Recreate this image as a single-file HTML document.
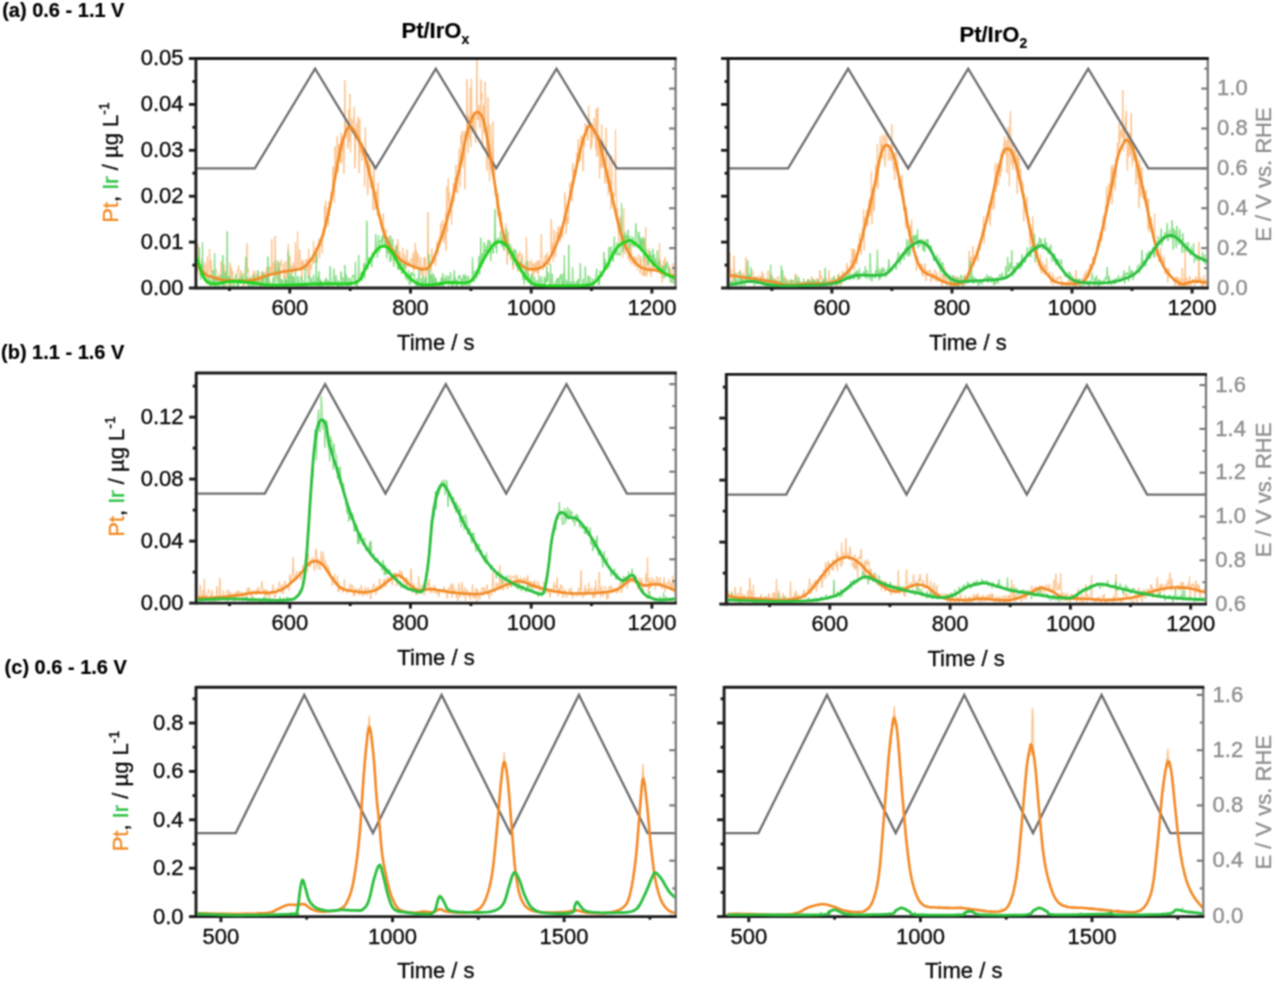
<!DOCTYPE html><html><head><meta charset="utf-8"><style>html,body{margin:0;padding:0;background:#fff;width:1280px;height:986px;overflow:hidden}svg{display:block}</style></head><body><svg width="1280" height="986" viewBox="0 0 1280 986" font-family='"Liberation Sans", sans-serif'>
<defs><filter id="soft" x="0" y="0" width="1" height="1" color-interpolation-filters="sRGB"><feConvolveMatrix order="3" kernelMatrix="1 2 1 2 4 2 1 2 1" divisor="16" edgeMode="duplicate" preserveAlpha="true"/></filter></defs>
<g filter="url(#soft)">
<rect width="1280" height="986" fill="#fff"/>
<clipPath id="clipLa"><rect x="197.1" y="59.7" width="477.50000000000006" height="227.3"/></clipPath>
<clipPath id="clipbLa"><rect x="197.1" y="59.7" width="477.50000000000006" height="230.0"/></clipPath>
<g clip-path="url(#clipLa)">
<path d="M196.4,260.7 L197.0,272.9 L197.5,267.8 L198.1,243.7 L198.6,268.9 L199.2,267.0 L199.7,275.2 L200.3,271.2 L200.8,273.7 L201.4,270.3 L201.9,259.4 L202.5,274.3 L203.0,263.6 L203.6,268.6 L204.1,273.5 L204.7,268.4 L205.2,262.6 L205.8,266.2 L206.3,284.3 L206.9,276.3 L207.4,256.3 L208.0,273.8 L208.5,271.7 L209.1,270.5 L209.6,249.0 L210.2,270.0 L210.7,278.1 L211.3,260.0 L211.8,271.2 L212.4,285.0 L212.9,280.7 L213.5,282.4 L214.0,282.8 L214.6,278.2 L215.1,282.7 L215.7,282.6 L216.2,269.1 L216.8,273.6 L217.3,281.6 L217.9,276.7 L218.4,282.0 L219.0,274.3 L219.5,279.5 L220.1,274.9 L220.6,273.2 L221.2,261.4 L221.7,268.2 L222.3,282.8 L222.8,276.8 L223.4,275.0 L223.9,272.3 L224.5,264.6 L225.0,283.1 L225.6,271.5 L226.1,286.3 L226.7,277.8 L227.2,274.8 L227.8,282.0 L228.3,276.3 L228.9,286.1 L229.4,282.8 L230.0,262.7 L230.5,273.4 L231.1,276.2 L231.6,267.0 L232.2,282.3 L232.7,271.2 L233.3,286.5 L233.8,282.4 L234.4,286.2 L234.9,281.9 L235.5,282.8 L236.0,279.4 L236.6,280.2 L237.1,273.6 L237.7,269.4 L238.2,270.0 L238.8,265.5 L239.3,281.9 L239.9,279.6 L240.4,276.3 L241.0,270.5 L241.5,280.5 L242.1,281.7 L242.6,279.7 L243.2,286.3 L243.7,281.2 L244.3,285.9 L244.8,272.9 L245.4,282.9 L245.9,283.6 L246.5,284.4 L247.0,243.5 L247.6,272.5 L248.1,268.5 L248.7,275.8 L249.2,277.3 L249.8,282.2 L250.3,277.8 L250.9,282.0 L251.4,286.0 L252.0,276.3 L252.5,274.0 L253.1,286.5 L253.6,270.6 L254.2,273.2 L254.7,272.8 L255.3,271.7 L255.8,283.7 L256.4,285.8 L256.9,274.0 L257.5,274.1 L258.0,283.4 L258.6,273.0 L259.1,286.2 L259.7,284.8 L260.2,276.2 L260.8,286.5 L261.3,272.2 L261.9,278.1 L262.4,270.8 L263.0,284.1 L263.5,280.1 L264.1,280.2 L264.6,275.2 L265.2,271.6 L265.7,276.5 L266.3,272.1 L266.8,267.3 L267.4,269.1 L267.9,273.7 L268.5,285.8 L269.0,285.0 L269.6,267.0 L270.1,266.4 L270.7,269.8 L271.2,275.2 L271.8,239.3 L272.3,272.3 L272.9,274.7 L273.4,262.5 L274.0,274.1 L274.5,276.4 L275.1,235.9 L275.6,262.3 L276.2,265.2 L276.7,277.0 L277.3,281.0 L277.8,260.4 L278.4,276.5 L278.9,268.3 L279.5,271.0 L280.0,279.0 L280.6,272.3 L281.1,259.7 L281.7,265.7 L282.2,264.5 L282.8,264.0 L283.3,270.9 L283.9,277.1 L284.4,266.4 L285.0,261.6 L285.5,274.7 L286.1,282.0 L286.6,279.7 L287.2,261.5 L287.7,263.1 L288.3,244.4 L288.8,262.2 L289.4,274.7 L289.9,255.6 L290.5,272.2 L291.0,266.0 L291.6,279.6 L292.1,265.6 L292.7,273.4 L293.2,263.2 L293.8,262.7 L294.3,271.0 L294.9,264.1 L295.4,242.4 L296.0,270.5 L296.5,271.5 L297.1,263.1 L297.6,231.6 L298.2,267.4 L298.7,264.6 L299.3,260.0 L299.8,249.7 L300.4,270.7 L300.9,263.7 L301.5,261.7 L302.0,279.4 L302.6,259.8 L303.1,260.5 L303.7,269.9 L304.2,266.1 L304.8,263.9 L305.3,263.7 L305.9,259.3 L306.4,270.4 L307.0,263.4 L307.5,258.9 L308.1,277.5 L308.6,248.8 L309.2,260.4 L309.7,274.4 L310.3,263.9 L310.8,264.4 L311.4,269.4 L311.9,264.2 L312.5,259.0 L313.0,264.1 L313.6,240.8 L314.1,262.9 L314.7,257.8 L315.2,262.9 L315.8,247.4 L316.3,252.3 L316.9,260.3 L317.4,262.8 L318.0,244.4 L318.5,243.7 L319.1,239.0 L319.6,258.2 L320.2,237.7 L320.7,240.8 L321.3,245.7 L321.8,243.4 L322.4,253.5 L322.9,230.0 L323.5,227.3 L324.0,236.5 L324.6,205.4 L325.1,229.2 L325.7,200.6 L326.2,227.0 L326.8,217.2 L327.3,217.7 L327.9,207.8 L328.4,225.5 L329.0,201.9 L329.5,215.7 L330.1,200.8 L330.6,200.0 L331.2,192.0 L331.7,198.4 L332.3,197.6 L332.8,167.1 L333.4,166.3 L333.9,187.6 L334.5,202.8 L335.0,146.5 L335.6,179.9 L336.1,173.6 L336.7,160.9 L337.2,136.4 L337.8,146.7 L338.3,172.8 L338.9,144.7 L339.4,157.8 L340.0,143.4 L340.5,163.3 L341.1,132.8 L341.6,162.8 L342.2,143.4 L342.7,150.0 L343.3,138.9 L343.8,173.9 L344.4,148.2 L344.9,80.2 L345.5,138.3 L346.0,135.9 L346.6,123.9 L347.1,131.5 L347.7,148.7 L348.2,146.3 L348.8,108.9 L349.3,141.9 L349.9,94.1 L350.4,152.6 L351.0,133.0 L351.5,117.9 L352.1,125.6 L352.6,133.0 L353.2,120.3 L353.7,123.1 L354.3,106.8 L354.8,168.3 L355.4,154.9 L355.9,136.4 L356.5,123.0 L357.0,133.3 L357.6,124.1 L358.1,116.6 L358.7,151.1 L359.2,173.1 L359.8,119.0 L360.3,146.3 L360.9,152.6 L361.4,150.6 L362.0,160.7 L362.5,142.8 L363.1,153.2 L363.6,153.2 L364.2,153.3 L364.7,186.7 L365.3,127.1 L365.8,154.0 L366.4,165.2 L366.9,161.2 L367.5,195.4 L368.0,192.6 L368.6,154.3 L369.1,172.3 L369.7,170.2 L370.2,164.3 L370.8,188.5 L371.3,177.9 L371.9,182.6 L372.4,180.1 L373.0,210.1 L373.5,161.5 L374.1,172.1 L374.6,188.4 L375.2,209.6 L375.7,191.2 L376.3,190.6 L376.8,197.9 L377.4,215.8 L377.9,182.7 L378.5,210.3 L379.0,217.6 L379.6,214.9 L380.1,213.9 L380.7,219.0 L381.2,227.1 L381.8,225.1 L382.3,230.1 L382.9,216.5 L383.4,213.4 L384.0,238.9 L384.5,227.6 L385.1,238.2 L385.6,232.3 L386.2,229.8 L386.7,248.3 L387.3,252.4 L387.8,247.3 L388.4,249.0 L388.9,236.4 L389.5,249.6 L390.0,235.9 L390.6,236.4 L391.1,246.8 L391.7,244.4 L392.2,251.0 L392.8,255.4 L393.3,248.7 L393.9,255.5 L394.4,248.9 L395.0,259.8 L395.5,245.2 L396.1,251.6 L396.6,248.2 L397.2,262.3 L397.7,239.1 L398.3,246.3 L398.8,269.9 L399.4,255.9 L399.9,251.6 L400.5,269.8 L401.0,268.0 L401.6,258.4 L402.1,259.4 L402.7,247.6 L403.2,266.8 L403.8,271.5 L404.3,253.9 L404.9,255.5 L405.4,263.6 L406.0,269.5 L406.5,264.6 L407.1,249.5 L407.6,265.7 L408.2,265.9 L408.7,261.6 L409.3,263.8 L409.8,266.2 L410.4,262.9 L410.9,258.0 L411.5,258.5 L412.0,260.4 L412.6,268.6 L413.1,252.4 L413.7,271.4 L414.2,268.1 L414.8,253.4 L415.3,242.7 L415.9,267.4 L416.4,250.4 L417.0,268.8 L417.5,256.3 L418.1,253.6 L418.6,260.1 L419.2,269.4 L419.7,270.6 L420.3,264.1 L420.8,257.0 L421.4,275.1 L421.9,266.0 L422.5,273.3 L423.0,276.9 L423.6,268.8 L424.1,257.3 L424.7,267.6 L425.2,257.5 L425.8,279.2 L426.3,268.6 L426.9,271.4 L427.4,263.7 L428.0,212.4 L428.5,271.4 L429.1,274.9 L429.6,260.7 L430.2,263.3 L430.7,266.0 L431.3,273.1 L431.8,248.3 L432.4,262.7 L432.9,260.8 L433.5,263.7 L434.0,258.4 L434.6,255.3 L435.1,259.5 L435.7,265.9 L436.2,253.5 L436.8,243.4 L437.3,241.2 L437.9,254.3 L438.4,245.5 L439.0,241.0 L439.5,236.4 L440.1,244.8 L440.6,223.4 L441.2,240.6 L441.7,241.0 L442.3,219.7 L442.8,221.2 L443.4,224.6 L443.9,242.9 L444.5,229.5 L445.0,237.9 L445.6,212.8 L446.1,250.9 L446.7,186.4 L447.2,232.3 L447.8,222.6 L448.3,177.9 L448.9,201.2 L449.4,191.5 L450.0,211.2 L450.5,213.1 L451.1,209.6 L451.6,224.5 L452.2,196.0 L452.7,205.6 L453.3,183.3 L453.8,202.2 L454.4,197.0 L454.9,176.9 L455.5,191.4 L456.0,164.7 L456.6,193.1 L457.1,186.3 L457.7,193.3 L458.2,178.8 L458.8,157.6 L459.3,148.3 L459.9,148.5 L460.4,186.6 L461.0,135.2 L461.5,144.3 L462.1,131.6 L462.6,168.1 L463.2,145.0 L463.7,160.8 L464.3,130.9 L464.8,189.4 L465.4,138.1 L465.9,131.7 L466.5,134.6 L467.0,79.3 L467.6,112.2 L468.1,152.7 L468.7,115.4 L469.2,138.9 L469.8,116.8 L470.3,87.7 L470.9,147.2 L471.4,78.9 L472.0,123.8 L472.5,113.3 L473.1,132.9 L473.6,112.9 L474.2,111.4 L474.7,129.6 L475.3,138.5 L475.8,142.9 L476.4,104.3 L476.9,58.8 L477.5,119.3 L478.0,120.2 L478.6,116.7 L479.1,105.3 L479.7,127.3 L480.2,128.4 L480.8,79.6 L481.3,99.3 L481.9,92.9 L482.4,148.6 L483.0,107.2 L483.5,105.1 L484.1,132.9 L484.6,123.0 L485.2,81.8 L485.7,121.0 L486.3,137.6 L486.8,170.7 L487.4,156.4 L487.9,97.1 L488.5,127.3 L489.0,164.8 L489.6,181.6 L490.1,124.4 L490.7,137.2 L491.2,169.1 L491.8,161.1 L492.3,174.7 L492.9,121.5 L493.4,153.5 L494.0,178.4 L494.5,168.3 L495.1,194.9 L495.6,189.1 L496.2,186.9 L496.7,207.8 L497.3,209.2 L497.8,215.6 L498.4,193.8 L498.9,215.9 L499.5,218.8 L500.0,219.4 L500.6,225.1 L501.1,212.0 L501.7,227.0 L502.2,221.8 L502.8,241.2 L503.3,230.0 L503.9,251.1 L504.4,250.1 L505.0,240.8 L505.5,223.0 L506.1,232.7 L506.6,251.7 L507.2,264.9 L507.7,253.2 L508.3,231.8 L508.8,244.6 L509.4,246.8 L509.9,249.7 L510.5,250.4 L511.0,260.1 L511.6,245.8 L512.1,254.1 L512.7,264.7 L513.2,269.9 L513.8,249.4 L514.3,260.9 L514.9,250.8 L515.4,265.9 L516.0,263.0 L516.5,259.0 L517.1,253.7 L517.6,271.6 L518.2,265.9 L518.7,253.9 L519.3,256.1 L519.8,251.3 L520.4,270.6 L520.9,261.6 L521.5,260.4 L522.0,253.8 L522.6,260.7 L523.1,261.7 L523.7,268.1 L524.2,266.3 L524.8,276.3 L525.3,263.3 L525.9,267.1 L526.4,236.9 L527.0,255.9 L527.5,276.0 L528.1,276.3 L528.6,275.6 L529.2,260.8 L529.7,269.3 L530.3,268.3 L530.8,268.7 L531.4,259.6 L531.9,267.2 L532.5,275.4 L533.0,263.6 L533.6,276.4 L534.1,262.8 L534.7,270.6 L535.2,264.6 L535.8,273.0 L536.3,261.8 L536.9,270.3 L537.4,273.1 L538.0,260.3 L538.5,276.8 L539.1,260.8 L539.6,268.0 L540.2,269.4 L540.7,258.1 L541.3,234.0 L541.8,253.0 L542.4,258.6 L542.9,270.2 L543.5,261.9 L544.0,263.4 L544.6,267.2 L545.1,255.1 L545.7,267.1 L546.2,257.1 L546.8,254.2 L547.3,252.0 L547.9,265.5 L548.4,261.1 L549.0,265.1 L549.5,258.2 L550.1,258.0 L550.6,260.2 L551.2,219.0 L551.7,252.0 L552.3,253.6 L552.8,243.5 L553.4,262.1 L553.9,229.7 L554.5,233.3 L555.0,255.4 L555.6,257.3 L556.1,240.7 L556.7,232.4 L557.2,238.0 L557.8,227.3 L558.3,238.9 L558.9,237.1 L559.4,225.9 L560.0,227.4 L560.5,241.8 L561.1,231.1 L561.6,237.7 L562.2,229.5 L562.7,236.9 L563.3,224.8 L563.8,216.8 L564.4,210.2 L564.9,192.4 L565.5,199.5 L566.0,233.7 L566.6,217.5 L567.1,224.0 L567.7,216.7 L568.2,223.4 L568.8,209.3 L569.3,200.3 L569.9,183.3 L570.4,188.2 L571.0,184.1 L571.5,181.4 L572.1,201.5 L572.6,166.2 L573.2,163.1 L573.7,177.7 L574.3,174.5 L574.8,169.5 L575.4,176.2 L575.9,173.8 L576.5,158.6 L577.0,152.7 L577.6,165.8 L578.1,139.0 L578.7,146.0 L579.2,154.6 L579.8,153.6 L580.3,161.5 L580.9,137.1 L581.4,135.0 L582.0,151.1 L582.5,153.9 L583.1,171.1 L583.6,139.2 L584.2,135.6 L584.7,146.5 L585.3,123.2 L585.8,135.8 L586.4,136.1 L586.9,124.8 L587.5,140.5 L588.0,140.0 L588.6,105.7 L589.1,123.1 L589.7,119.4 L590.2,120.8 L590.8,149.6 L591.3,123.3 L591.8,146.9 L592.4,130.8 L592.9,124.1 L593.5,137.8 L594.0,118.0 L594.6,120.5 L595.1,120.6 L595.7,149.5 L596.2,108.8 L596.8,156.9 L597.3,119.8 L597.9,107.1 L598.4,155.8 L599.0,134.9 L599.5,178.7 L600.1,150.1 L600.6,154.5 L601.2,168.4 L601.7,124.5 L602.3,166.4 L602.8,140.1 L603.4,142.9 L603.9,169.0 L604.5,169.6 L605.0,183.8 L605.6,165.9 L606.1,127.9 L606.7,165.0 L607.2,182.7 L607.8,169.6 L608.3,195.5 L608.9,185.0 L609.4,156.1 L610.0,191.9 L610.5,180.2 L611.1,209.0 L611.6,155.8 L612.2,203.4 L612.7,193.0 L613.3,205.3 L613.8,193.2 L614.4,196.1 L614.9,195.9 L615.5,129.5 L616.0,190.0 L616.6,197.8 L617.1,216.6 L617.7,208.4 L618.2,232.2 L618.8,243.5 L619.3,217.1 L619.9,228.4 L620.4,231.6 L621.0,217.7 L621.5,223.2 L622.1,239.9 L622.6,257.4 L623.2,218.8 L623.7,208.4 L624.3,248.3 L624.8,248.0 L625.4,254.7 L625.9,235.3 L626.5,243.7 L627.0,246.5 L627.6,235.8 L628.1,259.1 L628.7,254.3 L629.2,248.9 L629.8,262.1 L630.3,258.6 L630.9,243.2 L631.4,253.2 L632.0,264.7 L632.5,260.6 L633.1,259.1 L633.6,263.0 L634.2,256.6 L634.7,266.9 L635.3,260.6 L635.8,256.9 L636.4,260.8 L636.9,259.9 L637.5,270.4 L638.0,258.0 L638.6,254.5 L639.1,258.4 L639.7,259.4 L640.2,273.6 L640.8,256.5 L641.3,260.0 L641.9,266.2 L642.4,275.8 L643.0,274.7 L643.5,275.2 L644.1,255.2 L644.6,276.2 L645.2,275.2 L645.7,227.2 L646.3,276.8 L646.8,275.2 L647.4,274.4 L647.9,267.2 L648.5,255.0 L649.0,248.3 L649.6,272.2 L650.1,271.9 L650.7,268.4 L651.2,276.8 L651.8,264.4 L652.3,262.0 L652.9,267.3 L653.4,264.8 L654.0,271.1 L654.5,261.7 L655.1,259.9 L655.6,259.9 L656.2,264.1 L656.7,268.1 L657.3,262.2 L657.8,261.8 L658.4,270.1 L658.9,270.4 L659.5,243.0 L660.0,263.2 L660.6,260.0 L661.1,275.2 L661.7,264.7 L662.2,282.6 L662.8,265.2 L663.3,265.7 L663.9,260.0 L664.4,271.9 L665.0,257.3 L665.5,267.1 L666.1,268.4 L666.6,266.1 L667.2,265.1 L667.7,264.2 L668.3,271.3 L668.8,268.9 L669.4,265.4 L669.9,278.1 L670.5,268.5 L671.0,274.9 L671.6,282.8 L672.1,274.9 L672.7,270.8 L673.2,263.3 L673.8,266.7 L674.3,278.2 L674.9,282.3" fill="none" stroke="#fcbf86" stroke-width="1.0" stroke-linejoin="round"/>
<path d="M196.4,256.6 L197.0,262.4 L197.5,263.6 L198.1,260.5 L198.6,262.5 L199.2,247.5 L199.7,262.8 L200.3,270.8 L200.8,279.5 L201.4,264.2 L201.9,272.4 L202.5,242.0 L203.0,275.4 L203.6,272.5 L204.1,273.0 L204.7,277.4 L205.2,271.6 L205.8,274.9 L206.3,273.8 L206.9,278.2 L207.4,281.4 L208.0,283.4 L208.5,284.0 L209.1,274.8 L209.6,279.0 L210.2,286.4 L210.7,279.8 L211.3,286.0 L211.8,282.5 L212.4,282.8 L212.9,270.1 L213.5,284.2 L214.0,286.4 L214.6,253.3 L215.1,279.5 L215.7,286.2 L216.2,280.6 L216.8,276.4 L217.3,282.0 L217.9,286.4 L218.4,286.4 L219.0,286.4 L219.5,276.7 L220.1,282.7 L220.6,280.3 L221.2,274.7 L221.7,280.2 L222.3,286.4 L222.8,255.1 L223.4,277.1 L223.9,286.5 L224.5,286.3 L225.0,272.7 L225.6,281.2 L226.1,281.5 L226.7,277.0 L227.2,231.4 L227.8,277.1 L228.3,278.9 L228.9,276.7 L229.4,286.4 L230.0,276.0 L230.5,279.6 L231.1,286.4 L231.6,279.6 L232.2,282.9 L232.7,281.4 L233.3,280.5 L233.8,286.3 L234.4,279.6 L234.9,277.8 L235.5,277.7 L236.0,274.1 L236.6,280.9 L237.1,286.4 L237.7,283.3 L238.2,286.3 L238.8,278.1 L239.3,284.2 L239.9,282.0 L240.4,278.1 L241.0,283.9 L241.5,276.1 L242.1,280.8 L242.6,273.5 L243.2,284.1 L243.7,279.6 L244.3,279.1 L244.8,274.5 L245.4,266.2 L245.9,256.8 L246.5,281.9 L247.0,277.0 L247.6,277.1 L248.1,286.3 L248.7,279.7 L249.2,286.3 L249.8,279.6 L250.3,277.2 L250.9,286.2 L251.4,286.4 L252.0,282.3 L252.5,280.8 L253.1,286.3 L253.6,276.1 L254.2,274.8 L254.7,285.9 L255.3,279.2 L255.8,285.1 L256.4,284.9 L256.9,286.4 L257.5,279.0 L258.0,270.2 L258.6,277.8 L259.1,280.9 L259.7,286.2 L260.2,285.8 L260.8,286.5 L261.3,286.1 L261.9,275.0 L262.4,281.4 L263.0,272.2 L263.5,283.8 L264.1,286.3 L264.6,285.8 L265.2,276.4 L265.7,277.4 L266.3,283.7 L266.8,275.2 L267.4,286.0 L267.9,256.5 L268.5,278.8 L269.0,284.6 L269.6,284.2 L270.1,281.8 L270.7,284.8 L271.2,286.4 L271.8,284.3 L272.3,286.4 L272.9,279.6 L273.4,277.0 L274.0,284.5 L274.5,271.5 L275.1,271.5 L275.6,259.8 L276.2,286.2 L276.7,286.5 L277.3,286.5 L277.8,285.7 L278.4,280.6 L278.9,262.3 L279.5,286.4 L280.0,280.8 L280.6,278.7 L281.1,284.1 L281.7,281.1 L282.2,279.0 L282.8,286.2 L283.3,286.5 L283.9,286.1 L284.4,277.1 L285.0,286.1 L285.5,280.0 L286.1,286.2 L286.6,279.7 L287.2,281.1 L287.7,286.3 L288.3,250.6 L288.8,286.1 L289.4,275.7 L289.9,285.5 L290.5,274.0 L291.0,273.7 L291.6,285.0 L292.1,286.3 L292.7,276.0 L293.2,285.3 L293.8,277.0 L294.3,284.0 L294.9,285.7 L295.4,267.9 L296.0,283.5 L296.5,286.4 L297.1,283.4 L297.6,275.8 L298.2,279.6 L298.7,284.5 L299.3,286.4 L299.8,281.7 L300.4,276.7 L300.9,276.5 L301.5,277.2 L302.0,286.4 L302.6,279.8 L303.1,285.8 L303.7,283.3 L304.2,286.3 L304.8,284.2 L305.3,268.3 L305.9,286.4 L306.4,282.7 L307.0,282.2 L307.5,286.0 L308.1,286.2 L308.6,276.2 L309.2,278.1 L309.7,274.9 L310.3,283.9 L310.8,280.8 L311.4,277.8 L311.9,286.5 L312.5,282.4 L313.0,281.9 L313.6,274.7 L314.1,282.9 L314.7,280.8 L315.2,286.3 L315.8,284.8 L316.3,254.2 L316.9,285.1 L317.4,286.0 L318.0,277.1 L318.5,286.3 L319.1,271.4 L319.6,286.2 L320.2,279.2 L320.7,286.5 L321.3,286.4 L321.8,280.9 L322.4,281.1 L322.9,286.3 L323.5,286.1 L324.0,286.2 L324.6,280.6 L325.1,279.7 L325.7,282.2 L326.2,277.7 L326.8,286.5 L327.3,285.7 L327.9,280.4 L328.4,284.3 L329.0,286.3 L329.5,285.0 L330.1,266.2 L330.6,274.6 L331.2,284.3 L331.7,286.4 L332.3,285.0 L332.8,280.9 L333.4,277.9 L333.9,268.7 L334.5,286.1 L335.0,281.7 L335.6,283.3 L336.1,275.4 L336.7,282.1 L337.2,286.2 L337.8,286.4 L338.3,280.4 L338.9,286.5 L339.4,286.0 L340.0,280.5 L340.5,279.7 L341.1,271.5 L341.6,276.3 L342.2,286.5 L342.7,277.3 L343.3,283.8 L343.8,284.2 L344.4,285.0 L344.9,265.1 L345.5,286.0 L346.0,274.1 L346.6,275.8 L347.1,283.2 L347.7,286.4 L348.2,277.6 L348.8,286.1 L349.3,286.1 L349.9,285.5 L350.4,277.9 L351.0,285.5 L351.5,280.9 L352.1,281.6 L352.6,274.9 L353.2,276.8 L353.7,275.2 L354.3,277.8 L354.8,284.2 L355.4,261.8 L355.9,286.1 L356.5,283.3 L357.0,286.4 L357.6,286.1 L358.1,276.0 L358.7,255.1 L359.2,282.0 L359.8,277.3 L360.3,278.3 L360.9,274.0 L361.4,271.7 L362.0,280.6 L362.5,271.5 L363.1,276.6 L363.6,263.6 L364.2,263.1 L364.7,278.6 L365.3,268.0 L365.8,262.2 L366.4,256.1 L366.9,220.8 L367.5,269.0 L368.0,269.2 L368.6,257.3 L369.1,258.8 L369.7,260.4 L370.2,262.0 L370.8,259.9 L371.3,264.9 L371.9,267.1 L372.4,252.4 L373.0,253.6 L373.5,254.7 L374.1,257.4 L374.6,249.6 L375.2,252.4 L375.7,234.2 L376.3,247.7 L376.8,250.0 L377.4,257.7 L377.9,247.6 L378.5,235.0 L379.0,251.4 L379.6,252.6 L380.1,240.4 L380.7,242.9 L381.2,241.6 L381.8,236.7 L382.3,245.6 L382.9,234.7 L383.4,237.3 L384.0,238.5 L384.5,244.8 L385.1,246.1 L385.6,236.7 L386.2,246.9 L386.7,258.5 L387.3,236.9 L387.8,244.0 L388.4,254.0 L388.9,239.8 L389.5,249.3 L390.0,262.2 L390.6,235.6 L391.1,254.3 L391.7,260.3 L392.2,243.1 L392.8,239.0 L393.3,256.2 L393.9,266.6 L394.4,256.1 L395.0,249.9 L395.5,256.1 L396.1,255.3 L396.6,245.0 L397.2,263.5 L397.7,269.4 L398.3,267.8 L398.8,266.4 L399.4,269.8 L399.9,268.0 L400.5,261.6 L401.0,260.9 L401.6,274.1 L402.1,270.2 L402.7,272.1 L403.2,263.8 L403.8,270.5 L404.3,263.7 L404.9,264.8 L405.4,278.5 L406.0,275.9 L406.5,272.5 L407.1,280.5 L407.6,278.1 L408.2,271.3 L408.7,270.4 L409.3,284.9 L409.8,274.6 L410.4,273.7 L410.9,283.7 L411.5,272.2 L412.0,273.3 L412.6,272.5 L413.1,275.8 L413.7,276.1 L414.2,273.5 L414.8,283.1 L415.3,284.7 L415.9,286.3 L416.4,285.8 L417.0,278.3 L417.5,286.2 L418.1,286.1 L418.6,280.4 L419.2,267.1 L419.7,280.7 L420.3,285.9 L420.8,286.1 L421.4,278.1 L421.9,286.4 L422.5,286.3 L423.0,275.8 L423.6,279.2 L424.1,286.3 L424.7,280.5 L425.2,278.3 L425.8,283.4 L426.3,276.8 L426.9,286.4 L427.4,285.1 L428.0,286.4 L428.5,286.3 L429.1,254.1 L429.6,285.9 L430.2,279.3 L430.7,274.9 L431.3,285.9 L431.8,273.8 L432.4,286.2 L432.9,278.4 L433.5,273.3 L434.0,286.4 L434.6,276.5 L435.1,282.8 L435.7,284.1 L436.2,278.2 L436.8,286.3 L437.3,284.2 L437.9,286.2 L438.4,284.5 L439.0,286.2 L439.5,281.6 L440.1,285.7 L440.6,286.0 L441.2,277.6 L441.7,285.0 L442.3,286.4 L442.8,273.3 L443.4,286.3 L443.9,277.9 L444.5,282.9 L445.0,281.2 L445.6,282.7 L446.1,275.2 L446.7,282.9 L447.2,283.7 L447.8,280.3 L448.3,276.2 L448.9,283.4 L449.4,285.7 L450.0,275.9 L450.5,272.0 L451.1,277.8 L451.6,285.5 L452.2,283.9 L452.7,286.4 L453.3,286.3 L453.8,277.1 L454.4,270.2 L454.9,283.9 L455.5,277.6 L456.0,286.3 L456.6,279.9 L457.1,286.0 L457.7,286.3 L458.2,279.4 L458.8,275.6 L459.3,278.2 L459.9,275.3 L460.4,280.0 L461.0,278.9 L461.5,286.4 L462.1,278.8 L462.6,286.4 L463.2,274.4 L463.7,279.2 L464.3,276.4 L464.8,285.9 L465.4,274.2 L465.9,277.4 L466.5,284.4 L467.0,286.1 L467.6,276.2 L468.1,276.0 L468.7,276.4 L469.2,286.5 L469.8,286.1 L470.3,282.8 L470.9,278.8 L471.4,281.4 L472.0,279.5 L472.5,257.0 L473.1,273.9 L473.6,270.8 L474.2,282.3 L474.7,278.6 L475.3,276.3 L475.8,270.9 L476.4,278.8 L476.9,278.1 L477.5,273.5 L478.0,274.8 L478.6,262.6 L479.1,255.9 L479.7,274.4 L480.2,264.8 L480.8,237.7 L481.3,267.6 L481.9,266.0 L482.4,253.6 L483.0,264.0 L483.5,256.5 L484.1,242.3 L484.6,256.9 L485.2,250.1 L485.7,251.8 L486.3,245.3 L486.8,253.8 L487.4,254.0 L487.9,239.8 L488.5,240.5 L489.0,246.7 L489.6,251.6 L490.1,240.3 L490.7,261.2 L491.2,248.5 L491.8,245.6 L492.3,243.6 L492.9,253.1 L493.4,253.4 L494.0,241.4 L494.5,243.3 L495.1,209.2 L495.6,248.1 L496.2,240.1 L496.7,253.4 L497.3,238.9 L497.8,237.6 L498.4,238.1 L498.9,241.9 L499.5,243.5 L500.0,243.4 L500.6,231.3 L501.1,237.9 L501.7,246.8 L502.2,239.4 L502.8,246.2 L503.3,240.1 L503.9,249.5 L504.4,242.7 L505.0,239.7 L505.5,234.5 L506.1,245.4 L506.6,228.3 L507.2,239.4 L507.7,244.9 L508.3,254.7 L508.8,243.8 L509.4,245.9 L509.9,243.8 L510.5,257.9 L511.0,251.1 L511.6,251.3 L512.1,253.1 L512.7,265.4 L513.2,257.3 L513.8,248.9 L514.3,260.6 L514.9,249.8 L515.4,252.0 L516.0,250.4 L516.5,264.9 L517.1,268.1 L517.6,268.6 L518.2,264.8 L518.7,265.9 L519.3,271.1 L519.8,261.8 L520.4,266.6 L520.9,272.6 L521.5,260.0 L522.0,269.3 L522.6,277.6 L523.1,279.7 L523.7,273.7 L524.2,284.4 L524.8,277.6 L525.3,270.8 L525.9,280.2 L526.4,266.8 L527.0,260.8 L527.5,278.3 L528.1,282.6 L528.6,273.7 L529.2,280.5 L529.7,280.9 L530.3,277.5 L530.8,285.7 L531.4,273.9 L531.9,282.5 L532.5,275.6 L533.0,280.9 L533.6,285.9 L534.1,286.4 L534.7,276.9 L535.2,286.3 L535.8,282.8 L536.3,281.1 L536.9,280.0 L537.4,283.8 L538.0,286.5 L538.5,286.4 L539.1,276.2 L539.6,280.0 L540.2,285.3 L540.7,285.7 L541.3,277.8 L541.8,276.4 L542.4,286.0 L542.9,286.4 L543.5,286.3 L544.0,283.0 L544.6,276.7 L545.1,286.2 L545.7,278.6 L546.2,282.5 L546.8,266.8 L547.3,281.6 L547.9,277.8 L548.4,272.6 L549.0,281.3 L549.5,284.4 L550.1,286.5 L550.6,264.4 L551.2,286.3 L551.7,286.3 L552.3,273.9 L552.8,281.4 L553.4,283.8 L553.9,283.2 L554.5,286.3 L555.0,286.5 L555.6,285.5 L556.1,280.6 L556.7,286.4 L557.2,277.9 L557.8,281.4 L558.3,278.5 L558.9,286.5 L559.4,286.5 L560.0,275.7 L560.5,279.1 L561.1,274.1 L561.6,286.0 L562.2,286.3 L562.7,280.6 L563.3,273.3 L563.8,286.4 L564.4,255.3 L564.9,280.1 L565.5,286.2 L566.0,283.0 L566.6,279.7 L567.1,283.7 L567.7,282.1 L568.2,286.3 L568.8,244.9 L569.3,286.5 L569.9,284.4 L570.4,282.8 L571.0,281.9 L571.5,286.4 L572.1,286.3 L572.6,267.0 L573.2,285.8 L573.7,286.3 L574.3,281.8 L574.8,283.0 L575.4,286.5 L575.9,286.3 L576.5,280.9 L577.0,285.1 L577.6,284.8 L578.1,279.0 L578.7,286.4 L579.2,281.5 L579.8,279.1 L580.3,263.2 L580.9,280.9 L581.4,286.5 L582.0,286.2 L582.5,286.4 L583.1,278.7 L583.6,281.4 L584.2,286.2 L584.7,286.4 L585.3,266.5 L585.8,279.5 L586.4,286.3 L586.9,286.1 L587.5,286.3 L588.0,275.5 L588.6,278.0 L589.1,285.8 L589.7,284.9 L590.2,276.6 L590.8,282.1 L591.3,282.5 L591.8,285.7 L592.4,284.3 L592.9,278.4 L593.5,286.3 L594.0,284.7 L594.6,283.0 L595.1,283.1 L595.7,274.6 L596.2,273.3 L596.8,268.4 L597.3,278.3 L597.9,275.7 L598.4,285.1 L599.0,279.8 L599.5,284.8 L600.1,270.5 L600.6,276.2 L601.2,274.9 L601.7,274.9 L602.3,276.9 L602.8,272.7 L603.4,272.0 L603.9,252.2 L604.5,267.8 L605.0,258.9 L605.6,264.3 L606.1,266.2 L606.7,267.2 L607.2,266.9 L607.8,269.3 L608.3,263.5 L608.9,246.9 L609.4,266.9 L610.0,259.2 L610.5,257.5 L611.1,246.7 L611.6,252.9 L612.2,259.7 L612.7,251.3 L613.3,262.0 L613.8,246.1 L614.4,236.7 L614.9,251.5 L615.5,250.1 L616.0,255.3 L616.6,253.7 L617.1,242.6 L617.7,247.3 L618.2,255.4 L618.8,254.2 L619.3,253.2 L619.9,255.5 L620.4,252.8 L621.0,242.8 L621.5,202.9 L622.1,242.0 L622.6,236.7 L623.2,252.6 L623.7,235.4 L624.3,239.8 L624.8,231.8 L625.4,241.7 L625.9,242.0 L626.5,234.6 L627.0,235.7 L627.6,241.3 L628.1,229.7 L628.7,243.1 L629.2,249.3 L629.8,246.3 L630.3,235.8 L630.9,238.7 L631.4,244.1 L632.0,245.4 L632.5,245.7 L633.1,236.6 L633.6,245.4 L634.2,247.4 L634.7,244.6 L635.3,245.6 L635.8,223.4 L636.4,232.2 L636.9,231.8 L637.5,248.3 L638.0,239.5 L638.6,238.4 L639.1,231.8 L639.7,249.1 L640.2,237.4 L640.8,251.3 L641.3,238.9 L641.9,248.7 L642.4,245.2 L643.0,236.8 L643.5,261.5 L644.1,238.6 L644.6,246.4 L645.2,250.1 L645.7,247.8 L646.3,251.4 L646.8,250.7 L647.4,261.4 L647.9,265.3 L648.5,255.5 L649.0,258.8 L649.6,254.3 L650.1,251.1 L650.7,257.8 L651.2,254.9 L651.8,262.7 L652.3,265.3 L652.9,248.6 L653.4,264.6 L654.0,254.4 L654.5,266.3 L655.1,265.3 L655.6,258.7 L656.2,262.3 L656.7,267.2 L657.3,250.4 L657.8,259.0 L658.4,259.2 L658.9,272.7 L659.5,261.6 L660.0,265.6 L660.6,271.5 L661.1,273.3 L661.7,271.7 L662.2,267.8 L662.8,273.6 L663.3,266.2 L663.9,278.2 L664.4,269.9 L665.0,264.5 L665.5,277.4 L666.1,269.2 L666.6,265.9 L667.2,261.3 L667.7,266.8 L668.3,268.2 L668.8,277.1 L669.4,269.2 L669.9,280.1 L670.5,282.4 L671.0,282.0 L671.6,279.6 L672.1,274.6 L672.7,274.7 L673.2,283.5 L673.8,279.8 L674.3,273.7 L674.9,276.4" fill="none" stroke="#7ad97a" stroke-width="1.0" stroke-linejoin="round"/>
<polyline points="195.9,168.4 254.8,168.4 315.1,68.7 375.5,168.4 435.8,68.7 496.2,168.4 556.5,68.7 616.9,168.4 675.6,168.4" fill="none" stroke="#6e6e6e" stroke-width="2.3" stroke-linejoin="miter"/>
</g>
<line x1="675.6" y1="58.5" x2="675.6" y2="288.0" stroke="#7c7c7c" stroke-width="2.3"/>
<line x1="669.1" y1="288.0" x2="675.6" y2="288.0" stroke="#7c7c7c" stroke-width="2.2"/>
<line x1="669.1" y1="248.1" x2="675.6" y2="248.1" stroke="#7c7c7c" stroke-width="2.2"/>
<line x1="669.1" y1="208.2" x2="675.6" y2="208.2" stroke="#7c7c7c" stroke-width="2.2"/>
<line x1="669.1" y1="168.4" x2="675.6" y2="168.4" stroke="#7c7c7c" stroke-width="2.2"/>
<line x1="669.1" y1="128.5" x2="675.6" y2="128.5" stroke="#7c7c7c" stroke-width="2.2"/>
<line x1="669.1" y1="88.6" x2="675.6" y2="88.6" stroke="#7c7c7c" stroke-width="2.2"/>
<line x1="672.1" y1="268.1" x2="675.6" y2="268.1" stroke="#7c7c7c" stroke-width="2.2"/>
<line x1="672.1" y1="228.2" x2="675.6" y2="228.2" stroke="#7c7c7c" stroke-width="2.2"/>
<line x1="672.1" y1="188.3" x2="675.6" y2="188.3" stroke="#7c7c7c" stroke-width="2.2"/>
<line x1="672.1" y1="148.4" x2="675.6" y2="148.4" stroke="#7c7c7c" stroke-width="2.2"/>
<line x1="672.1" y1="108.5" x2="675.6" y2="108.5" stroke="#7c7c7c" stroke-width="2.2"/>
<line x1="672.1" y1="68.7" x2="675.6" y2="68.7" stroke="#7c7c7c" stroke-width="2.2"/>
<line x1="195.9" y1="57.25" x2="195.9" y2="289.25" stroke="#1c1c1c" stroke-width="2.9"/>
<line x1="188.9" y1="288.0" x2="195.9" y2="288.0" stroke="#1c1c1c" stroke-width="2.9"/>
<line x1="188.9" y1="242.1" x2="195.9" y2="242.1" stroke="#1c1c1c" stroke-width="2.9"/>
<line x1="188.9" y1="196.2" x2="195.9" y2="196.2" stroke="#1c1c1c" stroke-width="2.9"/>
<line x1="188.9" y1="150.3" x2="195.9" y2="150.3" stroke="#1c1c1c" stroke-width="2.9"/>
<line x1="188.9" y1="104.4" x2="195.9" y2="104.4" stroke="#1c1c1c" stroke-width="2.9"/>
<line x1="188.9" y1="58.5" x2="195.9" y2="58.5" stroke="#1c1c1c" stroke-width="2.9"/>
<line x1="192.4" y1="265.1" x2="195.9" y2="265.1" stroke="#1c1c1c" stroke-width="2.9"/>
<line x1="192.4" y1="219.2" x2="195.9" y2="219.2" stroke="#1c1c1c" stroke-width="2.9"/>
<line x1="192.4" y1="173.2" x2="195.9" y2="173.2" stroke="#1c1c1c" stroke-width="2.9"/>
<line x1="192.4" y1="127.3" x2="195.9" y2="127.3" stroke="#1c1c1c" stroke-width="2.9"/>
<line x1="192.4" y1="81.5" x2="195.9" y2="81.5" stroke="#1c1c1c" stroke-width="2.9"/>
<line x1="195.9" y1="58.5" x2="676.6" y2="58.5" stroke="#1c1c1c" stroke-width="2.9"/>
<line x1="195.9" y1="288.0" x2="676.6" y2="288.0" stroke="#1c1c1c" stroke-width="2.9"/>
<line x1="289.8" y1="288.0" x2="289.8" y2="293.5" stroke="#1c1c1c" stroke-width="2.9"/>
<line x1="410.5" y1="288.0" x2="410.5" y2="293.5" stroke="#1c1c1c" stroke-width="2.9"/>
<line x1="531.2" y1="288.0" x2="531.2" y2="293.5" stroke="#1c1c1c" stroke-width="2.9"/>
<line x1="651.9" y1="288.0" x2="651.9" y2="293.5" stroke="#1c1c1c" stroke-width="2.9"/>
<line x1="229.5" y1="288.0" x2="229.5" y2="291.0" stroke="#1c1c1c" stroke-width="2.9"/>
<line x1="350.2" y1="288.0" x2="350.2" y2="291.0" stroke="#1c1c1c" stroke-width="2.9"/>
<line x1="470.9" y1="288.0" x2="470.9" y2="291.0" stroke="#1c1c1c" stroke-width="2.9"/>
<line x1="591.5" y1="288.0" x2="591.5" y2="291.0" stroke="#1c1c1c" stroke-width="2.9"/>
<text x="289.8" y="315.3" font-size="22" text-anchor="middle" fill="#0a0a0a" stroke="#0a0a0a" stroke-width="0.35" font-weight="normal" >600</text>
<text x="410.5" y="315.3" font-size="22" text-anchor="middle" fill="#0a0a0a" stroke="#0a0a0a" stroke-width="0.35" font-weight="normal" >800</text>
<text x="531.2" y="315.3" font-size="22" text-anchor="middle" fill="#0a0a0a" stroke="#0a0a0a" stroke-width="0.35" font-weight="normal" >1000</text>
<text x="651.9" y="315.3" font-size="22" text-anchor="middle" fill="#0a0a0a" stroke="#0a0a0a" stroke-width="0.35" font-weight="normal" >1200</text>
<text x="435.8" y="349.6" font-size="22" text-anchor="middle" fill="#0a0a0a" stroke="#0a0a0a" stroke-width="0.35" font-weight="normal" >Time / s</text>
<text x="183.5" y="294.9" font-size="22" text-anchor="end" fill="#0a0a0a" stroke="#0a0a0a" stroke-width="0.35" font-weight="normal" >0.00</text>
<text x="183.5" y="249.0" font-size="22" text-anchor="end" fill="#0a0a0a" stroke="#0a0a0a" stroke-width="0.35" font-weight="normal" >0.01</text>
<text x="183.5" y="203.1" font-size="22" text-anchor="end" fill="#0a0a0a" stroke="#0a0a0a" stroke-width="0.35" font-weight="normal" >0.02</text>
<text x="183.5" y="157.2" font-size="22" text-anchor="end" fill="#0a0a0a" stroke="#0a0a0a" stroke-width="0.35" font-weight="normal" >0.03</text>
<text x="183.5" y="111.3" font-size="22" text-anchor="end" fill="#0a0a0a" stroke="#0a0a0a" stroke-width="0.35" font-weight="normal" >0.04</text>
<text x="183.5" y="65.4" font-size="22" text-anchor="end" fill="#0a0a0a" stroke="#0a0a0a" stroke-width="0.35" font-weight="normal" >0.05</text>
<g clip-path="url(#clipbLa)">
<path d="M197.3,266.0 L198.1,266.9 L199.2,268.2 L200.6,269.8 L202.0,271.4 L203.5,272.8 L205.0,274.0 L206.4,274.9 L207.9,275.6 L209.4,276.2 L210.9,276.7 L212.6,277.2 L214.3,277.7 L216.0,278.2 L217.7,278.7 L219.5,279.2 L221.4,279.6 L223.7,279.9 L226.5,280.2 L229.9,280.4 L234.0,280.6 L238.4,280.7 L242.9,280.7 L247.1,280.5 L250.9,280.2 L254.2,279.7 L257.2,278.9 L260.0,278.0 L262.7,277.0 L265.3,276.1 L267.9,275.3 L270.5,274.6 L273.1,273.9 L275.7,273.3 L278.1,272.7 L280.4,272.2 L282.5,271.7 L284.4,271.4 L286.0,271.2 L287.5,271.0 L289.0,270.9 L290.5,270.7 L292.2,270.4 L294.1,270.0 L296.2,269.7 L298.3,269.3 L300.4,268.7 L302.5,267.9 L304.4,266.8 L306.2,265.3 L307.9,263.6 L309.5,261.7 L311.0,259.5 L312.6,257.2 L314.1,254.6 L315.6,251.9 L317.1,249.0 L318.6,245.9 L320.0,242.6 L321.4,239.0 L322.7,235.1 L324.0,230.9 L325.3,226.3 L326.5,221.4 L327.7,216.4 L328.9,211.2 L330.0,205.9 L331.1,200.4 L332.1,194.7 L333.1,188.9 L334.1,183.0 L335.1,177.3 L336.1,171.8 L337.1,166.5 L338.1,161.2 L339.0,156.1 L340.0,151.2 L341.0,146.6 L342.1,142.6 L343.2,138.9 L344.4,135.3 L345.6,132.2 L346.8,129.6 L348.1,127.7 L349.4,126.8 L350.8,127.0 L352.2,128.2 L353.7,130.1 L355.2,132.5 L356.6,135.2 L358.0,137.8 L359.3,140.4 L360.5,143.3 L361.7,146.4 L362.9,149.7 L364.1,153.3 L365.3,157.2 L366.5,161.5 L367.8,166.3 L369.0,171.4 L370.3,176.6 L371.5,181.7 L372.6,186.5 L373.7,191.2 L374.7,195.8 L375.7,200.3 L376.7,204.8 L377.7,209.1 L378.7,213.2 L379.7,217.2 L380.7,221.1 L381.6,224.9 L382.6,228.5 L383.6,231.9 L384.7,235.1 L385.8,238.0 L386.9,240.6 L388.1,243.1 L389.3,245.4 L390.6,247.6 L392.0,249.7 L393.5,251.8 L395.0,253.8 L396.6,255.7 L398.3,257.5 L400.0,259.2 L401.8,260.7 L403.7,262.0 L405.8,263.2 L407.9,264.3 L410.0,265.2 L412.1,266.1 L414.0,266.8 L415.8,267.5 L417.5,268.1 L419.2,268.7 L420.7,269.1 L422.3,269.3 L423.7,269.2 L425.0,269.0 L426.3,268.7 L427.4,268.3 L428.6,267.5 L429.7,266.2 L431.0,264.3 L432.4,261.7 L433.8,258.6 L435.2,255.0 L436.7,251.0 L438.2,246.8 L439.7,242.4 L441.3,237.8 L442.9,232.9 L444.5,227.8 L446.2,222.4 L447.9,216.7 L449.5,210.8 L451.2,204.4 L452.8,197.5 L454.5,190.3 L456.1,183.0 L457.7,176.0 L459.2,169.4 L460.6,163.1 L461.9,156.9 L463.1,150.9 L464.2,145.2 L465.4,140.0 L466.5,135.3 L467.6,131.2 L468.6,127.6 L469.7,124.4 L470.6,121.6 L471.6,119.2 L472.6,117.1 L473.6,115.4 L474.5,114.0 L475.4,113.0 L476.4,112.3 L477.3,112.1 L478.2,112.2 L479.1,112.7 L480.0,113.5 L480.9,114.6 L481.9,116.2 L482.7,118.2 L483.6,120.7 L484.4,123.8 L485.2,127.5 L486.0,131.6 L486.8,136.0 L487.6,140.6 L488.4,145.1 L489.2,149.7 L490.0,154.4 L490.8,159.2 L491.7,164.2 L492.5,169.2 L493.3,174.3 L494.1,179.5 L494.9,184.8 L495.8,190.3 L496.6,195.6 L497.4,200.9 L498.2,205.9 L499.0,210.7 L499.7,215.5 L500.4,220.1 L501.2,224.5 L502.1,228.7 L503.0,232.7 L504.0,236.5 L505.2,240.0 L506.3,243.4 L507.6,246.5 L508.9,249.5 L510.3,252.2 L511.8,254.7 L513.4,257.0 L515.1,259.2 L516.7,261.1 L518.4,262.8 L520.1,264.3 L521.7,265.6 L523.2,266.7 L524.8,267.7 L526.4,268.4 L528.0,268.9 L529.8,269.2 L531.7,269.3 L533.8,269.3 L535.9,269.1 L538.0,268.6 L540.1,267.9 L542.0,266.8 L543.8,265.5 L545.4,263.9 L547.0,262.1 L548.6,259.9 L550.1,257.4 L551.7,254.6 L553.3,251.4 L555.0,247.9 L556.6,244.1 L558.2,239.9 L559.9,235.3 L561.5,230.3 L563.1,224.7 L564.7,218.6 L566.4,212.0 L568.0,205.2 L569.6,198.2 L571.2,191.3 L572.9,184.0 L574.6,176.1 L576.3,168.1 L577.9,160.4 L579.5,153.4 L580.9,147.5 L582.2,142.8 L583.3,138.9 L584.3,135.8 L585.3,133.2 L586.2,131.0 L587.0,129.2 L587.7,127.7 L588.3,126.7 L588.8,126.2 L589.3,126.0 L589.9,126.2 L590.7,126.8 L591.7,127.6 L592.9,128.8 L594.1,130.3 L595.4,132.3 L596.7,134.8 L598.0,137.8 L599.2,141.6 L600.4,146.1 L601.6,151.1 L602.9,156.4 L604.1,161.8 L605.3,167.0 L606.5,172.1 L607.7,177.4 L608.9,182.6 L610.2,188.0 L611.4,193.3 L612.6,198.6 L613.8,204.0 L615.0,209.6 L616.2,215.2 L617.5,220.6 L618.7,225.7 L619.9,230.3 L621.1,234.3 L622.2,237.9 L623.4,241.1 L624.6,244.0 L625.8,246.9 L627.2,249.7 L628.7,252.5 L630.3,255.3 L631.9,257.9 L633.6,260.3 L635.3,262.5 L636.9,264.3 L638.5,265.7 L640.1,266.8 L641.7,267.6 L643.4,268.2 L645.0,268.7 L646.6,269.2 L648.2,269.6 L649.9,269.8 L651.5,269.9 L653.1,270.0 L654.8,270.1 L656.4,270.4 L658.0,270.9 L659.7,271.5 L661.3,272.2 L663.0,272.9 L664.6,273.5 L666.1,274.1 L667.7,274.6 L669.3,275.1 L670.9,275.5 L672.3,275.9 L673.5,276.3 L674.4,276.5" fill="none" stroke="#f28a26" stroke-width="2.6" stroke-linejoin="round" stroke-linecap="round"/>
<path d="M197.3,259.5 L198.1,261.8 L199.1,265.1 L200.3,268.9 L201.7,272.9 L203.2,276.4 L204.6,279.0 L206.0,280.7 L207.4,282.0 L208.8,282.8 L210.4,283.3 L212.2,283.6 L214.3,283.8 L216.7,283.8 L219.4,283.4 L222.2,282.8 L225.2,282.2 L228.3,281.7 L231.4,281.4 L234.5,281.4 L237.8,281.5 L241.2,281.7 L244.5,282.0 L247.8,282.3 L250.9,282.6 L253.8,283.0 L256.7,283.4 L259.4,283.9 L262.1,284.3 L265.0,284.7 L267.9,285.0 L270.8,285.2 L273.6,285.2 L276.4,285.2 L279.5,285.2 L283.1,285.1 L287.4,285.0 L292.6,284.9 L298.5,284.7 L304.9,284.5 L311.5,284.2 L317.9,284.0 L323.9,283.8 L329.7,283.7 L335.6,283.9 L341.4,284.0 L346.8,283.9 L351.6,283.5 L355.5,282.6 L358.4,281.1 L360.4,279.2 L361.8,276.9 L362.8,274.4 L363.9,271.8 L365.3,269.2 L366.9,266.4 L368.6,263.4 L370.2,260.2 L371.9,257.2 L373.5,254.4 L375.0,252.2 L376.5,250.4 L377.9,248.9 L379.3,247.7 L380.7,246.8 L382.1,246.3 L383.5,246.1 L384.9,246.3 L386.3,246.8 L387.7,247.7 L389.1,248.9 L390.5,250.4 L392.0,252.2 L393.5,254.5 L395.1,257.2 L396.7,260.3 L398.3,263.5 L400.0,266.5 L401.8,269.2 L403.7,271.6 L405.7,273.9 L407.8,276.1 L409.9,278.1 L411.9,279.9 L414.0,281.4 L415.9,282.6 L417.6,283.5 L419.3,284.1 L421.2,284.6 L423.4,284.8 L426.1,285.0 L429.4,284.9 L433.3,284.6 L437.5,284.0 L441.8,283.4 L445.8,282.9 L449.5,282.6 L452.8,282.5 L456.0,282.6 L459.0,282.8 L461.8,282.9 L464.3,282.9 L466.5,282.6 L468.2,282.2 L469.6,281.8 L470.6,281.3 L471.5,280.5 L472.6,279.3 L473.8,277.7 L475.3,275.4 L476.9,272.5 L478.6,269.2 L480.2,265.8 L481.9,262.5 L483.6,259.5 L485.3,256.7 L486.9,253.9 L488.6,251.2 L490.2,248.8 L491.8,246.6 L493.3,244.9 L494.7,243.6 L495.9,242.8 L497.1,242.2 L498.3,241.9 L499.4,241.9 L500.6,242.0 L501.8,242.3 L502.9,242.7 L504.1,243.4 L505.3,244.4 L506.5,245.6 L507.9,247.3 L509.4,249.5 L511.0,252.2 L512.6,255.2 L514.3,258.4 L515.9,261.5 L517.6,264.3 L519.2,267.0 L520.9,269.7 L522.5,272.3 L524.1,274.8 L525.8,277.1 L527.4,279.0 L528.8,280.6 L530.0,281.8 L531.2,282.9 L532.6,283.7 L534.5,284.4 L537.1,285.0 L540.6,285.5 L544.9,285.7 L549.6,285.8 L554.5,285.8 L559.4,285.8 L563.9,285.8 L568.3,285.8 L572.7,285.8 L577.1,285.8 L581.3,285.7 L585.0,285.5 L588.2,285.0 L590.7,284.4 L592.5,283.7 L594.0,282.9 L595.3,281.8 L596.5,280.6 L598.0,279.0 L599.6,277.1 L601.2,274.8 L602.9,272.3 L604.5,269.7 L606.1,267.0 L607.7,264.3 L609.3,261.5 L610.9,258.4 L612.5,255.3 L614.2,252.2 L615.8,249.5 L617.4,247.3 L619.1,245.6 L620.8,244.2 L622.6,243.2 L624.3,242.4 L625.9,241.7 L627.2,241.2 L628.2,240.7 L629.0,240.4 L629.6,240.3 L630.2,240.3 L631.0,240.6 L632.0,241.2 L633.3,242.1 L634.8,243.2 L636.4,244.5 L638.2,246.1 L640.0,247.8 L641.8,249.7 L643.7,251.8 L645.7,254.3 L647.7,256.9 L649.8,259.6 L651.9,262.1 L653.9,264.3 L656.0,266.3 L658.1,268.2 L660.2,269.9 L662.3,271.5 L664.3,272.9 L666.1,274.1 L667.8,275.1 L669.5,275.9 L671.0,276.5 L672.4,277.0 L673.5,277.4 L674.4,277.7" fill="none" stroke="#1ed21e" stroke-width="2.8" stroke-linejoin="round" stroke-linecap="round"/>
</g>
<clipPath id="clipRa"><rect x="729.3000000000001" y="59.7" width="477.49999999999994" height="227.3"/></clipPath>
<clipPath id="clipbRa"><rect x="729.3000000000001" y="59.7" width="477.49999999999994" height="230.0"/></clipPath>
<g clip-path="url(#clipRa)">
<path d="M728.6,278.2 L729.2,276.0 L729.8,252.5 L730.4,277.7 L731.0,269.0 L731.6,270.7 L732.2,280.2 L732.8,277.0 L733.4,281.8 L734.0,255.9 L734.6,273.5 L735.2,279.4 L735.8,277.3 L736.4,273.2 L737.0,276.2 L737.6,272.9 L738.2,272.4 L738.8,273.4 L739.4,272.4 L740.0,271.3 L740.6,269.9 L741.2,280.9 L741.8,275.8 L742.4,276.0 L743.0,272.8 L743.6,276.9 L744.2,279.5 L744.8,275.8 L745.4,270.0 L746.0,257.4 L746.6,274.3 L747.2,268.1 L747.8,280.8 L748.4,276.4 L749.0,280.4 L749.6,281.5 L750.2,280.9 L750.8,279.9 L751.4,279.0 L752.0,276.9 L752.6,270.4 L753.2,274.9 L753.8,275.6 L754.4,277.8 L755.0,276.3 L755.6,279.4 L756.2,278.1 L756.8,277.0 L757.4,278.8 L758.0,278.3 L758.6,275.0 L759.2,279.4 L759.8,281.6 L760.4,281.2 L761.0,276.0 L761.6,277.4 L762.2,271.3 L762.8,278.1 L763.4,273.9 L764.0,285.8 L764.6,277.8 L765.2,280.4 L765.8,285.3 L766.4,283.0 L767.0,283.0 L767.6,276.1 L768.2,270.3 L768.8,275.8 L769.4,275.9 L770.0,284.3 L770.6,282.0 L771.2,273.3 L771.8,286.3 L772.4,280.1 L773.0,285.3 L773.6,282.2 L774.2,279.3 L774.8,278.2 L775.4,285.2 L776.0,280.4 L776.6,286.2 L777.2,277.0 L777.8,277.3 L778.4,276.2 L779.0,286.0 L779.6,281.2 L780.2,286.4 L780.8,281.2 L781.4,285.9 L782.0,286.4 L782.6,283.5 L783.2,278.0 L783.8,286.2 L784.4,275.6 L785.0,281.3 L785.6,286.5 L786.2,282.6 L786.8,286.1 L787.4,279.1 L788.0,283.1 L788.6,283.5 L789.2,283.5 L789.8,279.5 L790.4,286.4 L791.0,281.2 L791.6,286.4 L792.2,286.2 L792.8,285.7 L793.4,280.1 L794.0,284.1 L794.6,286.4 L795.2,274.4 L795.8,286.2 L796.4,274.3 L797.0,277.9 L797.6,286.5 L798.2,281.6 L798.8,286.5 L799.4,285.3 L800.0,282.9 L800.6,281.0 L801.2,283.8 L801.8,286.2 L802.4,284.0 L803.0,285.3 L803.6,279.4 L804.2,286.5 L804.8,283.9 L805.4,282.4 L806.0,282.1 L806.6,286.4 L807.2,280.9 L807.8,286.5 L808.4,279.0 L809.0,285.3 L809.6,279.6 L810.2,282.4 L810.8,286.3 L811.4,276.6 L812.0,285.8 L812.6,277.6 L813.2,283.5 L813.8,286.0 L814.4,281.7 L815.0,283.6 L815.6,285.4 L816.2,286.3 L816.8,278.4 L817.4,283.1 L818.0,278.9 L818.6,284.1 L819.2,280.2 L819.8,270.0 L820.4,274.0 L821.0,279.9 L821.6,276.2 L822.2,280.0 L822.8,283.7 L823.4,283.1 L824.0,278.3 L824.6,281.2 L825.2,279.5 L825.8,286.3 L826.4,278.8 L827.0,286.5 L827.6,285.4 L828.2,280.1 L828.8,270.1 L829.4,279.7 L830.0,286.4 L830.6,278.5 L831.2,282.6 L831.8,283.4 L832.4,282.6 L833.0,278.4 L833.6,283.6 L834.2,275.6 L834.8,285.5 L835.4,283.9 L836.0,286.1 L836.6,283.8 L837.2,282.2 L837.8,275.2 L838.4,279.2 L839.0,273.3 L839.6,280.1 L840.2,286.5 L840.8,278.0 L841.4,281.0 L842.0,284.1 L842.6,270.7 L843.2,278.2 L843.8,276.1 L844.4,275.0 L845.0,272.2 L845.6,275.3 L846.2,276.8 L846.8,263.0 L847.4,266.0 L848.0,274.4 L848.6,271.6 L849.2,267.3 L849.8,266.8 L850.4,274.2 L851.0,260.2 L851.6,267.7 L852.2,248.6 L852.8,267.0 L853.4,249.7 L854.0,270.3 L854.6,248.7 L855.2,261.2 L855.8,257.6 L856.4,252.8 L857.0,264.2 L857.6,251.2 L858.2,244.3 L858.8,249.5 L859.4,233.6 L860.0,243.1 L860.6,244.7 L861.2,254.9 L861.8,236.3 L862.4,228.3 L863.0,237.8 L863.6,209.3 L864.2,250.4 L864.8,216.7 L865.4,225.4 L866.0,225.1 L866.6,209.3 L867.2,217.6 L867.8,226.0 L868.4,213.2 L869.0,200.2 L869.6,217.0 L870.2,197.0 L870.8,213.9 L871.4,171.7 L872.0,224.2 L872.6,187.9 L873.2,192.5 L873.8,208.4 L874.4,211.4 L875.0,185.5 L875.6,164.4 L876.2,186.1 L876.8,173.9 L877.4,144.1 L878.0,189.1 L878.6,161.8 L879.2,163.0 L879.8,161.2 L880.4,136.3 L881.0,147.6 L881.6,144.0 L882.2,158.6 L882.8,134.4 L883.4,138.6 L884.0,137.3 L884.6,160.6 L885.2,166.8 L885.8,129.8 L886.4,130.1 L887.0,142.9 L887.6,144.7 L888.2,160.4 L888.8,160.3 L889.4,147.9 L890.0,155.1 L890.6,158.0 L891.2,160.7 L891.8,124.5 L892.4,154.6 L893.0,165.6 L893.6,170.2 L894.2,161.6 L894.8,180.1 L895.4,153.1 L896.0,152.4 L896.6,154.7 L897.2,159.2 L897.8,164.1 L898.4,175.0 L899.0,188.4 L899.6,178.5 L900.2,179.8 L900.8,183.5 L901.4,186.7 L902.0,174.9 L902.6,196.3 L903.2,187.7 L903.8,210.7 L904.4,196.7 L905.0,212.9 L905.6,228.7 L906.2,207.0 L906.8,210.0 L907.4,222.6 L908.0,225.5 L908.6,224.4 L909.2,235.3 L909.8,238.1 L910.4,225.6 L911.0,234.5 L911.6,219.4 L912.2,244.7 L912.8,243.0 L913.4,252.5 L914.0,250.1 L914.6,255.5 L915.2,251.0 L915.8,256.9 L916.4,270.8 L917.0,265.9 L917.6,256.3 L918.2,263.0 L918.8,264.3 L919.4,264.2 L920.0,270.5 L920.6,265.9 L921.2,263.6 L921.8,274.2 L922.4,264.6 L923.0,276.5 L923.6,273.8 L924.2,271.0 L924.8,263.5 L925.4,267.9 L926.0,281.0 L926.6,273.5 L927.2,270.3 L927.8,272.5 L928.4,271.1 L929.0,270.9 L929.6,272.2 L930.2,269.9 L930.8,282.2 L931.4,276.0 L932.0,273.3 L932.6,276.0 L933.2,279.8 L933.8,274.0 L934.4,271.6 L935.0,269.7 L935.6,281.4 L936.2,280.8 L936.8,272.8 L937.4,273.3 L938.0,281.9 L938.6,278.7 L939.2,277.6 L939.8,279.6 L940.4,273.6 L941.0,281.5 L941.6,283.2 L942.2,285.9 L942.8,273.9 L943.4,278.5 L944.0,280.3 L944.6,267.1 L945.2,281.0 L945.8,274.3 L946.4,286.2 L947.0,285.5 L947.6,279.7 L948.2,278.3 L948.8,278.0 L949.4,281.7 L950.0,286.4 L950.6,286.0 L951.2,280.3 L951.8,280.4 L952.4,282.9 L953.0,286.5 L953.6,278.5 L954.2,286.3 L954.8,275.8 L955.4,280.3 L956.0,279.9 L956.6,283.5 L957.2,276.4 L957.8,286.2 L958.4,286.2 L959.0,286.2 L959.6,277.5 L960.2,284.9 L960.8,284.6 L961.4,278.7 L962.0,284.2 L962.6,282.3 L963.2,286.5 L963.8,278.0 L964.4,274.1 L965.0,278.6 L965.6,278.1 L966.2,285.1 L966.8,278.4 L967.4,282.3 L968.0,278.1 L968.6,274.5 L969.2,250.9 L969.8,275.4 L970.4,272.0 L971.0,256.8 L971.6,269.9 L972.2,265.5 L972.8,246.0 L973.4,257.4 L974.0,265.3 L974.6,261.6 L975.2,260.0 L975.8,256.3 L976.4,256.0 L977.0,255.3 L977.6,261.3 L978.2,260.9 L978.8,244.6 L979.4,249.0 L980.0,250.4 L980.6,246.1 L981.2,241.3 L981.8,239.0 L982.4,229.6 L983.0,232.5 L983.6,216.1 L984.2,243.7 L984.8,229.0 L985.4,223.6 L986.0,222.9 L986.6,217.1 L987.2,220.8 L987.8,215.5 L988.4,213.6 L989.0,203.7 L989.6,220.1 L990.2,225.7 L990.8,211.4 L991.4,197.9 L992.0,199.4 L992.6,209.5 L993.2,200.3 L993.8,191.8 L994.4,208.6 L995.0,166.5 L995.6,162.9 L996.2,192.0 L996.8,181.0 L997.4,163.6 L998.0,185.9 L998.6,181.5 L999.2,178.7 L999.8,165.2 L1000.4,176.8 L1001.0,153.4 L1001.6,171.8 L1002.2,149.3 L1002.8,150.6 L1003.4,147.2 L1004.0,141.8 L1004.6,136.5 L1005.2,153.9 L1005.8,140.4 L1006.4,151.1 L1007.0,173.2 L1007.6,133.0 L1008.2,126.9 L1008.8,137.7 L1009.4,186.3 L1010.0,119.1 L1010.6,111.1 L1011.2,159.9 L1011.8,164.7 L1012.4,142.2 L1013.0,169.5 L1013.6,148.9 L1014.2,162.5 L1014.8,151.5 L1015.4,150.3 L1016.0,170.9 L1016.6,155.9 L1017.2,193.8 L1017.8,152.9 L1018.4,171.0 L1019.0,158.2 L1019.6,178.8 L1020.2,171.8 L1020.8,169.1 L1021.4,189.3 L1022.0,182.0 L1022.6,181.3 L1023.2,183.8 L1023.8,221.4 L1024.4,193.0 L1025.0,199.3 L1025.6,211.5 L1026.2,210.1 L1026.8,197.0 L1027.4,210.8 L1028.0,220.2 L1028.6,217.1 L1029.2,227.1 L1029.8,244.7 L1030.4,235.3 L1031.0,228.6 L1031.6,234.2 L1032.2,248.4 L1032.8,216.3 L1033.4,237.1 L1034.0,241.5 L1034.6,248.4 L1035.2,253.6 L1035.8,257.0 L1036.4,256.0 L1037.0,253.8 L1037.6,249.0 L1038.2,266.0 L1038.8,263.2 L1039.4,260.1 L1040.0,269.9 L1040.6,254.6 L1041.2,273.6 L1041.8,266.4 L1042.4,262.2 L1043.0,264.4 L1043.6,271.0 L1044.2,274.4 L1044.8,264.9 L1045.4,269.4 L1046.0,273.8 L1046.6,258.1 L1047.2,274.8 L1047.8,277.0 L1048.4,277.6 L1049.0,274.4 L1049.6,271.2 L1050.2,276.2 L1050.8,283.3 L1051.4,278.8 L1052.0,281.9 L1052.6,272.5 L1053.2,285.1 L1053.8,276.4 L1054.4,279.7 L1055.0,279.6 L1055.6,280.7 L1056.2,282.7 L1056.8,277.4 L1057.4,279.9 L1058.0,279.9 L1058.6,276.3 L1059.2,277.7 L1059.8,278.5 L1060.4,276.5 L1061.0,276.3 L1061.6,286.4 L1062.2,286.3 L1062.8,281.5 L1063.4,284.3 L1064.0,284.3 L1064.6,283.1 L1065.2,283.6 L1065.8,286.2 L1066.4,286.2 L1067.0,284.7 L1067.6,282.1 L1068.2,284.2 L1068.8,278.0 L1069.4,286.2 L1070.0,282.7 L1070.6,277.8 L1071.2,282.3 L1071.8,278.6 L1072.4,282.2 L1073.0,276.7 L1073.6,286.3 L1074.2,279.3 L1074.8,283.8 L1075.4,284.6 L1076.0,270.0 L1076.6,286.4 L1077.2,278.5 L1077.8,282.0 L1078.4,283.0 L1079.0,284.1 L1079.6,282.2 L1080.2,286.4 L1080.8,286.2 L1081.4,285.9 L1082.0,286.5 L1082.6,283.0 L1083.2,278.3 L1083.8,275.8 L1084.4,273.8 L1085.0,278.5 L1085.6,271.1 L1086.2,273.5 L1086.8,275.4 L1087.4,276.5 L1088.0,268.9 L1088.6,269.9 L1089.2,277.4 L1089.8,263.7 L1090.4,264.4 L1091.0,270.5 L1091.6,266.9 L1092.2,267.5 L1092.8,256.9 L1093.4,259.7 L1094.0,260.7 L1094.6,264.6 L1095.2,259.4 L1095.8,252.4 L1096.4,253.3 L1097.0,246.4 L1097.6,243.1 L1098.2,240.0 L1098.8,246.1 L1099.4,241.9 L1100.0,232.7 L1100.6,234.2 L1101.2,237.7 L1101.8,241.1 L1102.4,233.1 L1103.0,216.5 L1103.6,217.6 L1104.2,214.7 L1104.8,231.3 L1105.4,205.6 L1106.0,209.9 L1106.6,186.1 L1107.2,206.6 L1107.8,193.8 L1108.4,192.9 L1109.0,183.3 L1109.6,188.1 L1110.2,188.9 L1110.8,177.0 L1111.4,166.5 L1112.0,204.2 L1112.6,164.4 L1113.2,186.9 L1113.8,173.2 L1114.4,171.7 L1115.0,190.6 L1115.6,158.6 L1116.2,177.5 L1116.8,166.0 L1117.4,142.8 L1118.0,156.9 L1118.6,155.0 L1119.2,123.4 L1119.8,144.2 L1120.4,135.8 L1121.0,130.1 L1121.6,129.1 L1122.2,137.7 L1122.8,90.0 L1123.4,151.4 L1124.0,124.4 L1124.6,140.1 L1125.2,129.4 L1125.8,115.4 L1126.4,110.5 L1127.0,159.8 L1127.6,171.1 L1128.2,131.5 L1128.8,156.8 L1129.4,149.0 L1130.0,133.0 L1130.6,154.4 L1131.2,113.0 L1131.8,158.3 L1132.4,166.5 L1133.0,149.5 L1133.6,159.6 L1134.2,143.4 L1134.8,162.0 L1135.4,152.0 L1136.0,184.5 L1136.6,154.7 L1137.2,164.6 L1137.8,179.0 L1138.4,173.6 L1139.0,208.3 L1139.6,160.1 L1140.2,178.2 L1140.8,196.8 L1141.4,167.8 L1142.0,167.1 L1142.6,186.3 L1143.2,199.1 L1143.8,186.5 L1144.4,197.8 L1145.0,191.4 L1145.6,205.5 L1146.2,190.4 L1146.8,210.7 L1147.4,199.0 L1148.0,229.2 L1148.6,198.3 L1149.2,232.2 L1149.8,219.6 L1150.4,222.7 L1151.0,217.3 L1151.6,222.2 L1152.2,231.4 L1152.8,237.7 L1153.4,235.7 L1154.0,231.0 L1154.6,213.6 L1155.2,247.7 L1155.8,251.4 L1156.4,256.8 L1157.0,246.6 L1157.6,249.2 L1158.2,252.2 L1158.8,261.5 L1159.4,258.3 L1160.0,261.3 L1160.6,247.0 L1161.2,261.4 L1161.8,256.2 L1162.4,262.9 L1163.0,259.6 L1163.6,267.9 L1164.2,256.5 L1164.8,273.5 L1165.4,271.4 L1166.0,271.8 L1166.6,274.9 L1167.2,268.8 L1167.8,282.5 L1168.4,268.2 L1169.0,268.6 L1169.6,274.0 L1170.2,277.3 L1170.8,276.0 L1171.4,275.8 L1172.0,276.8 L1172.6,278.0 L1173.2,277.7 L1173.8,281.5 L1174.4,280.1 L1175.0,286.5 L1175.6,277.3 L1176.2,280.1 L1176.8,276.3 L1177.4,278.8 L1178.0,286.1 L1178.6,277.4 L1179.2,283.0 L1179.8,286.4 L1180.4,278.6 L1181.0,286.1 L1181.6,286.3 L1182.2,268.2 L1182.8,279.7 L1183.4,286.3 L1184.0,279.0 L1184.6,286.2 L1185.2,249.4 L1185.8,286.4 L1186.4,278.7 L1187.0,277.8 L1187.6,285.9 L1188.2,286.2 L1188.8,286.5 L1189.4,276.8 L1190.0,276.1 L1190.6,285.8 L1191.2,283.4 L1191.8,283.0 L1192.4,281.1 L1193.0,279.5 L1193.6,278.9 L1194.2,285.6 L1194.8,285.9 L1195.4,279.2 L1196.0,276.4 L1196.6,283.5 L1197.2,278.9 L1197.8,278.6 L1198.4,282.2 L1199.0,242.0 L1199.6,281.3 L1200.2,279.9 L1200.8,277.6 L1201.4,286.3 L1202.0,279.0 L1202.6,286.2 L1203.2,286.5 L1203.8,275.4 L1204.4,284.2 L1205.0,282.2 L1205.6,279.2 L1206.2,285.5 L1206.8,284.5" fill="none" stroke="#fcbf86" stroke-width="1.0" stroke-linejoin="round"/>
<path d="M728.6,283.1 L729.2,286.4 L729.8,286.4 L730.4,284.2 L731.0,280.9 L731.6,286.1 L732.2,280.8 L732.8,283.9 L733.4,284.7 L734.0,284.5 L734.6,280.2 L735.2,272.8 L735.8,286.3 L736.4,282.6 L737.0,279.7 L737.6,278.3 L738.2,286.4 L738.8,284.7 L739.4,277.1 L740.0,271.5 L740.6,286.4 L741.2,278.9 L741.8,278.7 L742.4,285.9 L743.0,278.5 L743.6,281.7 L744.2,284.2 L744.8,286.0 L745.4,280.5 L746.0,274.9 L746.6,282.8 L747.2,278.8 L747.8,260.5 L748.4,280.8 L749.0,274.5 L749.6,277.6 L750.2,282.4 L750.8,267.3 L751.4,280.0 L752.0,281.1 L752.6,281.9 L753.2,279.9 L753.8,281.3 L754.4,286.3 L755.0,277.5 L755.6,283.6 L756.2,277.5 L756.8,284.1 L757.4,281.9 L758.0,284.2 L758.6,281.3 L759.2,283.3 L759.8,283.0 L760.4,281.1 L761.0,277.4 L761.6,285.0 L762.2,283.4 L762.8,281.9 L763.4,282.7 L764.0,280.5 L764.6,279.8 L765.2,285.8 L765.8,283.7 L766.4,286.4 L767.0,286.4 L767.6,277.9 L768.2,283.0 L768.8,284.6 L769.4,286.4 L770.0,286.4 L770.6,264.4 L771.2,286.5 L771.8,285.3 L772.4,276.2 L773.0,279.5 L773.6,282.1 L774.2,286.2 L774.8,281.6 L775.4,279.6 L776.0,282.6 L776.6,280.6 L777.2,284.8 L777.8,281.8 L778.4,281.5 L779.0,286.3 L779.6,286.2 L780.2,286.3 L780.8,280.7 L781.4,265.6 L782.0,286.2 L782.6,270.2 L783.2,286.4 L783.8,286.4 L784.4,283.4 L785.0,286.2 L785.6,277.9 L786.2,282.1 L786.8,281.2 L787.4,286.3 L788.0,281.9 L788.6,286.2 L789.2,286.4 L789.8,286.4 L790.4,284.2 L791.0,279.8 L791.6,283.0 L792.2,279.8 L792.8,285.9 L793.4,286.4 L794.0,286.3 L794.6,282.8 L795.2,281.8 L795.8,276.0 L796.4,284.6 L797.0,284.4 L797.6,281.8 L798.2,286.1 L798.8,277.0 L799.4,283.3 L800.0,285.8 L800.6,284.9 L801.2,282.4 L801.8,286.2 L802.4,286.4 L803.0,286.4 L803.6,278.6 L804.2,286.4 L804.8,282.2 L805.4,285.7 L806.0,286.4 L806.6,281.3 L807.2,286.4 L807.8,279.4 L808.4,286.3 L809.0,280.9 L809.6,286.1 L810.2,285.2 L810.8,281.1 L811.4,282.6 L812.0,286.4 L812.6,280.6 L813.2,284.9 L813.8,279.3 L814.4,285.8 L815.0,280.2 L815.6,284.2 L816.2,286.0 L816.8,285.0 L817.4,281.2 L818.0,279.2 L818.6,283.3 L819.2,281.1 L819.8,286.3 L820.4,286.3 L821.0,286.2 L821.6,286.4 L822.2,281.1 L822.8,283.4 L823.4,279.9 L824.0,282.8 L824.6,286.2 L825.2,267.8 L825.8,282.4 L826.4,285.0 L827.0,284.9 L827.6,284.2 L828.2,281.5 L828.8,280.9 L829.4,282.0 L830.0,282.3 L830.6,283.8 L831.2,284.7 L831.8,286.2 L832.4,278.2 L833.0,278.4 L833.6,278.5 L834.2,276.7 L834.8,278.4 L835.4,284.2 L836.0,283.3 L836.6,280.7 L837.2,286.3 L837.8,279.2 L838.4,275.3 L839.0,283.5 L839.6,283.2 L840.2,284.4 L840.8,279.4 L841.4,277.9 L842.0,280.9 L842.6,278.8 L843.2,277.2 L843.8,276.0 L844.4,274.8 L845.0,281.5 L845.6,278.4 L846.2,275.2 L846.8,277.1 L847.4,271.7 L848.0,273.7 L848.6,272.9 L849.2,279.7 L849.8,274.5 L850.4,280.0 L851.0,276.0 L851.6,274.3 L852.2,279.1 L852.8,277.7 L853.4,273.4 L854.0,279.6 L854.6,273.9 L855.2,271.7 L855.8,277.3 L856.4,274.1 L857.0,270.3 L857.6,279.6 L858.2,272.5 L858.8,279.9 L859.4,268.3 L860.0,278.7 L860.6,275.2 L861.2,276.2 L861.8,276.2 L862.4,274.4 L863.0,272.9 L863.6,271.6 L864.2,276.9 L864.8,273.2 L865.4,266.3 L866.0,278.7 L866.6,278.8 L867.2,270.2 L867.8,275.8 L868.4,273.9 L869.0,275.0 L869.6,280.1 L870.2,253.3 L870.8,269.7 L871.4,279.4 L872.0,281.4 L872.6,274.0 L873.2,273.8 L873.8,274.4 L874.4,277.8 L875.0,278.5 L875.6,270.2 L876.2,276.0 L876.8,270.3 L877.4,249.7 L878.0,273.8 L878.6,268.6 L879.2,280.3 L879.8,271.8 L880.4,278.6 L881.0,268.7 L881.6,274.6 L882.2,276.5 L882.8,267.1 L883.4,270.1 L884.0,271.7 L884.6,269.3 L885.2,274.6 L885.8,277.5 L886.4,272.3 L887.0,275.2 L887.6,268.3 L888.2,271.9 L888.8,259.1 L889.4,267.4 L890.0,270.0 L890.6,267.9 L891.2,267.6 L891.8,266.5 L892.4,270.4 L893.0,265.7 L893.6,264.5 L894.2,265.2 L894.8,264.4 L895.4,265.0 L896.0,269.6 L896.6,267.9 L897.2,258.2 L897.8,256.4 L898.4,251.9 L899.0,257.9 L899.6,258.6 L900.2,264.5 L900.8,254.3 L901.4,255.4 L902.0,260.1 L902.6,252.6 L903.2,254.8 L903.8,252.5 L904.4,259.9 L905.0,249.3 L905.6,247.7 L906.2,254.9 L906.8,239.4 L907.4,250.3 L908.0,256.5 L908.6,249.0 L909.2,239.5 L909.8,255.9 L910.4,253.2 L911.0,243.7 L911.6,240.4 L912.2,241.9 L912.8,239.9 L913.4,234.8 L914.0,250.4 L914.6,236.1 L915.2,240.2 L915.8,234.4 L916.4,238.2 L917.0,244.1 L917.6,229.2 L918.2,248.2 L918.8,239.9 L919.4,242.1 L920.0,245.5 L920.6,243.8 L921.2,238.8 L921.8,241.2 L922.4,245.9 L923.0,250.7 L923.6,239.2 L924.2,244.7 L924.8,252.1 L925.4,241.8 L926.0,240.3 L926.6,239.3 L927.2,244.2 L927.8,239.0 L928.4,243.8 L929.0,246.4 L929.6,245.3 L930.2,249.5 L930.8,245.5 L931.4,246.8 L932.0,250.7 L932.6,251.1 L933.2,257.4 L933.8,261.0 L934.4,257.3 L935.0,260.2 L935.6,256.8 L936.2,259.0 L936.8,261.3 L937.4,254.6 L938.0,263.1 L938.6,263.0 L939.2,268.3 L939.8,258.2 L940.4,272.5 L941.0,263.3 L941.6,263.1 L942.2,272.5 L942.8,262.2 L943.4,273.9 L944.0,276.4 L944.6,270.9 L945.2,275.3 L945.8,276.2 L946.4,274.5 L947.0,272.7 L947.6,278.4 L948.2,275.2 L948.8,278.0 L949.4,280.5 L950.0,274.7 L950.6,279.4 L951.2,285.8 L951.8,279.1 L952.4,278.2 L953.0,274.9 L953.6,280.3 L954.2,284.1 L954.8,282.1 L955.4,282.9 L956.0,277.6 L956.6,286.2 L957.2,285.6 L957.8,277.2 L958.4,285.7 L959.0,279.8 L959.6,282.6 L960.2,279.7 L960.8,274.8 L961.4,275.6 L962.0,277.6 L962.6,286.5 L963.2,285.9 L963.8,286.0 L964.4,276.4 L965.0,277.4 L965.6,282.6 L966.2,282.5 L966.8,276.6 L967.4,282.4 L968.0,276.3 L968.6,283.2 L969.2,275.6 L969.8,260.9 L970.4,280.9 L971.0,281.7 L971.6,267.2 L972.2,280.4 L972.8,283.5 L973.4,276.5 L974.0,276.3 L974.6,283.3 L975.2,280.6 L975.8,278.2 L976.4,279.9 L977.0,282.5 L977.6,280.7 L978.2,285.8 L978.8,284.1 L979.4,282.5 L980.0,284.4 L980.6,283.1 L981.2,279.4 L981.8,282.5 L982.4,284.3 L983.0,279.3 L983.6,280.8 L984.2,278.6 L984.8,277.3 L985.4,278.7 L986.0,277.9 L986.6,275.3 L987.2,274.5 L987.8,282.8 L988.4,277.1 L989.0,278.9 L989.6,276.1 L990.2,277.8 L990.8,276.0 L991.4,282.7 L992.0,281.5 L992.6,277.2 L993.2,278.3 L993.8,285.3 L994.4,282.0 L995.0,281.3 L995.6,284.4 L996.2,277.5 L996.8,281.2 L997.4,280.6 L998.0,283.7 L998.6,278.3 L999.2,275.1 L999.8,274.0 L1000.4,275.2 L1001.0,279.4 L1001.6,278.6 L1002.2,272.7 L1002.8,278.9 L1003.4,277.2 L1004.0,277.2 L1004.6,278.3 L1005.2,275.3 L1005.8,266.4 L1006.4,278.8 L1007.0,273.4 L1007.6,257.0 L1008.2,268.2 L1008.8,271.6 L1009.4,271.4 L1010.0,262.8 L1010.6,268.6 L1011.2,267.7 L1011.8,250.4 L1012.4,275.7 L1013.0,276.5 L1013.6,266.9 L1014.2,267.7 L1014.8,266.0 L1015.4,273.2 L1016.0,266.7 L1016.6,265.2 L1017.2,262.5 L1017.8,266.7 L1018.4,266.8 L1019.0,262.5 L1019.6,269.5 L1020.2,265.2 L1020.8,260.4 L1021.4,267.7 L1022.0,254.3 L1022.6,265.4 L1023.2,260.5 L1023.8,258.3 L1024.4,262.1 L1025.0,260.3 L1025.6,262.9 L1026.2,254.2 L1026.8,252.1 L1027.4,247.1 L1028.0,251.5 L1028.6,253.3 L1029.2,257.1 L1029.8,255.2 L1030.4,246.7 L1031.0,257.0 L1031.6,249.7 L1032.2,245.9 L1032.8,251.2 L1033.4,251.5 L1034.0,243.9 L1034.6,233.7 L1035.2,262.6 L1035.8,248.5 L1036.4,244.0 L1037.0,250.3 L1037.6,244.9 L1038.2,242.6 L1038.8,245.9 L1039.4,237.1 L1040.0,243.3 L1040.6,242.4 L1041.2,238.8 L1041.8,247.8 L1042.4,249.0 L1043.0,247.3 L1043.6,249.4 L1044.2,245.2 L1044.8,238.0 L1045.4,245.3 L1046.0,250.6 L1046.6,242.5 L1047.2,249.6 L1047.8,251.8 L1048.4,254.3 L1049.0,247.0 L1049.6,250.0 L1050.2,250.8 L1050.8,244.7 L1051.4,255.1 L1052.0,261.6 L1052.6,260.8 L1053.2,259.1 L1053.8,253.0 L1054.4,261.8 L1055.0,254.7 L1055.6,265.0 L1056.2,264.6 L1056.8,264.7 L1057.4,260.9 L1058.0,258.9 L1058.6,261.1 L1059.2,263.7 L1059.8,264.6 L1060.4,263.9 L1061.0,259.4 L1061.6,263.9 L1062.2,265.5 L1062.8,269.9 L1063.4,269.9 L1064.0,271.8 L1064.6,276.3 L1065.2,276.6 L1065.8,275.5 L1066.4,275.2 L1067.0,277.6 L1067.6,275.1 L1068.2,273.2 L1068.8,271.8 L1069.4,271.4 L1070.0,275.7 L1070.6,273.2 L1071.2,277.6 L1071.8,275.8 L1072.4,278.8 L1073.0,281.1 L1073.6,280.8 L1074.2,280.1 L1074.8,284.8 L1075.4,286.1 L1076.0,284.6 L1076.6,279.2 L1077.2,284.7 L1077.8,279.9 L1078.4,282.1 L1079.0,278.5 L1079.6,280.2 L1080.2,286.3 L1080.8,279.2 L1081.4,278.8 L1082.0,279.2 L1082.6,280.1 L1083.2,283.5 L1083.8,285.8 L1084.4,280.1 L1085.0,283.0 L1085.6,282.0 L1086.2,284.8 L1086.8,283.8 L1087.4,284.5 L1088.0,280.6 L1088.6,286.5 L1089.2,286.4 L1089.8,284.6 L1090.4,282.7 L1091.0,279.5 L1091.6,280.0 L1092.2,272.8 L1092.8,279.2 L1093.4,278.9 L1094.0,279.8 L1094.6,286.2 L1095.2,277.5 L1095.8,282.2 L1096.4,275.0 L1097.0,278.2 L1097.6,286.5 L1098.2,281.4 L1098.8,279.3 L1099.4,286.5 L1100.0,279.8 L1100.6,282.3 L1101.2,281.1 L1101.8,282.3 L1102.4,285.0 L1103.0,280.4 L1103.6,280.1 L1104.2,282.9 L1104.8,280.9 L1105.4,276.9 L1106.0,279.6 L1106.6,277.7 L1107.2,267.0 L1107.8,278.6 L1108.4,284.9 L1109.0,275.8 L1109.6,280.7 L1110.2,279.9 L1110.8,283.1 L1111.4,285.2 L1112.0,284.6 L1112.6,279.8 L1113.2,280.4 L1113.8,280.9 L1114.4,284.2 L1115.0,278.6 L1115.6,283.7 L1116.2,282.4 L1116.8,278.3 L1117.4,278.4 L1118.0,277.9 L1118.6,275.1 L1119.2,280.9 L1119.8,280.8 L1120.4,281.7 L1121.0,278.9 L1121.6,276.6 L1122.2,276.2 L1122.8,275.6 L1123.4,278.0 L1124.0,270.6 L1124.6,284.1 L1125.2,279.5 L1125.8,273.6 L1126.4,275.0 L1127.0,272.4 L1127.6,274.5 L1128.2,273.2 L1128.8,281.7 L1129.4,265.9 L1130.0,271.5 L1130.6,277.6 L1131.2,270.9 L1131.8,277.0 L1132.4,270.3 L1133.0,280.2 L1133.6,275.3 L1134.2,276.6 L1134.8,274.4 L1135.4,271.1 L1136.0,271.5 L1136.6,271.8 L1137.2,266.4 L1137.8,266.6 L1138.4,264.6 L1139.0,267.0 L1139.6,273.3 L1140.2,265.8 L1140.8,262.9 L1141.4,263.7 L1142.0,250.2 L1142.6,264.5 L1143.2,264.5 L1143.8,260.7 L1144.4,260.5 L1145.0,260.7 L1145.6,267.0 L1146.2,257.9 L1146.8,252.9 L1147.4,254.9 L1148.0,255.6 L1148.6,252.1 L1149.2,250.7 L1149.8,256.2 L1150.4,259.1 L1151.0,254.5 L1151.6,251.8 L1152.2,252.1 L1152.8,247.0 L1153.4,253.1 L1154.0,257.7 L1154.6,254.9 L1155.2,243.2 L1155.8,240.8 L1156.4,243.7 L1157.0,248.5 L1157.6,252.4 L1158.2,236.1 L1158.8,239.7 L1159.4,244.9 L1160.0,242.5 L1160.6,240.9 L1161.2,228.6 L1161.8,245.7 L1162.4,237.8 L1163.0,241.9 L1163.6,235.9 L1164.2,239.6 L1164.8,232.1 L1165.4,237.2 L1166.0,238.6 L1166.6,234.5 L1167.2,223.3 L1167.8,241.2 L1168.4,239.9 L1169.0,237.4 L1169.6,229.3 L1170.2,235.2 L1170.8,238.2 L1171.4,237.9 L1172.0,220.4 L1172.6,227.9 L1173.2,249.5 L1173.8,228.4 L1174.4,234.4 L1175.0,230.8 L1175.6,241.5 L1176.2,248.1 L1176.8,225.9 L1177.4,231.7 L1178.0,237.2 L1178.6,244.8 L1179.2,239.6 L1179.8,229.1 L1180.4,239.4 L1181.0,238.9 L1181.6,239.6 L1182.2,252.8 L1182.8,233.2 L1183.4,241.2 L1184.0,242.2 L1184.6,251.7 L1185.2,247.7 L1185.8,242.9 L1186.4,248.2 L1187.0,251.3 L1187.6,246.4 L1188.2,241.8 L1188.8,252.3 L1189.4,251.7 L1190.0,254.1 L1190.6,255.6 L1191.2,246.8 L1191.8,249.6 L1192.4,250.9 L1193.0,253.2 L1193.6,243.3 L1194.2,262.6 L1194.8,260.1 L1195.4,259.6 L1196.0,255.2 L1196.6,257.9 L1197.2,259.7 L1197.8,261.1 L1198.4,255.4 L1199.0,259.0 L1199.6,256.4 L1200.2,258.0 L1200.8,257.7 L1201.4,258.1 L1202.0,258.9 L1202.6,251.9 L1203.2,261.0 L1203.8,262.7 L1204.4,257.6 L1205.0,254.5 L1205.6,264.9 L1206.2,259.1 L1206.8,263.2" fill="none" stroke="#7ad97a" stroke-width="1.0" stroke-linejoin="round"/>
<polyline points="728.1,168.4 788.1,168.4 848.1,68.7 908.1,168.4 968.2,68.7 1028.2,168.4 1088.2,68.7 1148.3,168.4 1207.8,168.4" fill="none" stroke="#6e6e6e" stroke-width="2.3" stroke-linejoin="miter"/>
</g>
<line x1="1207.8" y1="58.5" x2="1207.8" y2="288.0" stroke="#7c7c7c" stroke-width="2.3"/>
<line x1="1201.3" y1="288.0" x2="1207.8" y2="288.0" stroke="#7c7c7c" stroke-width="2.2"/>
<line x1="1201.3" y1="248.1" x2="1207.8" y2="248.1" stroke="#7c7c7c" stroke-width="2.2"/>
<line x1="1201.3" y1="208.2" x2="1207.8" y2="208.2" stroke="#7c7c7c" stroke-width="2.2"/>
<line x1="1201.3" y1="168.4" x2="1207.8" y2="168.4" stroke="#7c7c7c" stroke-width="2.2"/>
<line x1="1201.3" y1="128.5" x2="1207.8" y2="128.5" stroke="#7c7c7c" stroke-width="2.2"/>
<line x1="1201.3" y1="88.6" x2="1207.8" y2="88.6" stroke="#7c7c7c" stroke-width="2.2"/>
<line x1="1204.3" y1="268.1" x2="1207.8" y2="268.1" stroke="#7c7c7c" stroke-width="2.2"/>
<line x1="1204.3" y1="228.2" x2="1207.8" y2="228.2" stroke="#7c7c7c" stroke-width="2.2"/>
<line x1="1204.3" y1="188.3" x2="1207.8" y2="188.3" stroke="#7c7c7c" stroke-width="2.2"/>
<line x1="1204.3" y1="148.4" x2="1207.8" y2="148.4" stroke="#7c7c7c" stroke-width="2.2"/>
<line x1="1204.3" y1="108.5" x2="1207.8" y2="108.5" stroke="#7c7c7c" stroke-width="2.2"/>
<line x1="1204.3" y1="68.7" x2="1207.8" y2="68.7" stroke="#7c7c7c" stroke-width="2.2"/>
<line x1="728.1" y1="57.25" x2="728.1" y2="289.25" stroke="#1c1c1c" stroke-width="2.9"/>
<line x1="721.1" y1="288.0" x2="728.1" y2="288.0" stroke="#1c1c1c" stroke-width="2.9"/>
<line x1="721.1" y1="242.1" x2="728.1" y2="242.1" stroke="#1c1c1c" stroke-width="2.9"/>
<line x1="721.1" y1="196.2" x2="728.1" y2="196.2" stroke="#1c1c1c" stroke-width="2.9"/>
<line x1="721.1" y1="150.3" x2="728.1" y2="150.3" stroke="#1c1c1c" stroke-width="2.9"/>
<line x1="721.1" y1="104.4" x2="728.1" y2="104.4" stroke="#1c1c1c" stroke-width="2.9"/>
<line x1="721.1" y1="58.5" x2="728.1" y2="58.5" stroke="#1c1c1c" stroke-width="2.9"/>
<line x1="724.6" y1="265.1" x2="728.1" y2="265.1" stroke="#1c1c1c" stroke-width="2.9"/>
<line x1="724.6" y1="219.2" x2="728.1" y2="219.2" stroke="#1c1c1c" stroke-width="2.9"/>
<line x1="724.6" y1="173.2" x2="728.1" y2="173.2" stroke="#1c1c1c" stroke-width="2.9"/>
<line x1="724.6" y1="127.3" x2="728.1" y2="127.3" stroke="#1c1c1c" stroke-width="2.9"/>
<line x1="724.6" y1="81.5" x2="728.1" y2="81.5" stroke="#1c1c1c" stroke-width="2.9"/>
<line x1="728.1" y1="58.5" x2="1208.8" y2="58.5" stroke="#1c1c1c" stroke-width="2.9"/>
<line x1="728.1" y1="288.0" x2="1208.8" y2="288.0" stroke="#1c1c1c" stroke-width="2.9"/>
<line x1="831.9" y1="288.0" x2="831.9" y2="293.5" stroke="#1c1c1c" stroke-width="2.9"/>
<line x1="952.0" y1="288.0" x2="952.0" y2="293.5" stroke="#1c1c1c" stroke-width="2.9"/>
<line x1="1072.0" y1="288.0" x2="1072.0" y2="293.5" stroke="#1c1c1c" stroke-width="2.9"/>
<line x1="1192.1" y1="288.0" x2="1192.1" y2="293.5" stroke="#1c1c1c" stroke-width="2.9"/>
<line x1="771.9" y1="288.0" x2="771.9" y2="291.0" stroke="#1c1c1c" stroke-width="2.9"/>
<line x1="891.9" y1="288.0" x2="891.9" y2="291.0" stroke="#1c1c1c" stroke-width="2.9"/>
<line x1="1012.0" y1="288.0" x2="1012.0" y2="291.0" stroke="#1c1c1c" stroke-width="2.9"/>
<line x1="1132.0" y1="288.0" x2="1132.0" y2="291.0" stroke="#1c1c1c" stroke-width="2.9"/>
<text x="831.9" y="315.3" font-size="22" text-anchor="middle" fill="#0a0a0a" stroke="#0a0a0a" stroke-width="0.35" font-weight="normal" >600</text>
<text x="952.0" y="315.3" font-size="22" text-anchor="middle" fill="#0a0a0a" stroke="#0a0a0a" stroke-width="0.35" font-weight="normal" >800</text>
<text x="1072.0" y="315.3" font-size="22" text-anchor="middle" fill="#0a0a0a" stroke="#0a0a0a" stroke-width="0.35" font-weight="normal" >1000</text>
<text x="1192.1" y="315.3" font-size="22" text-anchor="middle" fill="#0a0a0a" stroke="#0a0a0a" stroke-width="0.35" font-weight="normal" >1200</text>
<text x="968.0" y="349.6" font-size="22" text-anchor="middle" fill="#0a0a0a" stroke="#0a0a0a" stroke-width="0.35" font-weight="normal" >Time / s</text>
<text x="1217.1" y="294.6" font-size="22" text-anchor="start" fill="#8e8e8e" stroke="#8e8e8e" stroke-width="0.35" font-weight="normal" >0.0</text>
<text x="1217.1" y="254.7" font-size="22" text-anchor="start" fill="#8e8e8e" stroke="#8e8e8e" stroke-width="0.35" font-weight="normal" >0.2</text>
<text x="1217.1" y="214.8" font-size="22" text-anchor="start" fill="#8e8e8e" stroke="#8e8e8e" stroke-width="0.35" font-weight="normal" >0.4</text>
<text x="1217.1" y="175.0" font-size="22" text-anchor="start" fill="#8e8e8e" stroke="#8e8e8e" stroke-width="0.35" font-weight="normal" >0.6</text>
<text x="1217.1" y="135.1" font-size="22" text-anchor="start" fill="#8e8e8e" stroke="#8e8e8e" stroke-width="0.35" font-weight="normal" >0.8</text>
<text x="1217.1" y="95.2" font-size="22" text-anchor="start" fill="#8e8e8e" stroke="#8e8e8e" stroke-width="0.35" font-weight="normal" >1.0</text>
<g clip-path="url(#clipbRa)">
<path d="M729.3,275.3 L731.1,275.5 L733.4,275.9 L736.3,276.3 L739.5,276.7 L742.8,277.2 L746.3,277.7 L750.0,278.2 L754.2,278.8 L758.5,279.5 L762.8,280.1 L767.0,280.8 L770.7,281.4 L773.9,282.1 L776.8,282.8 L779.5,283.5 L782.1,284.2 L784.8,284.7 L787.7,285.0 L790.7,285.1 L793.8,285.0 L797.0,284.7 L800.3,284.4 L803.6,284.1 L807.2,283.8 L811.1,283.7 L815.4,283.6 L819.8,283.6 L824.1,283.5 L828.1,283.2 L831.5,282.6 L834.3,281.8 L836.6,280.8 L838.5,279.6 L840.3,278.2 L841.9,276.8 L843.7,275.3 L845.5,273.8 L847.2,272.3 L848.9,270.7 L850.5,268.9 L852.0,266.8 L853.5,264.3 L854.9,261.4 L856.1,258.1 L857.3,254.5 L858.5,250.6 L859.6,246.6 L860.8,242.4 L862.0,238.0 L863.2,233.3 L864.4,228.4 L865.7,223.4 L866.9,218.3 L868.1,213.2 L869.3,208.0 L870.6,202.8 L871.8,197.4 L873.1,192.0 L874.3,186.8 L875.4,181.6 L876.5,176.3 L877.5,170.9 L878.5,165.5 L879.5,160.4 L880.4,156.0 L881.4,152.4 L882.4,149.7 L883.3,147.8 L884.2,146.5 L885.2,145.6 L886.1,145.2 L887.0,145.1 L887.9,145.4 L888.8,146.1 L889.7,147.2 L890.6,148.7 L891.5,150.5 L892.4,152.4 L893.2,154.5 L894.0,156.8 L894.8,159.4 L895.6,162.3 L896.4,165.6 L897.3,169.4 L898.2,173.8 L899.2,178.8 L900.3,184.3 L901.3,189.9 L902.4,195.6 L903.4,201.0 L904.4,206.3 L905.4,211.7 L906.3,217.1 L907.3,222.5 L908.3,227.7 L909.4,232.7 L910.5,237.6 L911.7,242.5 L913.0,247.3 L914.2,251.8 L915.5,255.9 L916.7,259.5 L917.9,262.5 L919.0,264.9 L920.2,267.0 L921.4,268.7 L922.6,270.3 L924.0,271.7 L925.5,272.9 L927.0,273.8 L928.6,274.5 L930.3,275.1 L932.0,275.7 L933.8,276.5 L935.7,277.5 L937.7,278.6 L939.8,279.8 L941.9,280.9 L943.9,281.8 L946.0,282.6 L948.1,283.2 L950.2,283.6 L952.4,283.9 L954.5,284.1 L956.4,284.1 L958.1,284.0 L959.6,283.7 L960.9,283.2 L962.0,282.6 L963.1,281.9 L964.1,281.0 L965.0,280.0 L965.8,279.0 L966.5,277.9 L967.1,276.7 L967.7,275.3 L968.4,273.6 L969.3,271.7 L970.3,269.4 L971.5,266.9 L972.8,264.1 L974.1,261.2 L975.3,258.0 L976.6,254.6 L977.8,251.0 L979.0,247.2 L980.2,243.2 L981.5,239.0 L982.7,234.7 L983.9,230.3 L985.1,225.7 L986.3,221.0 L987.5,216.1 L988.8,211.1 L990.0,206.1 L991.2,201.0 L992.4,195.7 L993.7,190.1 L995.0,184.4 L996.2,178.9 L997.4,173.8 L998.5,169.4 L999.5,165.6 L1000.4,162.2 L1001.2,159.2 L1002.0,156.5 L1002.7,154.3 L1003.4,152.4 L1004.1,150.9 L1004.6,149.9 L1005.2,149.3 L1005.8,148.9 L1006.3,148.7 L1007.0,148.7 L1007.7,148.7 L1008.5,148.8 L1009.3,149.1 L1010.1,149.7 L1011.0,150.8 L1011.9,152.4 L1012.8,154.6 L1013.8,157.2 L1014.8,160.2 L1015.8,163.7 L1016.9,167.5 L1018.0,171.8 L1019.1,176.6 L1020.3,182.1 L1021.6,187.9 L1022.8,194.0 L1024.1,200.0 L1025.3,205.9 L1026.5,211.7 L1027.7,217.6 L1028.9,223.6 L1030.2,229.4 L1031.4,234.9 L1032.6,240.0 L1033.8,244.8 L1035.0,249.4 L1036.2,253.7 L1037.5,257.6 L1038.7,261.2 L1039.9,264.3 L1041.1,266.8 L1042.3,268.7 L1043.6,270.3 L1044.8,271.6 L1046.0,272.8 L1047.2,274.1 L1048.4,275.5 L1049.5,276.9 L1050.5,278.2 L1051.7,279.4 L1053.0,280.5 L1054.5,281.4 L1056.2,282.1 L1058.1,282.7 L1060.1,283.1 L1062.3,283.4 L1064.5,283.7 L1066.7,283.8 L1069.1,283.9 L1071.7,283.9 L1074.3,283.9 L1076.9,283.7 L1079.3,283.3 L1081.3,282.6 L1082.9,281.7 L1084.3,280.7 L1085.4,279.5 L1086.4,278.0 L1087.5,276.2 L1088.6,274.1 L1089.8,271.6 L1091.0,268.8 L1092.2,265.6 L1093.5,262.2 L1094.7,258.5 L1095.9,254.6 L1097.1,250.4 L1098.3,245.8 L1099.6,240.9 L1100.8,235.9 L1102.0,230.7 L1103.2,225.4 L1104.4,220.0 L1105.6,214.4 L1106.8,208.7 L1108.1,202.8 L1109.3,197.0 L1110.5,191.3 L1111.7,185.4 L1113.0,179.2 L1114.2,173.0 L1115.5,167.1 L1116.7,161.8 L1117.8,157.2 L1118.9,153.5 L1120.0,150.4 L1121.1,147.9 L1122.1,145.8 L1123.1,144.1 L1123.9,142.6 L1124.6,141.4 L1125.1,140.5 L1125.5,140.0 L1125.9,139.8 L1126.4,139.9 L1127.0,140.2 L1127.8,140.7 L1128.6,141.6 L1129.6,142.6 L1130.6,144.0 L1131.5,145.6 L1132.4,147.5 L1133.2,149.6 L1134.0,151.9 L1134.7,154.5 L1135.5,157.4 L1136.4,160.7 L1137.3,164.5 L1138.4,168.9 L1139.6,173.9 L1140.8,179.3 L1142.1,184.9 L1143.3,190.6 L1144.6,196.2 L1145.8,201.8 L1147.1,207.7 L1148.3,213.6 L1149.5,219.4 L1150.8,225.0 L1152.0,230.3 L1153.2,235.3 L1154.3,240.1 L1155.5,244.7 L1156.6,249.1 L1157.9,253.2 L1159.2,257.0 L1160.6,260.5 L1162.2,263.7 L1163.7,266.6 L1165.4,269.3 L1167.1,271.8 L1168.9,274.1 L1170.8,276.3 L1172.8,278.3 L1174.8,280.2 L1176.9,281.7 L1179.0,283.0 L1181.1,283.8 L1183.1,284.1 L1185.1,283.8 L1187.2,283.1 L1189.2,282.4 L1191.2,281.7 L1193.3,281.4 L1195.5,281.4 L1198.0,281.6 L1200.4,281.8 L1202.7,282.2 L1204.6,282.4 L1206.0,282.6" fill="none" stroke="#f28a26" stroke-width="2.6" stroke-linejoin="round" stroke-linecap="round"/>
<path d="M729.3,285.0 L731.7,284.5 L735.1,283.8 L739.0,283.0 L743.3,282.2 L747.4,281.6 L751.2,281.4 L754.5,281.6 L757.7,282.2 L760.8,282.9 L763.9,283.7 L767.2,284.5 L770.7,285.0 L774.3,285.3 L778.0,285.6 L781.8,285.8 L785.8,285.8 L790.2,285.9 L795.0,285.8 L800.6,285.7 L807.0,285.5 L813.7,285.2 L820.3,284.9 L826.4,284.4 L831.5,283.8 L835.6,283.0 L838.9,281.9 L841.7,280.8 L844.2,279.6 L846.4,278.6 L848.6,277.7 L850.5,277.1 L852.0,276.5 L853.3,276.1 L854.6,275.8 L856.2,275.5 L858.3,275.3 L861.1,275.2 L864.4,275.2 L868.0,275.3 L871.7,275.4 L875.0,275.4 L877.8,275.3 L880.0,275.1 L881.8,275.0 L883.3,274.8 L884.6,274.4 L886.0,273.8 L887.5,272.9 L889.1,271.6 L890.8,269.9 L892.4,268.0 L894.0,266.0 L895.7,263.9 L897.3,261.9 L898.9,259.9 L900.5,257.7 L902.2,255.6 L903.8,253.4 L905.4,251.5 L907.0,249.7 L908.7,248.1 L910.4,246.6 L912.1,245.3 L913.8,244.1 L915.4,243.2 L916.7,242.4 L917.8,241.9 L918.6,241.5 L919.3,241.4 L920.0,241.5 L920.7,241.7 L921.6,242.0 L922.6,242.4 L923.8,242.9 L924.9,243.6 L926.2,244.5 L927.5,245.7 L928.9,247.3 L930.4,249.5 L932.0,252.3 L933.6,255.4 L935.3,258.6 L937.0,261.6 L938.7,264.3 L940.3,266.7 L941.9,269.0 L943.6,271.2 L945.2,273.2 L946.8,274.9 L948.4,276.5 L950.0,277.8 L951.5,278.9 L953.0,279.7 L954.6,280.4 L956.2,281.0 L958.1,281.4 L960.2,281.6 L962.4,281.7 L964.8,281.6 L967.2,281.4 L969.6,281.2 L972.0,281.0 L974.3,280.9 L976.5,280.8 L978.8,280.7 L981.1,280.6 L983.6,280.4 L986.3,280.2 L989.3,280.0 L992.7,279.8 L996.2,279.6 L999.6,279.2 L1002.9,278.6 L1005.8,277.7 L1008.3,276.4 L1010.4,274.8 L1012.4,273.0 L1014.2,271.0 L1016.1,268.9 L1018.0,266.8 L1020.1,264.5 L1022.2,261.9 L1024.3,259.2 L1026.3,256.6 L1028.3,254.2 L1030.2,252.2 L1032.0,250.6 L1033.8,249.3 L1035.6,248.2 L1037.2,247.4 L1038.7,246.7 L1039.9,246.1 L1040.8,245.6 L1041.4,245.3 L1041.8,245.2 L1042.2,245.2 L1042.7,245.5 L1043.5,246.1 L1044.6,247.0 L1046.0,248.1 L1047.4,249.4 L1049.0,251.0 L1050.5,252.7 L1052.1,254.6 L1053.7,256.7 L1055.3,259.2 L1056.9,261.8 L1058.5,264.5 L1060.2,267.0 L1061.8,269.2 L1063.4,271.2 L1064.9,273.1 L1066.5,274.8 L1068.1,276.4 L1069.7,277.8 L1071.5,279.0 L1073.2,280.0 L1074.9,280.8 L1076.7,281.4 L1078.6,281.9 L1080.9,282.3 L1083.7,282.6 L1087.1,282.9 L1091.1,283.0 L1095.4,283.1 L1099.9,283.1 L1104.2,282.9 L1108.1,282.6 L1111.7,282.1 L1115.2,281.5 L1118.6,280.7 L1121.8,279.8 L1124.7,278.8 L1127.5,277.7 L1130.0,276.6 L1132.1,275.4 L1134.1,274.2 L1135.9,272.8 L1137.8,271.2 L1139.7,269.2 L1141.8,266.8 L1143.9,264.0 L1146.0,260.9 L1148.0,257.8 L1150.0,254.9 L1151.9,252.2 L1153.7,249.8 L1155.4,247.5 L1157.1,245.3 L1158.6,243.3 L1160.2,241.5 L1161.6,240.0 L1163.0,238.7 L1164.2,237.7 L1165.4,236.9 L1166.6,236.3 L1167.7,235.9 L1168.9,235.6 L1170.1,235.5 L1171.2,235.5 L1172.4,235.7 L1173.6,236.1 L1174.8,236.7 L1176.2,237.6 L1177.7,238.8 L1179.3,240.3 L1181.0,242.0 L1182.6,243.9 L1184.3,245.7 L1186.0,247.3 L1187.6,248.8 L1189.2,250.4 L1190.8,251.9 L1192.4,253.3 L1194.0,254.6 L1195.7,255.8 L1197.5,256.9 L1199.5,257.9 L1201.5,258.8 L1203.3,259.6 L1204.9,260.2 L1206.0,260.7" fill="none" stroke="#2bbf3f" stroke-width="2.8" stroke-linejoin="round" stroke-linecap="round"/>
</g>
<clipPath id="clipLb"><rect x="197.39999999999998" y="374.2" width="477.4" height="227.90000000000003"/></clipPath>
<clipPath id="clipbLb"><rect x="197.39999999999998" y="374.2" width="477.4" height="230.60000000000002"/></clipPath>
<g clip-path="url(#clipLb)">
<path d="M196.7,596.4 L197.4,599.7 L198.1,599.5 L198.8,596.2 L199.5,596.6 L200.2,585.0 L200.9,595.2 L201.6,599.3 L202.3,601.2 L203.0,589.9 L203.7,595.9 L204.4,578.6 L205.1,599.8 L205.8,594.6 L206.5,596.7 L207.2,593.8 L207.9,593.2 L208.6,589.2 L209.3,592.5 L210.0,594.4 L210.7,599.9 L211.4,597.5 L212.1,590.2 L212.8,593.3 L213.5,600.8 L214.2,600.1 L214.9,596.4 L215.6,599.4 L216.3,595.6 L217.0,586.0 L217.7,596.7 L218.4,598.1 L219.1,601.5 L219.8,577.8 L220.5,593.5 L221.2,600.2 L221.9,596.7 L222.6,598.7 L223.3,590.5 L224.0,595.5 L224.7,598.4 L225.4,601.0 L226.1,599.3 L226.8,592.8 L227.5,589.4 L228.2,591.9 L228.9,597.2 L229.6,591.3 L230.3,597.0 L231.0,596.8 L231.7,592.9 L232.4,594.7 L233.1,599.4 L233.8,601.4 L234.5,596.2 L235.2,592.6 L235.9,600.4 L236.6,591.0 L237.3,595.7 L238.0,590.7 L238.7,595.7 L239.4,591.0 L240.1,593.5 L240.8,597.3 L241.5,592.2 L242.2,592.1 L242.9,598.0 L243.6,593.4 L244.3,595.0 L245.0,594.4 L245.7,592.3 L246.4,599.1 L247.1,588.3 L247.8,588.4 L248.5,593.9 L249.2,587.4 L249.9,591.9 L250.6,596.9 L251.3,590.8 L252.0,598.3 L252.7,596.5 L253.4,590.6 L254.1,593.9 L254.8,592.3 L255.5,591.0 L256.2,594.8 L256.9,589.2 L257.6,592.0 L258.3,586.9 L259.0,593.0 L259.7,591.2 L260.4,590.6 L261.1,586.8 L261.8,581.5 L262.5,586.6 L263.2,592.9 L263.9,589.0 L264.6,589.8 L265.3,597.7 L266.0,589.2 L266.7,593.1 L267.4,595.3 L268.1,590.8 L268.8,596.7 L269.5,598.7 L270.2,595.1 L270.9,594.2 L271.6,590.2 L272.3,592.5 L273.0,584.7 L273.7,588.4 L274.4,598.2 L275.1,597.1 L275.8,594.7 L276.5,592.0 L277.2,588.0 L277.9,591.8 L278.6,588.1 L279.3,581.7 L280.0,587.4 L280.7,587.0 L281.4,593.3 L282.1,584.3 L282.8,590.9 L283.5,594.2 L284.2,586.0 L284.9,580.9 L285.6,585.9 L286.3,585.0 L287.0,587.5 L287.7,585.6 L288.4,586.7 L289.1,590.6 L289.8,574.7 L290.5,582.9 L291.2,579.8 L291.9,578.0 L292.6,570.6 L293.3,556.9 L294.0,581.6 L294.7,580.7 L295.4,576.5 L296.1,574.3 L296.8,571.2 L297.5,579.8 L298.2,576.2 L298.9,575.9 L299.6,571.2 L300.3,573.1 L301.0,579.8 L301.7,573.5 L302.4,570.7 L303.1,565.0 L303.8,568.9 L304.5,570.4 L305.2,560.4 L305.9,566.7 L306.6,566.5 L307.3,572.2 L308.0,553.2 L308.7,556.9 L309.4,564.2 L310.1,567.2 L310.8,561.2 L311.5,560.4 L312.2,557.3 L312.9,558.5 L313.6,560.5 L314.3,571.2 L315.0,562.9 L315.7,550.1 L316.4,548.5 L317.1,568.9 L317.8,558.2 L318.5,563.1 L319.2,562.4 L319.9,570.4 L320.6,560.6 L321.3,551.3 L322.0,564.3 L322.7,560.6 L323.4,552.1 L324.1,565.9 L324.8,564.2 L325.5,560.2 L326.2,569.5 L326.9,570.4 L327.6,564.6 L328.3,573.4 L329.0,567.7 L329.7,572.5 L330.4,572.3 L331.1,577.0 L331.8,579.3 L332.5,585.7 L333.2,577.4 L333.9,578.2 L334.6,573.8 L335.3,584.2 L336.0,584.9 L336.7,585.0 L337.4,575.7 L338.1,591.8 L338.8,582.6 L339.5,591.2 L340.2,587.7 L340.9,586.1 L341.6,589.4 L342.3,590.0 L343.0,592.5 L343.7,590.0 L344.4,579.3 L345.1,590.3 L345.8,588.5 L346.5,589.4 L347.2,593.2 L347.9,589.3 L348.6,591.9 L349.3,585.2 L350.0,586.7 L350.7,583.5 L351.4,591.9 L352.1,588.0 L352.8,585.4 L353.5,596.2 L354.2,590.3 L354.9,595.7 L355.6,587.9 L356.3,589.1 L357.0,591.7 L357.7,590.9 L358.4,594.4 L359.1,588.1 L359.8,595.1 L360.5,593.7 L361.2,585.2 L361.9,587.8 L362.6,596.2 L363.3,590.8 L364.0,594.9 L364.7,590.5 L365.4,586.9 L366.1,593.9 L366.8,596.0 L367.5,589.0 L368.2,587.3 L368.9,588.5 L369.6,594.0 L370.3,596.0 L371.0,599.1 L371.7,589.8 L372.4,587.0 L373.1,588.5 L373.8,583.7 L374.5,587.7 L375.2,588.0 L375.9,594.8 L376.6,585.7 L377.3,591.2 L378.0,590.8 L378.7,589.1 L379.4,578.6 L380.1,580.4 L380.8,588.8 L381.5,589.3 L382.2,588.6 L382.9,584.8 L383.6,580.6 L384.3,578.7 L385.0,587.2 L385.7,580.7 L386.4,585.4 L387.1,577.3 L387.8,581.9 L388.5,577.8 L389.2,580.3 L389.9,580.4 L390.6,576.4 L391.3,577.5 L392.0,584.5 L392.7,585.1 L393.4,573.2 L394.1,576.3 L394.8,576.9 L395.5,572.4 L396.2,578.3 L396.9,586.2 L397.6,577.3 L398.3,575.3 L399.0,573.1 L399.7,570.0 L400.4,577.5 L401.1,579.2 L401.8,571.1 L402.5,575.1 L403.2,577.4 L403.9,584.1 L404.6,585.9 L405.3,587.4 L406.0,587.6 L406.7,577.4 L407.4,579.0 L408.1,580.9 L408.8,583.4 L409.5,582.9 L410.2,583.7 L410.9,568.6 L411.6,577.3 L412.3,593.1 L413.0,589.7 L413.7,583.3 L414.4,590.5 L415.1,589.0 L415.8,590.5 L416.5,593.8 L417.2,595.0 L417.9,589.8 L418.6,575.8 L419.3,587.4 L420.0,591.7 L420.7,589.6 L421.4,584.9 L422.1,593.0 L422.8,589.8 L423.5,589.9 L424.2,595.4 L424.9,592.9 L425.6,585.5 L426.3,586.6 L427.0,588.3 L427.7,583.3 L428.4,585.7 L429.1,578.9 L429.8,590.2 L430.5,593.3 L431.2,587.2 L431.9,591.7 L432.6,593.0 L433.3,591.7 L434.0,585.7 L434.7,585.0 L435.4,593.8 L436.1,590.7 L436.8,590.1 L437.5,594.1 L438.2,591.2 L438.9,596.7 L439.6,590.1 L440.3,590.7 L441.0,590.5 L441.7,590.9 L442.4,593.0 L443.1,592.4 L443.8,586.5 L444.5,591.3 L445.2,591.4 L445.9,588.9 L446.6,592.3 L447.3,598.9 L448.0,591.3 L448.7,587.4 L449.4,589.3 L450.1,589.9 L450.8,584.3 L451.5,589.8 L452.2,597.8 L452.9,583.4 L453.6,592.7 L454.3,592.4 L455.0,590.6 L455.7,588.4 L456.4,597.6 L457.1,594.8 L457.8,600.7 L458.5,588.2 L459.2,583.3 L459.9,597.5 L460.6,595.3 L461.3,593.9 L462.0,582.3 L462.7,594.3 L463.4,596.5 L464.1,590.0 L464.8,587.2 L465.5,600.7 L466.2,594.2 L466.9,589.2 L467.6,594.6 L468.3,591.3 L469.0,596.8 L469.7,592.6 L470.4,599.8 L471.1,592.7 L471.8,593.1 L472.5,584.1 L473.2,598.2 L473.9,594.6 L474.6,598.4 L475.3,593.9 L476.0,588.1 L476.7,601.5 L477.4,589.4 L478.1,592.5 L478.8,595.9 L479.5,599.9 L480.2,597.1 L480.9,590.7 L481.6,588.6 L482.3,587.2 L483.0,595.5 L483.7,593.4 L484.4,587.2 L485.1,593.5 L485.8,589.4 L486.5,588.8 L487.2,584.5 L487.9,595.1 L488.6,590.7 L489.3,599.0 L490.0,590.7 L490.7,589.5 L491.4,595.4 L492.1,592.7 L492.8,571.7 L493.5,585.7 L494.2,588.8 L494.9,592.4 L495.6,588.5 L496.3,582.2 L497.0,586.8 L497.7,584.0 L498.4,584.4 L499.1,586.4 L499.8,565.2 L500.5,589.5 L501.2,582.9 L501.9,579.4 L502.6,583.1 L503.3,590.6 L504.0,581.2 L504.7,578.4 L505.4,582.7 L506.1,585.8 L506.8,582.9 L507.5,589.6 L508.2,587.2 L508.9,586.9 L509.6,585.1 L510.3,574.9 L511.0,587.1 L511.7,581.1 L512.4,578.0 L513.1,576.0 L513.8,577.3 L514.5,575.1 L515.2,583.6 L515.9,586.1 L516.6,574.7 L517.3,576.2 L518.0,583.7 L518.7,578.6 L519.4,579.2 L520.1,578.3 L520.8,576.8 L521.5,583.2 L522.2,583.6 L522.9,582.6 L523.6,580.5 L524.3,577.0 L525.0,582.2 L525.7,582.7 L526.4,578.1 L527.1,581.7 L527.8,575.4 L528.5,583.2 L529.2,587.0 L529.9,581.1 L530.6,581.3 L531.3,587.5 L532.0,581.7 L532.7,587.6 L533.4,582.3 L534.1,587.6 L534.8,580.2 L535.5,588.4 L536.2,588.6 L536.9,586.6 L537.6,580.8 L538.3,586.2 L539.0,590.6 L539.7,584.8 L540.4,590.0 L541.1,586.9 L541.8,590.8 L542.5,589.7 L543.2,592.1 L543.9,581.7 L544.6,586.8 L545.3,582.6 L546.0,593.2 L546.7,591.8 L547.4,591.7 L548.1,592.8 L548.8,587.9 L549.5,595.8 L550.2,597.2 L550.9,590.8 L551.6,588.4 L552.3,589.4 L553.0,592.9 L553.7,584.9 L554.4,582.1 L555.1,589.6 L555.8,586.5 L556.5,588.0 L557.2,577.4 L557.9,596.4 L558.6,588.7 L559.3,588.6 L560.0,593.7 L560.7,584.0 L561.4,587.9 L562.1,586.1 L562.8,597.8 L563.5,592.7 L564.2,591.8 L564.9,588.8 L565.6,597.2 L566.3,597.3 L567.0,596.8 L567.7,592.6 L568.4,594.0 L569.1,588.9 L569.8,591.8 L570.5,595.2 L571.2,587.9 L571.9,591.3 L572.6,598.5 L573.3,594.9 L574.0,595.6 L574.7,593.6 L575.4,593.3 L576.1,592.3 L576.8,596.7 L577.5,593.0 L578.2,590.7 L578.9,587.7 L579.6,596.2 L580.3,589.2 L581.0,570.4 L581.7,591.3 L582.4,596.5 L583.1,597.9 L583.8,595.0 L584.5,591.0 L585.2,585.2 L585.9,595.5 L586.6,591.6 L587.3,589.6 L588.0,593.9 L588.7,582.8 L589.4,592.1 L590.1,589.6 L590.8,590.9 L591.5,587.7 L592.2,591.8 L592.9,598.2 L593.6,595.7 L594.3,587.8 L595.0,597.9 L595.7,580.5 L596.4,594.3 L597.1,590.6 L597.8,589.8 L598.5,592.9 L599.2,571.9 L599.9,585.1 L600.6,598.1 L601.3,586.6 L602.0,591.3 L602.7,594.7 L603.4,596.6 L604.1,588.3 L604.8,586.2 L605.5,588.4 L606.2,588.7 L606.9,599.7 L607.6,593.6 L608.3,598.2 L609.0,586.6 L609.7,588.5 L610.4,590.9 L611.1,585.4 L611.8,586.3 L612.5,592.5 L613.2,590.0 L613.9,588.1 L614.6,588.3 L615.3,590.9 L616.0,590.2 L616.7,593.6 L617.4,590.0 L618.1,586.8 L618.8,592.1 L619.5,585.0 L620.2,582.1 L620.9,584.4 L621.6,593.1 L622.3,589.8 L623.0,581.0 L623.7,587.0 L624.4,582.4 L625.1,576.9 L625.8,580.0 L626.5,579.2 L627.2,588.7 L627.9,582.8 L628.6,577.7 L629.3,579.6 L630.0,583.1 L630.7,578.4 L631.4,581.9 L632.1,580.4 L632.8,582.3 L633.5,576.8 L634.2,582.7 L634.9,576.1 L635.6,579.8 L636.3,575.6 L637.0,582.0 L637.7,589.6 L638.4,585.5 L639.1,578.7 L639.8,577.5 L640.5,584.5 L641.2,583.1 L641.9,578.7 L642.6,589.9 L643.3,584.9 L644.0,584.5 L644.7,583.8 L645.4,581.8 L646.1,573.7 L646.8,582.7 L647.5,557.4 L648.2,593.3 L648.9,577.9 L649.6,588.9 L650.3,580.9 L651.0,587.4 L651.7,581.1 L652.4,577.3 L653.1,585.1 L653.8,583.0 L654.5,579.8 L655.2,589.6 L655.9,586.8 L656.6,576.1 L657.3,579.3 L658.0,584.1 L658.7,582.4 L659.4,577.6 L660.1,577.7 L660.8,586.5 L661.5,582.8 L662.2,589.2 L662.9,585.1 L663.6,582.1 L664.3,577.4 L665.0,591.9 L665.7,586.1 L666.4,582.8 L667.1,582.5 L667.8,584.5 L668.5,582.5 L669.2,579.2 L669.9,586.9 L670.6,583.4 L671.3,582.9 L672.0,590.2 L672.7,575.8 L673.4,590.0 L674.1,592.4 L674.8,580.5" fill="none" stroke="#fcbf86" stroke-width="1.0" stroke-linejoin="round"/>
<path d="M196.7,601.4 L197.4,598.1 L198.1,600.0 L198.8,600.7 L199.5,600.1 L200.2,600.6 L200.9,599.6 L201.6,601.3 L202.3,598.9 L203.0,595.8 L203.7,598.2 L204.4,598.9 L205.1,596.7 L205.8,599.6 L206.5,599.9 L207.2,598.3 L207.9,597.9 L208.6,599.8 L209.3,597.5 L210.0,601.5 L210.7,600.4 L211.4,597.7 L212.1,600.4 L212.8,601.4 L213.5,598.5 L214.2,596.3 L214.9,601.5 L215.6,599.4 L216.3,598.4 L217.0,600.7 L217.7,597.7 L218.4,598.4 L219.1,599.6 L219.8,600.1 L220.5,598.8 L221.2,597.5 L221.9,598.7 L222.6,598.6 L223.3,598.7 L224.0,599.0 L224.7,598.1 L225.4,599.0 L226.1,596.9 L226.8,599.3 L227.5,601.5 L228.2,598.3 L228.9,599.0 L229.6,599.2 L230.3,599.8 L231.0,598.5 L231.7,599.0 L232.4,598.5 L233.1,599.1 L233.8,600.9 L234.5,600.0 L235.2,599.6 L235.9,600.3 L236.6,597.8 L237.3,599.2 L238.0,598.2 L238.7,598.0 L239.4,598.2 L240.1,598.1 L240.8,599.3 L241.5,599.2 L242.2,599.8 L242.9,600.2 L243.6,599.7 L244.3,598.4 L245.0,596.8 L245.7,600.1 L246.4,599.2 L247.1,596.7 L247.8,601.4 L248.5,601.1 L249.2,601.4 L249.9,600.1 L250.6,600.3 L251.3,599.0 L252.0,601.3 L252.7,598.4 L253.4,597.2 L254.1,599.8 L254.8,600.5 L255.5,600.2 L256.2,599.5 L256.9,600.5 L257.6,598.5 L258.3,598.9 L259.0,601.5 L259.7,601.5 L260.4,599.6 L261.1,600.2 L261.8,599.7 L262.5,600.9 L263.2,601.5 L263.9,596.9 L264.6,600.3 L265.3,599.9 L266.0,598.3 L266.7,597.8 L267.4,599.9 L268.1,601.3 L268.8,598.5 L269.5,601.5 L270.2,599.0 L270.9,600.7 L271.6,601.6 L272.3,601.1 L273.0,600.0 L273.7,599.9 L274.4,601.4 L275.1,599.6 L275.8,600.8 L276.5,598.9 L277.2,600.0 L277.9,599.0 L278.6,601.2 L279.3,601.6 L280.0,596.5 L280.7,599.9 L281.4,601.5 L282.1,598.9 L282.8,601.4 L283.5,597.6 L284.2,600.8 L284.9,599.8 L285.6,601.4 L286.3,598.6 L287.0,596.8 L287.7,599.8 L288.4,597.9 L289.1,600.7 L289.8,597.9 L290.5,598.8 L291.2,598.5 L291.9,598.3 L292.6,598.1 L293.3,598.3 L294.0,600.2 L294.7,596.7 L295.4,597.3 L296.1,597.8 L296.8,596.0 L297.5,594.5 L298.2,596.8 L298.9,593.4 L299.6,590.3 L300.3,593.6 L301.0,589.6 L301.7,588.6 L302.4,588.2 L303.1,587.3 L303.8,581.0 L304.5,569.7 L305.2,573.2 L305.9,563.2 L306.6,555.5 L307.3,548.4 L308.0,530.6 L308.7,522.6 L309.4,512.3 L310.1,495.9 L310.8,492.4 L311.5,483.3 L312.2,478.8 L312.9,478.0 L313.6,454.5 L314.3,446.7 L315.0,429.4 L315.7,433.1 L316.4,460.3 L317.1,439.8 L317.8,419.0 L318.5,409.7 L319.2,422.4 L319.9,432.4 L320.6,420.1 L321.3,396.3 L322.0,406.9 L322.7,429.4 L323.4,419.8 L324.1,418.8 L324.8,447.7 L325.5,429.4 L326.2,422.8 L326.9,420.6 L327.6,437.6 L328.3,448.6 L329.0,449.8 L329.7,461.3 L330.4,435.7 L331.1,441.3 L331.8,439.9 L332.5,451.7 L333.2,469.4 L333.9,443.6 L334.6,452.0 L335.3,452.2 L336.0,456.9 L336.7,455.8 L337.4,478.8 L338.1,473.1 L338.8,467.3 L339.5,483.2 L340.2,466.7 L340.9,476.0 L341.6,488.5 L342.3,485.3 L343.0,485.3 L343.7,482.9 L344.4,493.0 L345.1,492.8 L345.8,504.6 L346.5,508.5 L347.2,513.7 L347.9,502.7 L348.6,521.6 L349.3,506.7 L350.0,520.1 L350.7,513.5 L351.4,518.9 L352.1,515.9 L352.8,513.4 L353.5,521.9 L354.2,531.8 L354.9,526.9 L355.6,530.6 L356.3,526.5 L357.0,525.7 L357.7,544.0 L358.4,532.3 L359.1,543.9 L359.8,535.9 L360.5,537.4 L361.2,532.9 L361.9,537.5 L362.6,541.8 L363.3,545.5 L364.0,538.3 L364.7,537.9 L365.4,546.2 L366.1,551.0 L366.8,548.6 L367.5,549.6 L368.2,546.9 L368.9,552.9 L369.6,541.9 L370.3,555.1 L371.0,540.8 L371.7,556.0 L372.4,557.9 L373.1,558.6 L373.8,553.5 L374.5,558.1 L375.2,562.3 L375.9,561.6 L376.6,558.1 L377.3,558.7 L378.0,557.8 L378.7,562.3 L379.4,562.2 L380.1,566.5 L380.8,565.6 L381.5,565.0 L382.2,570.4 L382.9,559.9 L383.6,564.4 L384.3,575.0 L385.0,564.7 L385.7,575.0 L386.4,567.5 L387.1,574.2 L387.8,568.7 L388.5,569.3 L389.2,572.0 L389.9,569.8 L390.6,575.7 L391.3,573.7 L392.0,575.1 L392.7,579.3 L393.4,579.0 L394.1,577.7 L394.8,573.3 L395.5,580.9 L396.2,581.2 L396.9,582.1 L397.6,579.5 L398.3,582.6 L399.0,583.3 L399.7,585.5 L400.4,581.0 L401.1,588.2 L401.8,587.3 L402.5,585.3 L403.2,586.7 L403.9,585.5 L404.6,584.3 L405.3,588.5 L406.0,585.9 L406.7,584.6 L407.4,588.0 L408.1,590.2 L408.8,588.5 L409.5,587.3 L410.2,588.5 L410.9,589.6 L411.6,589.5 L412.3,589.8 L413.0,591.9 L413.7,587.7 L414.4,589.8 L415.1,591.8 L415.8,594.3 L416.5,591.1 L417.2,592.3 L417.9,588.3 L418.6,589.5 L419.3,591.3 L420.0,591.0 L420.7,592.4 L421.4,594.1 L422.1,589.3 L422.8,589.4 L423.5,588.3 L424.2,586.4 L424.9,585.0 L425.6,578.9 L426.3,578.1 L427.0,571.9 L427.7,567.7 L428.4,559.5 L429.1,559.6 L429.8,545.5 L430.5,545.0 L431.2,520.0 L431.9,527.2 L432.6,515.2 L433.3,506.2 L434.0,517.3 L434.7,505.6 L435.4,491.4 L436.1,509.8 L436.8,497.9 L437.5,491.1 L438.2,495.6 L438.9,494.3 L439.6,493.3 L440.3,485.6 L441.0,489.0 L441.7,481.7 L442.4,480.4 L443.1,483.8 L443.8,486.3 L444.5,479.7 L445.2,494.8 L445.9,488.8 L446.6,480.0 L447.3,483.7 L448.0,506.8 L448.7,491.3 L449.4,495.2 L450.1,493.0 L450.8,498.7 L451.5,501.6 L452.2,497.6 L452.9,504.3 L453.6,497.0 L454.3,508.9 L455.0,503.1 L455.7,512.7 L456.4,501.8 L457.1,507.5 L457.8,505.7 L458.5,505.1 L459.2,507.4 L459.9,522.1 L460.6,508.0 L461.3,527.2 L462.0,518.3 L462.7,518.6 L463.4,515.4 L464.1,529.7 L464.8,528.5 L465.5,514.6 L466.2,518.7 L466.9,519.5 L467.6,534.5 L468.3,533.8 L469.0,531.0 L469.7,527.9 L470.4,534.4 L471.1,539.8 L471.8,543.5 L472.5,532.9 L473.2,535.6 L473.9,532.7 L474.6,542.9 L475.3,546.3 L476.0,551.6 L476.7,551.9 L477.4,544.3 L478.1,545.4 L478.8,543.7 L479.5,545.3 L480.2,553.5 L480.9,554.3 L481.6,550.1 L482.3,555.6 L483.0,559.2 L483.7,558.5 L484.4,562.2 L485.1,555.0 L485.8,563.5 L486.5,552.5 L487.2,560.0 L487.9,564.2 L488.6,562.0 L489.3,563.7 L490.0,565.6 L490.7,569.7 L491.4,566.8 L492.1,565.1 L492.8,569.8 L493.5,569.2 L494.2,569.8 L494.9,571.8 L495.6,570.3 L496.3,578.5 L497.0,571.8 L497.7,572.1 L498.4,573.8 L499.1,571.3 L499.8,577.8 L500.5,579.2 L501.2,574.5 L501.9,573.8 L502.6,583.5 L503.3,575.9 L504.0,576.8 L504.7,578.8 L505.4,577.1 L506.1,580.6 L506.8,575.6 L507.5,575.9 L508.2,579.3 L508.9,582.9 L509.6,583.2 L510.3,582.5 L511.0,584.1 L511.7,586.4 L512.4,583.6 L513.1,581.9 L513.8,581.8 L514.5,583.3 L515.2,586.8 L515.9,587.5 L516.6,584.7 L517.3,588.7 L518.0,585.0 L518.7,589.4 L519.4,582.6 L520.1,585.7 L520.8,589.3 L521.5,591.4 L522.2,588.5 L522.9,585.1 L523.6,587.2 L524.3,589.4 L525.0,589.0 L525.7,592.3 L526.4,590.0 L527.1,585.2 L527.8,589.9 L528.5,589.8 L529.2,585.3 L529.9,587.2 L530.6,587.4 L531.3,590.3 L532.0,590.1 L532.7,588.5 L533.4,589.8 L534.1,592.1 L534.8,591.9 L535.5,591.6 L536.2,592.2 L536.9,591.2 L537.6,593.8 L538.3,597.1 L539.0,591.9 L539.7,592.0 L540.4,594.3 L541.1,593.6 L541.8,596.4 L542.5,595.4 L543.2,592.7 L543.9,592.4 L544.6,590.9 L545.3,585.7 L546.0,579.8 L546.7,574.3 L547.4,573.8 L548.1,567.7 L548.8,563.4 L549.5,560.2 L550.2,551.5 L550.9,542.9 L551.6,539.2 L552.3,535.2 L553.0,532.5 L553.7,534.8 L554.4,528.1 L555.1,521.1 L555.8,530.3 L556.5,515.8 L557.2,518.7 L557.9,516.5 L558.6,518.7 L559.3,502.1 L560.0,514.7 L560.7,512.6 L561.4,515.8 L562.1,522.1 L562.8,524.9 L563.5,524.1 L564.2,511.7 L564.9,508.2 L565.6,523.5 L566.3,511.2 L567.0,519.2 L567.7,507.1 L568.4,519.5 L569.1,518.3 L569.8,509.6 L570.5,515.9 L571.2,514.3 L571.9,511.2 L572.6,521.9 L573.3,519.1 L574.0,520.3 L574.7,526.2 L575.4,516.3 L576.1,514.2 L576.8,521.4 L577.5,514.4 L578.2,517.0 L578.9,521.4 L579.6,527.3 L580.3,523.5 L581.0,526.3 L581.7,528.9 L582.4,528.0 L583.1,524.9 L583.8,527.6 L584.5,533.7 L585.2,530.1 L585.9,534.1 L586.6,526.7 L587.3,526.1 L588.0,535.5 L588.7,535.8 L589.4,533.7 L590.1,527.5 L590.8,544.7 L591.5,541.6 L592.2,536.9 L592.9,551.2 L593.6,542.5 L594.3,547.6 L595.0,543.1 L595.7,539.8 L596.4,542.6 L597.1,535.8 L597.8,550.7 L598.5,555.6 L599.2,548.9 L599.9,554.1 L600.6,549.7 L601.3,555.7 L602.0,560.2 L602.7,567.4 L603.4,559.4 L604.1,551.2 L604.8,560.8 L605.5,563.7 L606.2,565.2 L606.9,557.7 L607.6,565.3 L608.3,565.5 L609.0,567.6 L609.7,567.8 L610.4,566.9 L611.1,576.2 L611.8,574.4 L612.5,571.5 L613.2,570.0 L613.9,571.8 L614.6,568.5 L615.3,573.3 L616.0,579.7 L616.7,573.8 L617.4,573.2 L618.1,575.9 L618.8,580.1 L619.5,577.4 L620.2,578.4 L620.9,580.6 L621.6,578.9 L622.3,584.7 L623.0,581.9 L623.7,575.8 L624.4,580.3 L625.1,577.9 L625.8,580.4 L626.5,579.8 L627.2,579.7 L627.9,580.0 L628.6,571.7 L629.3,575.8 L630.0,575.6 L630.7,576.0 L631.4,574.1 L632.1,568.7 L632.8,575.5 L633.5,577.9 L634.2,574.0 L634.9,578.1 L635.6,583.4 L636.3,581.1 L637.0,582.0 L637.7,583.5 L638.4,586.2 L639.1,583.5 L639.8,586.8 L640.5,589.0 L641.2,589.6 L641.9,590.1 L642.6,591.1 L643.3,589.7 L644.0,592.8 L644.7,593.2 L645.4,594.0 L646.1,596.1 L646.8,598.3 L647.5,596.1 L648.2,598.5 L648.9,594.3 L649.6,591.0 L650.3,596.9 L651.0,596.1 L651.7,597.1 L652.4,597.9 L653.1,600.3 L653.8,600.8 L654.5,598.7 L655.2,599.2 L655.9,601.5 L656.6,598.5 L657.3,599.1 L658.0,598.8 L658.7,601.6 L659.4,600.7 L660.1,596.5 L660.8,601.5 L661.5,600.4 L662.2,600.1 L662.9,601.5 L663.6,592.6 L664.3,598.8 L665.0,600.2 L665.7,597.8 L666.4,596.1 L667.1,598.1 L667.8,599.3 L668.5,600.2 L669.2,600.3 L669.9,597.9 L670.6,601.2 L671.3,598.7 L672.0,600.9 L672.7,599.0 L673.4,599.2 L674.1,601.6 L674.8,600.9" fill="none" stroke="#7ad97a" stroke-width="1.0" stroke-linejoin="round"/>
<polyline points="196.2,493.6 264.8,493.6 325.1,384.1 385.5,493.6 445.8,384.1 506.2,493.6 566.5,384.1 626.9,493.6 675.8,493.6" fill="none" stroke="#6e6e6e" stroke-width="2.3" stroke-linejoin="miter"/>
</g>
<line x1="675.8" y1="373.0" x2="675.8" y2="603.1" stroke="#7c7c7c" stroke-width="2.3"/>
<line x1="669.3" y1="603.1" x2="675.8" y2="603.1" stroke="#7c7c7c" stroke-width="2.2"/>
<line x1="669.3" y1="559.3" x2="675.8" y2="559.3" stroke="#7c7c7c" stroke-width="2.2"/>
<line x1="669.3" y1="515.5" x2="675.8" y2="515.5" stroke="#7c7c7c" stroke-width="2.2"/>
<line x1="669.3" y1="471.7" x2="675.8" y2="471.7" stroke="#7c7c7c" stroke-width="2.2"/>
<line x1="669.3" y1="427.9" x2="675.8" y2="427.9" stroke="#7c7c7c" stroke-width="2.2"/>
<line x1="669.3" y1="384.1" x2="675.8" y2="384.1" stroke="#7c7c7c" stroke-width="2.2"/>
<line x1="672.3" y1="581.2" x2="675.8" y2="581.2" stroke="#7c7c7c" stroke-width="2.2"/>
<line x1="672.3" y1="537.4" x2="675.8" y2="537.4" stroke="#7c7c7c" stroke-width="2.2"/>
<line x1="672.3" y1="493.6" x2="675.8" y2="493.6" stroke="#7c7c7c" stroke-width="2.2"/>
<line x1="672.3" y1="449.8" x2="675.8" y2="449.8" stroke="#7c7c7c" stroke-width="2.2"/>
<line x1="672.3" y1="406.0" x2="675.8" y2="406.0" stroke="#7c7c7c" stroke-width="2.2"/>
<line x1="196.2" y1="371.75" x2="196.2" y2="604.35" stroke="#1c1c1c" stroke-width="2.9"/>
<line x1="189.2" y1="603.1" x2="196.2" y2="603.1" stroke="#1c1c1c" stroke-width="2.9"/>
<line x1="189.2" y1="541.1" x2="196.2" y2="541.1" stroke="#1c1c1c" stroke-width="2.9"/>
<line x1="189.2" y1="479.1" x2="196.2" y2="479.1" stroke="#1c1c1c" stroke-width="2.9"/>
<line x1="189.2" y1="417.1" x2="196.2" y2="417.1" stroke="#1c1c1c" stroke-width="2.9"/>
<line x1="192.7" y1="572.1" x2="196.2" y2="572.1" stroke="#1c1c1c" stroke-width="2.9"/>
<line x1="192.7" y1="510.1" x2="196.2" y2="510.1" stroke="#1c1c1c" stroke-width="2.9"/>
<line x1="192.7" y1="448.1" x2="196.2" y2="448.1" stroke="#1c1c1c" stroke-width="2.9"/>
<line x1="192.7" y1="386.1" x2="196.2" y2="386.1" stroke="#1c1c1c" stroke-width="2.9"/>
<line x1="196.2" y1="373.0" x2="676.8" y2="373.0" stroke="#1c1c1c" stroke-width="2.9"/>
<line x1="196.2" y1="603.1" x2="676.8" y2="603.1" stroke="#1c1c1c" stroke-width="2.9"/>
<line x1="289.8" y1="603.1" x2="289.8" y2="608.6" stroke="#1c1c1c" stroke-width="2.9"/>
<line x1="410.5" y1="603.1" x2="410.5" y2="608.6" stroke="#1c1c1c" stroke-width="2.9"/>
<line x1="531.2" y1="603.1" x2="531.2" y2="608.6" stroke="#1c1c1c" stroke-width="2.9"/>
<line x1="651.9" y1="603.1" x2="651.9" y2="608.6" stroke="#1c1c1c" stroke-width="2.9"/>
<line x1="229.5" y1="603.1" x2="229.5" y2="606.1" stroke="#1c1c1c" stroke-width="2.9"/>
<line x1="350.2" y1="603.1" x2="350.2" y2="606.1" stroke="#1c1c1c" stroke-width="2.9"/>
<line x1="470.9" y1="603.1" x2="470.9" y2="606.1" stroke="#1c1c1c" stroke-width="2.9"/>
<line x1="591.5" y1="603.1" x2="591.5" y2="606.1" stroke="#1c1c1c" stroke-width="2.9"/>
<text x="289.8" y="630.4" font-size="22" text-anchor="middle" fill="#0a0a0a" stroke="#0a0a0a" stroke-width="0.35" font-weight="normal" >600</text>
<text x="410.5" y="630.4" font-size="22" text-anchor="middle" fill="#0a0a0a" stroke="#0a0a0a" stroke-width="0.35" font-weight="normal" >800</text>
<text x="531.2" y="630.4" font-size="22" text-anchor="middle" fill="#0a0a0a" stroke="#0a0a0a" stroke-width="0.35" font-weight="normal" >1000</text>
<text x="651.9" y="630.4" font-size="22" text-anchor="middle" fill="#0a0a0a" stroke="#0a0a0a" stroke-width="0.35" font-weight="normal" >1200</text>
<text x="436.0" y="664.7" font-size="22" text-anchor="middle" fill="#0a0a0a" stroke="#0a0a0a" stroke-width="0.35" font-weight="normal" >Time / s</text>
<text x="183.5" y="610.0" font-size="22" text-anchor="end" fill="#0a0a0a" stroke="#0a0a0a" stroke-width="0.35" font-weight="normal" >0.00</text>
<text x="183.5" y="548.0" font-size="22" text-anchor="end" fill="#0a0a0a" stroke="#0a0a0a" stroke-width="0.35" font-weight="normal" >0.04</text>
<text x="183.5" y="486.0" font-size="22" text-anchor="end" fill="#0a0a0a" stroke="#0a0a0a" stroke-width="0.35" font-weight="normal" >0.08</text>
<text x="183.5" y="424.0" font-size="22" text-anchor="end" fill="#0a0a0a" stroke="#0a0a0a" stroke-width="0.35" font-weight="normal" >0.12</text>
<g clip-path="url(#clipbLb)">
<path d="M197.3,597.6 L199.1,597.6 L201.4,597.7 L204.3,597.8 L207.5,597.8 L210.8,597.7 L214.3,597.6 L218.1,597.3 L222.2,597.0 L226.7,596.6 L231.0,596.1 L235.1,595.6 L238.7,595.2 L241.7,594.8 L244.2,594.3 L246.5,593.8 L248.6,593.4 L250.8,593.0 L253.3,592.7 L256.1,592.6 L259.0,592.6 L262.0,592.8 L264.9,592.9 L267.7,592.9 L270.3,592.7 L272.6,592.4 L274.8,591.9 L276.9,591.4 L278.8,590.7 L280.7,590.0 L282.5,589.1 L284.3,588.1 L285.9,587.0 L287.5,585.8 L289.1,584.6 L290.6,583.2 L292.2,581.8 L293.9,580.3 L295.6,578.7 L297.2,577.0 L298.9,575.3 L300.5,573.6 L302.0,572.0 L303.4,570.4 L304.7,568.8 L305.9,567.3 L307.0,565.8 L308.2,564.5 L309.3,563.5 L310.4,562.7 L311.4,562.0 L312.4,561.5 L313.3,561.2 L314.3,561.1 L315.4,561.1 L316.5,561.3 L317.7,561.5 L318.9,562.0 L320.1,562.6 L321.4,563.5 L322.7,564.7 L324.0,566.2 L325.4,568.2 L326.8,570.3 L328.2,572.6 L329.7,574.8 L331.2,576.9 L332.7,578.9 L334.2,580.9 L335.7,582.9 L337.3,584.8 L339.0,586.5 L340.9,587.9 L343.1,589.0 L345.5,589.8 L348.0,590.4 L350.6,590.8 L353.1,591.2 L355.5,591.5 L357.7,591.8 L359.8,592.0 L361.9,592.2 L363.9,592.2 L365.8,592.1 L367.7,592.0 L369.5,591.8 L371.1,591.4 L372.7,591.0 L374.3,590.5 L375.8,589.9 L377.4,589.1 L379.0,588.1 L380.7,586.9 L382.4,585.6 L384.0,584.3 L385.6,583.0 L387.2,581.8 L388.7,580.6 L390.2,579.4 L391.7,578.2 L393.1,577.1 L394.4,576.3 L395.7,575.7 L396.8,575.4 L397.9,575.3 L398.8,575.5 L399.8,575.8 L400.7,576.3 L401.8,576.9 L402.9,577.8 L404.1,578.9 L405.2,580.2 L406.4,581.6 L407.7,583.0 L409.1,584.2 L410.6,585.4 L412.1,586.6 L413.7,587.8 L415.4,588.9 L417.1,589.7 L418.8,590.3 L420.6,590.5 L422.5,590.3 L424.4,590.0 L426.3,589.5 L428.2,589.2 L430.0,589.0 L431.6,589.1 L433.2,589.2 L434.6,589.4 L436.2,589.7 L437.8,590.0 L439.7,590.3 L441.7,590.6 L443.8,591.1 L446.1,591.5 L448.5,591.9 L451.2,592.4 L454.3,592.7 L457.9,593.0 L462.1,593.4 L466.5,593.7 L470.9,594.0 L475.1,594.1 L478.7,594.0 L481.7,593.7 L484.3,593.2 L486.6,592.6 L488.8,591.9 L491.0,591.1 L493.3,590.3 L495.8,589.4 L498.3,588.3 L500.8,587.2 L503.2,586.1 L505.6,585.1 L507.9,584.2 L510.1,583.5 L512.1,582.7 L514.2,582.1 L516.1,581.6 L518.1,581.3 L520.1,581.3 L522.1,581.6 L524.1,582.2 L526.2,582.9 L528.2,583.8 L530.2,584.7 L532.2,585.4 L534.2,586.0 L536.2,586.7 L538.1,587.3 L540.2,587.9 L542.2,588.5 L544.4,589.1 L546.7,589.6 L549.0,590.2 L551.4,590.7 L553.9,591.2 L556.4,591.6 L559.0,592.0 L561.6,592.4 L564.2,592.7 L566.9,593.0 L569.8,593.2 L572.8,593.4 L576.1,593.5 L579.8,593.5 L584.0,593.5 L588.4,593.3 L592.8,593.2 L596.8,593.0 L600.4,592.7 L603.5,592.4 L606.2,592.2 L608.6,591.8 L610.9,591.4 L613.0,590.9 L615.0,590.3 L616.9,589.5 L618.7,588.5 L620.4,587.4 L621.9,586.3 L623.3,585.2 L624.7,584.2 L625.9,583.2 L627.0,582.2 L628.0,581.2 L628.9,580.3 L629.8,579.7 L630.8,579.3 L631.8,579.3 L632.8,579.5 L633.8,580.0 L634.8,580.6 L635.8,581.2 L636.9,581.8 L638.0,582.4 L639.1,583.1 L640.2,583.8 L641.4,584.5 L642.7,585.1 L644.2,585.4 L646.0,585.4 L648.0,585.2 L650.2,584.9 L652.3,584.5 L654.5,584.2 L656.4,584.2 L658.2,584.4 L659.9,584.7 L661.5,585.2 L663.1,585.6 L664.6,586.2 L666.1,586.7 L667.7,587.3 L669.3,588.0 L670.9,588.7 L672.3,589.3 L673.5,589.9 L674.4,590.3" fill="none" stroke="#f28a26" stroke-width="2.6" stroke-linejoin="round" stroke-linecap="round"/>
<path d="M197.3,600.0 L200.4,599.8 L204.6,599.6 L209.6,599.3 L215.1,599.1 L220.9,598.9 L226.5,598.8 L232.3,598.9 L238.6,599.1 L245.1,599.3 L251.5,599.6 L257.5,599.8 L263.0,600.0 L267.9,600.1 L272.6,600.2 L276.9,600.3 L280.8,600.3 L284.3,600.2 L287.4,600.0 L289.9,599.7 L291.9,599.4 L293.4,599.0 L294.7,598.4 L295.9,597.5 L297.1,596.4 L298.4,595.1 L299.5,593.7 L300.5,592.0 L301.5,590.0 L302.4,587.5 L303.2,584.2 L303.9,580.3 L304.6,576.0 L305.1,571.1 L305.7,565.7 L306.2,559.5 L306.8,552.6 L307.4,544.6 L308.0,535.4 L308.7,525.5 L309.3,515.5 L309.9,505.7 L310.5,496.6 L311.1,488.1 L311.7,479.6 L312.3,471.5 L312.9,463.7 L313.5,456.6 L314.1,450.3 L314.7,444.8 L315.3,439.9 L315.9,435.6 L316.5,431.9 L317.1,428.7 L317.8,426.0 L318.5,423.8 L319.2,422.2 L320.0,421.0 L320.7,420.4 L321.5,420.0 L322.2,419.9 L322.9,420.1 L323.6,420.6 L324.4,421.5 L325.1,422.7 L325.7,424.2 L326.3,426.0 L326.8,428.1 L327.1,430.6 L327.5,433.4 L327.8,436.3 L328.3,439.4 L328.9,442.6 L329.7,445.9 L330.8,449.3 L331.9,452.9 L333.0,456.6 L334.2,460.2 L335.3,463.8 L336.4,467.3 L337.4,470.9 L338.5,474.4 L339.6,478.0 L340.6,481.5 L341.7,485.1 L342.8,488.7 L343.8,492.4 L344.9,496.0 L346.0,499.6 L347.0,503.1 L348.1,506.4 L349.2,509.5 L350.2,512.5 L351.3,515.3 L352.4,518.0 L353.4,520.7 L354.5,523.4 L355.6,526.1 L356.6,528.7 L357.7,531.2 L358.8,533.7 L359.8,536.1 L360.9,538.3 L362.0,540.3 L363.0,542.2 L364.0,544.0 L365.1,545.7 L366.1,547.3 L367.2,548.9 L368.3,550.5 L369.3,552.0 L370.4,553.4 L371.5,554.8 L372.5,556.1 L373.6,557.4 L374.6,558.5 L375.5,559.5 L376.5,560.4 L377.5,561.4 L378.6,562.5 L380.0,563.8 L381.7,565.4 L383.6,567.3 L385.6,569.3 L387.8,571.4 L389.9,573.5 L392.0,575.5 L394.0,577.5 L396.1,579.6 L398.2,581.6 L400.3,583.5 L402.3,585.3 L404.2,586.7 L406.0,587.8 L407.7,588.6 L409.4,589.1 L411.0,589.6 L412.5,589.9 L414.0,590.3 L415.4,590.7 L416.8,591.2 L418.0,591.6 L419.2,591.8 L420.3,591.8 L421.3,591.5 L422.1,591.0 L422.8,590.3 L423.3,589.4 L423.8,588.2 L424.3,586.5 L424.9,584.2 L425.5,581.3 L426.1,577.9 L426.7,574.0 L427.4,569.7 L428.0,565.0 L428.6,559.9 L429.2,554.1 L429.8,547.4 L430.4,540.2 L431.0,533.2 L431.6,526.6 L432.2,520.9 L432.8,516.1 L433.5,511.9 L434.1,508.1 L434.7,504.7 L435.3,501.7 L435.9,499.0 L436.4,496.6 L436.8,494.8 L437.2,493.2 L437.6,491.9 L438.0,490.7 L438.5,489.5 L439.0,488.3 L439.6,487.1 L440.2,486.1 L440.8,485.2 L441.5,484.6 L442.2,484.4 L442.9,484.5 L443.6,484.9 L444.4,485.6 L445.2,486.6 L446.0,487.8 L447.0,489.3 L448.0,491.1 L449.2,493.3 L450.3,495.7 L451.6,498.3 L452.9,501.1 L454.3,503.9 L455.8,506.9 L457.4,510.1 L459.1,513.5 L460.7,516.9 L462.4,520.2 L464.1,523.4 L465.7,526.4 L467.3,529.3 L468.9,532.1 L470.6,534.8 L472.2,537.6 L473.8,540.4 L475.4,543.3 L477.0,546.2 L478.6,549.0 L480.2,551.9 L481.8,554.7 L483.6,557.4 L485.5,560.0 L487.5,562.7 L489.5,565.2 L491.6,567.7 L493.7,569.9 L495.7,572.0 L497.7,573.8 L499.8,575.4 L501.8,576.8 L503.8,578.1 L505.9,579.4 L507.9,580.6 L509.9,581.8 L512.0,582.9 L514.0,583.9 L516.0,584.9 L518.1,585.8 L520.1,586.7 L522.2,587.6 L524.3,588.5 L526.4,589.3 L528.4,590.1 L530.4,590.8 L532.2,591.5 L533.9,592.1 L535.5,592.7 L537.0,593.3 L538.4,593.7 L539.7,594.0 L540.8,594.0 L541.7,593.9 L542.4,593.9 L542.9,593.6 L543.4,593.0 L543.9,592.0 L544.4,590.3 L545.0,587.9 L545.6,585.0 L546.2,581.5 L546.9,577.8 L547.5,573.7 L548.1,569.6 L548.7,565.1 L549.3,560.2 L549.8,555.1 L550.4,549.9 L551.0,544.9 L551.7,540.4 L552.4,536.1 L553.2,532.0 L554.1,528.0 L554.9,524.4 L555.8,521.2 L556.6,518.5 L557.4,516.4 L558.1,514.9 L558.9,513.8 L559.7,513.0 L560.5,512.6 L561.5,512.4 L562.6,512.6 L563.8,513.4 L565.0,514.4 L566.3,515.5 L567.6,516.6 L568.8,517.3 L570.0,517.6 L571.2,517.7 L572.4,517.7 L573.7,517.8 L574.9,518.0 L576.1,518.5 L577.3,519.3 L578.4,520.2 L579.6,521.3 L580.8,522.6 L582.0,524.1 L583.4,525.8 L584.9,527.8 L586.5,530.0 L588.1,532.5 L589.8,535.1 L591.5,537.7 L593.1,540.4 L594.7,543.1 L596.3,546.0 L597.9,548.9 L599.6,551.8 L601.2,554.7 L602.8,557.4 L604.4,560.0 L606.1,562.7 L607.7,565.2 L609.3,567.7 L611.0,569.9 L612.6,572.0 L614.3,573.9 L616.0,575.8 L617.7,577.4 L619.3,578.9 L620.9,579.9 L622.3,580.6 L623.5,580.7 L624.6,580.2 L625.6,579.4 L626.6,578.4 L627.5,577.5 L628.4,576.9 L629.3,576.4 L630.1,576.0 L630.9,575.5 L631.7,575.3 L632.5,575.3 L633.3,575.7 L634.1,576.5 L634.9,577.8 L635.6,579.3 L636.4,580.9 L637.2,582.6 L638.1,584.2 L639.0,585.8 L639.9,587.6 L640.8,589.3 L641.8,591.1 L643.0,592.6 L644.2,594.0 L645.6,595.1 L647.2,596.1 L648.9,596.9 L650.6,597.7 L652.3,598.3 L654.0,598.8 L655.6,599.2 L657.2,599.6 L658.8,599.8 L660.4,599.9 L662.0,600.0 L663.7,600.0 L665.5,599.9 L667.6,599.7 L669.7,599.5 L671.6,599.2 L673.2,599.0 L674.4,598.8" fill="none" stroke="#2bbf3f" stroke-width="2.8" stroke-linejoin="round" stroke-linecap="round"/>
</g>
<clipPath id="clipRb"><rect x="727.5" y="375.59999999999997" width="477.50000000000006" height="227.50000000000006"/></clipPath>
<clipPath id="clipbRb"><rect x="727.5" y="375.59999999999997" width="477.50000000000006" height="230.20000000000005"/></clipPath>
<g clip-path="url(#clipRb)">
<path d="M726.8,593.7 L727.5,597.9 L728.2,590.1 L728.9,599.0 L729.6,597.4 L730.3,599.8 L731.0,597.8 L731.7,592.7 L732.4,597.0 L733.1,597.2 L733.8,597.3 L734.5,594.6 L735.2,587.1 L735.9,602.4 L736.6,596.3 L737.3,594.5 L738.0,592.9 L738.7,602.5 L739.4,599.9 L740.1,591.3 L740.8,586.7 L741.5,602.5 L742.2,594.5 L742.9,594.8 L743.6,601.6 L744.3,594.3 L745.0,597.8 L745.7,600.8 L746.4,602.5 L747.1,597.2 L747.8,590.4 L748.5,599.4 L749.2,595.9 L749.9,577.8 L750.6,597.7 L751.3,591.1 L752.0,595.0 L752.7,600.0 L753.4,584.7 L754.1,596.8 L754.8,598.0 L755.5,599.1 L756.2,597.1 L756.9,598.5 L757.6,602.0 L758.3,599.6 L759.0,597.4 L759.7,600.9 L760.4,598.0 L761.1,594.0 L761.8,600.0 L762.5,602.4 L763.2,599.1 L763.9,601.3 L764.6,596.5 L765.3,595.9 L766.0,597.0 L766.7,596.1 L767.4,598.2 L768.1,599.3 L768.8,593.2 L769.5,597.1 L770.2,599.5 L770.9,597.6 L771.6,601.7 L772.3,602.2 L773.0,592.4 L773.7,596.7 L774.4,598.9 L775.1,592.7 L775.8,602.5 L776.5,578.8 L777.2,601.1 L777.9,600.3 L778.6,590.8 L779.3,593.8 L780.0,597.6 L780.7,601.3 L781.4,597.7 L782.1,598.2 L782.8,593.5 L783.5,598.1 L784.2,602.3 L784.9,596.6 L785.6,595.7 L786.3,600.8 L787.0,598.1 L787.7,600.3 L788.4,602.4 L789.1,597.5 L789.8,602.3 L790.5,581.5 L791.2,595.4 L791.9,602.6 L792.6,600.6 L793.3,596.5 L794.0,601.6 L794.7,592.6 L795.4,600.0 L796.1,590.7 L796.8,599.4 L797.5,600.5 L798.2,594.1 L798.9,596.3 L799.6,601.2 L800.3,601.0 L801.0,601.7 L801.7,595.5 L802.4,593.2 L803.1,595.1 L803.8,589.9 L804.5,590.7 L805.2,598.7 L805.9,595.3 L806.6,595.3 L807.3,591.5 L808.0,588.1 L808.7,592.4 L809.4,578.4 L810.1,584.2 L810.8,593.8 L811.5,586.0 L812.2,586.5 L812.9,583.3 L813.6,588.8 L814.3,584.7 L815.0,580.1 L815.7,582.7 L816.4,592.0 L817.1,585.9 L817.8,581.9 L818.5,583.6 L819.2,580.2 L819.9,575.4 L820.6,579.8 L821.3,580.1 L822.0,587.9 L822.7,577.9 L823.4,569.7 L824.1,570.4 L824.8,579.3 L825.5,561.9 L826.2,577.4 L826.9,565.2 L827.6,565.2 L828.3,560.6 L829.0,575.6 L829.7,563.4 L830.4,564.8 L831.1,565.8 L831.8,570.3 L832.5,559.3 L833.2,570.3 L833.9,560.3 L834.6,562.8 L835.3,562.9 L836.0,566.8 L836.7,551.6 L837.4,571.3 L838.1,555.1 L838.8,558.4 L839.5,557.9 L840.2,561.2 L840.9,566.8 L841.6,542.7 L842.3,565.2 L843.0,559.3 L843.7,552.7 L844.4,559.1 L845.1,558.4 L845.8,538.1 L846.5,556.1 L847.2,553.9 L847.9,552.9 L848.6,557.3 L849.3,559.8 L850.0,546.5 L850.7,553.1 L851.4,555.7 L852.1,565.6 L852.8,566.0 L853.5,562.7 L854.2,568.7 L854.9,554.5 L855.6,569.9 L856.3,567.9 L857.0,558.5 L857.7,577.7 L858.4,557.2 L859.1,558.2 L859.8,556.3 L860.5,558.8 L861.2,548.9 L861.9,569.9 L862.6,563.0 L863.3,566.0 L864.0,576.6 L864.7,560.0 L865.4,575.9 L866.1,561.7 L866.8,564.6 L867.5,559.3 L868.2,564.3 L868.9,561.7 L869.6,580.2 L870.3,572.4 L871.0,568.7 L871.7,574.7 L872.4,575.6 L873.1,580.4 L873.8,573.1 L874.5,580.4 L875.2,580.8 L875.9,578.7 L876.6,573.9 L877.3,579.3 L878.0,584.7 L878.7,584.3 L879.4,586.4 L880.1,580.7 L880.8,579.8 L881.5,590.5 L882.2,580.0 L882.9,580.7 L883.6,581.9 L884.3,584.1 L885.0,591.6 L885.7,580.9 L886.4,589.6 L887.1,587.1 L887.8,589.1 L888.5,588.8 L889.2,589.7 L889.9,587.8 L890.6,595.2 L891.3,593.9 L892.0,591.6 L892.7,590.0 L893.4,585.0 L894.1,592.3 L894.8,593.7 L895.5,584.8 L896.2,588.7 L896.9,591.6 L897.6,593.2 L898.3,570.2 L899.0,589.6 L899.7,594.0 L900.4,586.8 L901.1,588.0 L901.8,590.6 L902.5,592.5 L903.2,586.8 L903.9,595.8 L904.6,591.0 L905.3,596.6 L906.0,575.2 L906.7,569.4 L907.4,587.3 L908.1,587.9 L908.8,584.9 L909.5,584.6 L910.2,582.8 L910.9,585.6 L911.6,583.5 L912.3,588.2 L913.0,577.7 L913.7,574.2 L914.4,584.6 L915.1,582.6 L915.8,581.2 L916.5,583.3 L917.2,590.2 L917.9,590.8 L918.6,579.1 L919.3,581.7 L920.0,573.9 L920.7,580.6 L921.4,579.9 L922.1,582.7 L922.8,583.7 L923.5,580.4 L924.2,588.9 L924.9,587.2 L925.6,587.3 L926.3,583.6 L927.0,573.6 L927.7,585.9 L928.4,585.2 L929.1,589.9 L929.8,592.0 L930.5,580.7 L931.2,585.5 L931.9,587.3 L932.6,590.4 L933.3,595.5 L934.0,582.9 L934.7,586.8 L935.4,596.6 L936.1,594.9 L936.8,585.3 L937.5,596.8 L938.2,593.0 L938.9,593.8 L939.6,597.4 L940.3,597.4 L941.0,595.3 L941.7,593.4 L942.4,593.5 L943.1,593.7 L943.8,598.0 L944.5,595.4 L945.2,593.3 L945.9,599.2 L946.6,597.8 L947.3,602.1 L948.0,594.4 L948.7,594.2 L949.4,602.2 L950.1,595.0 L950.8,602.5 L951.5,592.8 L952.2,599.8 L952.9,595.5 L953.6,601.1 L954.3,600.3 L955.0,602.4 L955.7,600.7 L956.4,601.0 L957.1,597.2 L957.8,597.6 L958.5,600.6 L959.2,602.5 L959.9,596.5 L960.6,593.9 L961.3,600.3 L962.0,600.0 L962.7,601.2 L963.4,601.6 L964.1,600.7 L964.8,602.4 L965.5,595.3 L966.2,602.3 L966.9,601.6 L967.6,602.4 L968.3,597.4 L969.0,601.6 L969.7,596.2 L970.4,602.5 L971.1,602.3 L971.8,599.1 L972.5,601.7 L973.2,594.2 L973.9,600.9 L974.6,599.0 L975.3,594.6 L976.0,599.8 L976.7,594.7 L977.4,598.8 L978.1,593.5 L978.8,600.1 L979.5,602.4 L980.2,596.6 L980.9,597.2 L981.6,601.9 L982.3,597.5 L983.0,594.8 L983.7,599.2 L984.4,601.8 L985.1,598.7 L985.8,595.8 L986.5,599.4 L987.2,596.1 L987.9,594.8 L988.6,600.0 L989.3,594.2 L990.0,600.8 L990.7,594.8 L991.4,597.3 L992.1,592.9 L992.8,597.5 L993.5,595.2 L994.2,602.4 L994.9,602.3 L995.6,602.3 L996.3,596.8 L997.0,596.1 L997.7,601.9 L998.4,598.3 L999.1,602.3 L999.8,596.4 L1000.5,602.4 L1001.2,598.4 L1001.9,598.5 L1002.6,599.5 L1003.3,595.5 L1004.0,602.6 L1004.7,602.4 L1005.4,595.2 L1006.1,596.1 L1006.8,601.4 L1007.5,601.4 L1008.2,595.5 L1008.9,601.7 L1009.6,594.8 L1010.3,602.0 L1011.0,594.2 L1011.7,579.8 L1012.4,599.3 L1013.1,600.0 L1013.8,585.2 L1014.5,598.5 L1015.2,602.0 L1015.9,593.9 L1016.6,593.7 L1017.3,600.2 L1018.0,598.3 L1018.7,595.8 L1019.4,596.3 L1020.1,599.1 L1020.8,596.8 L1021.5,602.1 L1022.2,590.5 L1022.9,597.7 L1023.6,600.0 L1024.3,598.6 L1025.0,593.1 L1025.7,597.4 L1026.4,599.4 L1027.1,593.3 L1027.8,595.4 L1028.5,590.8 L1029.2,590.4 L1029.9,593.1 L1030.6,590.4 L1031.3,585.9 L1032.0,585.9 L1032.7,593.5 L1033.4,589.4 L1034.1,589.7 L1034.8,587.0 L1035.5,588.8 L1036.2,586.4 L1036.9,591.1 L1037.6,592.8 L1038.3,586.9 L1039.0,587.2 L1039.7,585.7 L1040.4,591.1 L1041.1,586.5 L1041.8,596.2 L1042.5,585.5 L1043.2,588.1 L1043.9,589.8 L1044.6,593.0 L1045.3,587.4 L1046.0,584.7 L1046.7,584.2 L1047.4,586.9 L1048.1,590.3 L1048.8,589.8 L1049.5,583.7 L1050.2,591.0 L1050.9,590.3 L1051.6,589.2 L1052.3,591.0 L1053.0,590.3 L1053.7,579.6 L1054.4,594.5 L1055.1,590.1 L1055.8,573.7 L1056.5,585.8 L1057.2,590.4 L1057.9,590.8 L1058.6,583.2 L1059.3,589.4 L1060.0,589.4 L1060.7,573.1 L1061.4,599.5 L1062.1,601.0 L1062.8,592.4 L1063.5,594.0 L1064.2,593.1 L1064.9,600.6 L1065.6,595.7 L1066.3,595.6 L1067.0,592.8 L1067.7,597.5 L1068.4,598.9 L1069.1,595.7 L1069.8,602.6 L1070.5,597.3 L1071.2,593.5 L1071.9,595.4 L1072.6,594.3 L1073.3,598.4 L1074.0,600.1 L1074.7,599.2 L1075.4,599.8 L1076.1,599.5 L1076.8,602.5 L1077.5,598.3 L1078.2,588.8 L1078.9,600.1 L1079.6,600.1 L1080.3,602.5 L1081.0,601.3 L1081.7,594.7 L1082.4,602.3 L1083.1,602.2 L1083.8,602.3 L1084.5,597.0 L1085.2,594.1 L1085.9,584.2 L1086.6,602.5 L1087.3,594.0 L1088.0,595.5 L1088.7,597.0 L1089.4,599.8 L1090.1,599.0 L1090.8,596.8 L1091.5,574.9 L1092.2,598.3 L1092.9,598.3 L1093.6,600.1 L1094.3,602.6 L1095.0,602.5 L1095.7,601.8 L1096.4,598.6 L1097.1,597.4 L1097.8,598.3 L1098.5,600.2 L1099.2,596.5 L1099.9,600.9 L1100.6,600.6 L1101.3,602.5 L1102.0,596.6 L1102.7,596.4 L1103.4,598.3 L1104.1,593.8 L1104.8,602.1 L1105.5,602.5 L1106.2,598.7 L1106.9,602.4 L1107.6,600.6 L1108.3,598.0 L1109.0,598.0 L1109.7,601.5 L1110.4,598.9 L1111.1,597.9 L1111.8,600.7 L1112.5,598.0 L1113.2,602.4 L1113.9,595.9 L1114.6,601.0 L1115.3,593.7 L1116.0,574.3 L1116.7,592.3 L1117.4,601.4 L1118.1,599.3 L1118.8,597.8 L1119.5,599.4 L1120.2,597.0 L1120.9,602.3 L1121.6,599.8 L1122.3,601.5 L1123.0,598.1 L1123.7,595.7 L1124.4,593.6 L1125.1,592.7 L1125.8,596.4 L1126.5,593.2 L1127.2,597.6 L1127.9,595.2 L1128.6,597.4 L1129.3,599.2 L1130.0,598.7 L1130.7,597.6 L1131.4,602.3 L1132.1,602.4 L1132.8,601.5 L1133.5,602.6 L1134.2,595.7 L1134.9,597.5 L1135.6,594.5 L1136.3,596.5 L1137.0,602.4 L1137.7,592.0 L1138.4,588.4 L1139.1,587.9 L1139.8,598.5 L1140.5,594.9 L1141.2,592.5 L1141.9,601.5 L1142.6,597.3 L1143.3,596.0 L1144.0,589.3 L1144.7,598.0 L1145.4,598.6 L1146.1,597.7 L1146.8,588.8 L1147.5,596.1 L1148.2,589.8 L1148.9,595.0 L1149.6,589.9 L1150.3,587.4 L1151.0,584.2 L1151.7,589.4 L1152.4,586.7 L1153.1,598.0 L1153.8,589.9 L1154.5,588.5 L1155.2,588.6 L1155.9,588.2 L1156.6,587.3 L1157.3,577.2 L1158.0,596.8 L1158.7,593.7 L1159.4,586.9 L1160.1,584.4 L1160.8,592.3 L1161.5,584.1 L1162.2,584.1 L1162.9,587.6 L1163.6,588.7 L1164.3,591.8 L1165.0,585.5 L1165.7,583.7 L1166.4,587.4 L1167.1,584.8 L1167.8,580.1 L1168.5,585.9 L1169.2,583.1 L1169.9,572.5 L1170.6,585.6 L1171.3,590.8 L1172.0,578.9 L1172.7,588.9 L1173.4,588.0 L1174.1,587.8 L1174.8,590.5 L1175.5,592.5 L1176.2,587.0 L1176.9,585.6 L1177.6,584.9 L1178.3,589.9 L1179.0,585.5 L1179.7,590.6 L1180.4,587.9 L1181.1,581.8 L1181.8,586.3 L1182.5,587.3 L1183.2,581.9 L1183.9,589.6 L1184.6,585.7 L1185.3,588.9 L1186.0,589.4 L1186.7,585.7 L1187.4,584.6 L1188.1,583.6 L1188.8,588.0 L1189.5,576.7 L1190.2,597.6 L1190.9,587.8 L1191.6,584.0 L1192.3,586.4 L1193.0,583.4 L1193.7,586.2 L1194.4,585.8 L1195.1,595.9 L1195.8,580.7 L1196.5,584.0 L1197.2,591.9 L1197.9,584.6 L1198.6,592.8 L1199.3,585.5 L1200.0,596.6 L1200.7,591.5 L1201.4,593.1 L1202.1,591.9 L1202.8,590.1 L1203.5,590.0 L1204.2,591.6 L1204.9,586.7" fill="none" stroke="#fcbf86" stroke-width="1.0" stroke-linejoin="round"/>
<path d="M726.8,601.8 L727.5,599.8 L728.2,600.0 L728.9,602.5 L729.6,599.3 L730.3,599.7 L731.0,599.5 L731.7,591.6 L732.4,599.4 L733.1,597.7 L733.8,599.5 L734.5,599.7 L735.2,597.3 L735.9,599.4 L736.6,601.7 L737.3,599.5 L738.0,599.6 L738.7,601.2 L739.4,602.5 L740.1,599.8 L740.8,602.6 L741.5,599.6 L742.2,601.9 L742.9,598.6 L743.6,600.2 L744.3,597.3 L745.0,596.5 L745.7,601.6 L746.4,598.9 L747.1,597.9 L747.8,598.9 L748.5,599.7 L749.2,601.3 L749.9,598.8 L750.6,599.1 L751.3,601.8 L752.0,600.9 L752.7,600.2 L753.4,598.4 L754.1,602.3 L754.8,602.6 L755.5,601.2 L756.2,598.2 L756.9,600.0 L757.6,600.4 L758.3,602.5 L759.0,601.4 L759.7,600.0 L760.4,599.3 L761.1,599.2 L761.8,601.3 L762.5,602.3 L763.2,601.0 L763.9,599.3 L764.6,602.1 L765.3,600.1 L766.0,597.5 L766.7,601.0 L767.4,600.4 L768.1,599.7 L768.8,600.8 L769.5,602.5 L770.2,600.8 L770.9,600.0 L771.6,598.7 L772.3,600.7 L773.0,599.8 L773.7,599.4 L774.4,601.0 L775.1,601.7 L775.8,599.3 L776.5,602.3 L777.2,599.4 L777.9,598.4 L778.6,594.5 L779.3,602.3 L780.0,602.5 L780.7,598.5 L781.4,600.8 L782.1,601.3 L782.8,600.3 L783.5,599.3 L784.2,596.2 L784.9,600.6 L785.6,602.3 L786.3,602.6 L787.0,600.3 L787.7,600.8 L788.4,600.8 L789.1,600.9 L789.8,602.1 L790.5,599.8 L791.2,600.8 L791.9,602.5 L792.6,597.7 L793.3,601.4 L794.0,601.2 L794.7,600.1 L795.4,597.3 L796.1,601.4 L796.8,602.1 L797.5,600.4 L798.2,599.7 L798.9,601.1 L799.6,601.5 L800.3,600.6 L801.0,602.2 L801.7,600.9 L802.4,602.2 L803.1,601.4 L803.8,602.0 L804.5,600.9 L805.2,599.7 L805.9,601.0 L806.6,601.5 L807.3,598.8 L808.0,600.9 L808.7,597.6 L809.4,599.6 L810.1,600.4 L810.8,602.3 L811.5,599.6 L812.2,601.8 L812.9,601.9 L813.6,600.5 L814.3,598.2 L815.0,598.2 L815.7,601.5 L816.4,598.6 L817.1,601.9 L817.8,601.4 L818.5,598.7 L819.2,600.1 L819.9,599.0 L820.6,598.6 L821.3,596.5 L822.0,598.4 L822.7,597.7 L823.4,598.8 L824.1,598.8 L824.8,596.8 L825.5,596.4 L826.2,594.6 L826.9,597.9 L827.6,598.2 L828.3,599.3 L829.0,597.1 L829.7,595.5 L830.4,598.7 L831.1,597.1 L831.8,596.1 L832.5,594.9 L833.2,597.4 L833.9,579.8 L834.6,596.1 L835.3,595.0 L836.0,597.8 L836.7,597.2 L837.4,591.3 L838.1,595.8 L838.8,595.6 L839.5,592.5 L840.2,597.5 L840.9,589.0 L841.6,592.7 L842.3,596.3 L843.0,589.8 L843.7,590.1 L844.4,587.9 L845.1,589.4 L845.8,591.2 L846.5,588.5 L847.2,587.2 L847.9,590.0 L848.6,588.8 L849.3,585.3 L850.0,585.4 L850.7,581.2 L851.4,588.5 L852.1,581.6 L852.8,585.1 L853.5,579.5 L854.2,584.9 L854.9,580.9 L855.6,581.0 L856.3,581.0 L857.0,583.5 L857.7,582.6 L858.4,578.9 L859.1,578.9 L859.8,580.1 L860.5,580.0 L861.2,578.2 L861.9,578.1 L862.6,571.1 L863.3,574.1 L864.0,574.6 L864.7,577.3 L865.4,579.1 L866.1,579.0 L866.8,575.4 L867.5,575.3 L868.2,584.4 L868.9,577.1 L869.6,575.5 L870.3,576.8 L871.0,575.4 L871.7,579.1 L872.4,576.7 L873.1,582.0 L873.8,579.1 L874.5,572.4 L875.2,579.1 L875.9,583.0 L876.6,582.7 L877.3,584.6 L878.0,583.9 L878.7,584.2 L879.4,575.5 L880.1,585.9 L880.8,581.1 L881.5,582.9 L882.2,582.3 L882.9,582.9 L883.6,584.7 L884.3,582.6 L885.0,581.9 L885.7,585.4 L886.4,588.2 L887.1,584.3 L887.8,587.1 L888.5,585.9 L889.2,583.8 L889.9,588.8 L890.6,581.7 L891.3,586.6 L892.0,586.1 L892.7,590.5 L893.4,587.0 L894.1,589.0 L894.8,587.9 L895.5,588.7 L896.2,586.1 L896.9,588.5 L897.6,586.2 L898.3,590.8 L899.0,589.8 L899.7,585.7 L900.4,588.8 L901.1,588.8 L901.8,587.4 L902.5,586.1 L903.2,587.8 L903.9,589.3 L904.6,591.1 L905.3,588.4 L906.0,590.9 L906.7,587.4 L907.4,590.1 L908.1,589.3 L908.8,590.0 L909.5,592.3 L910.2,591.7 L910.9,591.3 L911.6,593.8 L912.3,592.1 L913.0,589.6 L913.7,593.7 L914.4,591.8 L915.1,595.4 L915.8,594.3 L916.5,587.9 L917.2,584.4 L917.9,582.8 L918.6,591.2 L919.3,589.2 L920.0,592.9 L920.7,594.7 L921.4,588.8 L922.1,596.9 L922.8,591.9 L923.5,595.0 L924.2,594.3 L924.9,594.5 L925.6,595.6 L926.3,598.3 L927.0,591.2 L927.7,596.4 L928.4,598.2 L929.1,593.6 L929.8,593.6 L930.5,597.1 L931.2,590.5 L931.9,598.8 L932.6,599.1 L933.3,597.0 L934.0,593.6 L934.7,596.9 L935.4,596.7 L936.1,595.4 L936.8,594.1 L937.5,595.0 L938.2,597.9 L938.9,598.3 L939.6,596.0 L940.3,595.1 L941.0,597.3 L941.7,597.7 L942.4,596.6 L943.1,596.7 L943.8,598.7 L944.5,598.6 L945.2,596.2 L945.9,597.5 L946.6,597.2 L947.3,593.9 L948.0,597.8 L948.7,598.7 L949.4,597.8 L950.1,594.1 L950.8,595.8 L951.5,592.4 L952.2,597.3 L952.9,596.5 L953.6,597.2 L954.3,595.7 L955.0,589.7 L955.7,596.6 L956.4,593.2 L957.1,591.7 L957.8,593.4 L958.5,592.4 L959.2,586.8 L959.9,592.4 L960.6,589.0 L961.3,590.5 L962.0,586.6 L962.7,587.5 L963.4,587.1 L964.1,584.4 L964.8,587.3 L965.5,588.5 L966.2,586.5 L966.9,585.5 L967.6,581.5 L968.3,586.0 L969.0,583.3 L969.7,587.0 L970.4,586.3 L971.1,588.5 L971.8,585.2 L972.5,586.4 L973.2,582.2 L973.9,585.7 L974.6,581.9 L975.3,582.0 L976.0,586.2 L976.7,580.3 L977.4,581.2 L978.1,582.3 L978.8,585.6 L979.5,582.5 L980.2,584.9 L980.9,584.0 L981.6,578.9 L982.3,581.6 L983.0,582.4 L983.7,580.4 L984.4,582.7 L985.1,582.6 L985.8,582.3 L986.5,580.4 L987.2,580.5 L987.9,581.6 L988.6,586.4 L989.3,583.8 L990.0,585.3 L990.7,584.7 L991.4,585.1 L992.1,588.3 L992.8,582.5 L993.5,585.6 L994.2,584.5 L994.9,585.3 L995.6,588.0 L996.3,586.2 L997.0,588.0 L997.7,583.2 L998.4,587.9 L999.1,579.2 L999.8,587.0 L1000.5,588.3 L1001.2,585.1 L1001.9,586.3 L1002.6,587.3 L1003.3,587.7 L1004.0,587.4 L1004.7,587.2 L1005.4,587.9 L1006.1,587.6 L1006.8,587.8 L1007.5,577.4 L1008.2,589.4 L1008.9,590.3 L1009.6,590.8 L1010.3,587.5 L1011.0,588.1 L1011.7,589.0 L1012.4,589.0 L1013.1,591.5 L1013.8,589.7 L1014.5,588.0 L1015.2,591.2 L1015.9,588.9 L1016.6,587.7 L1017.3,589.3 L1018.0,592.5 L1018.7,594.9 L1019.4,591.9 L1020.1,594.0 L1020.8,590.3 L1021.5,592.1 L1022.2,590.5 L1022.9,592.7 L1023.6,589.1 L1024.3,593.9 L1025.0,592.3 L1025.7,592.8 L1026.4,590.4 L1027.1,594.0 L1027.8,590.7 L1028.5,594.2 L1029.2,594.4 L1029.9,592.6 L1030.6,593.1 L1031.3,599.2 L1032.0,597.0 L1032.7,590.7 L1033.4,591.2 L1034.1,594.9 L1034.8,596.9 L1035.5,595.4 L1036.2,596.0 L1036.9,592.8 L1037.6,590.5 L1038.3,595.7 L1039.0,593.8 L1039.7,589.0 L1040.4,594.2 L1041.1,595.3 L1041.8,595.2 L1042.5,595.5 L1043.2,597.4 L1043.9,593.6 L1044.6,594.3 L1045.3,596.6 L1046.0,596.6 L1046.7,593.9 L1047.4,593.6 L1048.1,598.8 L1048.8,598.5 L1049.5,596.6 L1050.2,600.7 L1050.9,599.2 L1051.6,596.7 L1052.3,597.5 L1053.0,600.0 L1053.7,595.3 L1054.4,596.2 L1055.1,599.1 L1055.8,600.5 L1056.5,599.0 L1057.2,600.0 L1057.9,597.1 L1058.6,598.3 L1059.3,601.9 L1060.0,597.0 L1060.7,598.4 L1061.4,598.1 L1062.1,595.7 L1062.8,597.2 L1063.5,596.7 L1064.2,598.3 L1064.9,596.0 L1065.6,595.5 L1066.3,599.7 L1067.0,600.7 L1067.7,598.4 L1068.4,599.1 L1069.1,597.5 L1069.8,599.3 L1070.5,598.9 L1071.2,596.7 L1071.9,599.5 L1072.6,597.7 L1073.3,596.3 L1074.0,595.7 L1074.7,599.0 L1075.4,596.7 L1076.1,597.5 L1076.8,593.5 L1077.5,596.9 L1078.2,595.7 L1078.9,591.7 L1079.6,592.4 L1080.3,592.4 L1081.0,594.4 L1081.7,589.3 L1082.4,588.9 L1083.1,588.6 L1083.8,588.8 L1084.5,588.4 L1085.2,590.5 L1085.9,587.4 L1086.6,591.5 L1087.3,588.0 L1088.0,590.6 L1088.7,586.6 L1089.4,588.2 L1090.1,584.9 L1090.8,590.0 L1091.5,586.4 L1092.2,586.8 L1092.9,584.6 L1093.6,586.3 L1094.3,586.3 L1095.0,584.8 L1095.7,584.9 L1096.4,583.3 L1097.1,582.4 L1097.8,584.4 L1098.5,583.4 L1099.2,584.6 L1099.9,588.6 L1100.6,585.7 L1101.3,585.6 L1102.0,585.5 L1102.7,587.2 L1103.4,585.6 L1104.1,583.8 L1104.8,584.2 L1105.5,585.4 L1106.2,584.1 L1106.9,584.3 L1107.6,580.2 L1108.3,585.9 L1109.0,584.9 L1109.7,585.5 L1110.4,586.5 L1111.1,587.7 L1111.8,586.0 L1112.5,587.0 L1113.2,587.9 L1113.9,584.3 L1114.6,584.7 L1115.3,587.6 L1116.0,580.8 L1116.7,586.5 L1117.4,590.8 L1118.1,588.0 L1118.8,586.5 L1119.5,588.0 L1120.2,583.5 L1120.9,586.3 L1121.6,586.7 L1122.3,589.1 L1123.0,594.1 L1123.7,592.2 L1124.4,586.8 L1125.1,588.5 L1125.8,584.8 L1126.5,588.9 L1127.2,589.1 L1127.9,586.9 L1128.6,591.8 L1129.3,589.7 L1130.0,593.6 L1130.7,593.7 L1131.4,591.1 L1132.1,588.0 L1132.8,590.4 L1133.5,590.3 L1134.2,588.2 L1134.9,590.2 L1135.6,593.4 L1136.3,592.3 L1137.0,593.1 L1137.7,591.2 L1138.4,594.8 L1139.1,593.6 L1139.8,595.5 L1140.5,591.5 L1141.2,593.3 L1141.9,591.1 L1142.6,595.2 L1143.3,596.5 L1144.0,590.8 L1144.7,593.3 L1145.4,591.8 L1146.1,594.8 L1146.8,593.6 L1147.5,593.7 L1148.2,595.4 L1148.9,596.0 L1149.6,593.0 L1150.3,595.6 L1151.0,595.8 L1151.7,592.7 L1152.4,596.7 L1153.1,594.1 L1153.8,594.9 L1154.5,596.3 L1155.2,595.3 L1155.9,596.4 L1156.6,597.8 L1157.3,594.8 L1158.0,596.0 L1158.7,596.9 L1159.4,595.1 L1160.1,592.2 L1160.8,597.5 L1161.5,596.2 L1162.2,597.3 L1162.9,596.6 L1163.6,596.1 L1164.3,594.0 L1165.0,600.7 L1165.7,596.9 L1166.4,596.6 L1167.1,596.8 L1167.8,597.1 L1168.5,595.0 L1169.2,595.6 L1169.9,594.8 L1170.6,598.6 L1171.3,597.3 L1172.0,596.4 L1172.7,602.6 L1173.4,595.7 L1174.1,595.7 L1174.8,596.8 L1175.5,589.7 L1176.2,597.3 L1176.9,599.6 L1177.6,597.9 L1178.3,595.6 L1179.0,597.7 L1179.7,598.1 L1180.4,598.3 L1181.1,594.9 L1181.8,598.5 L1182.5,587.5 L1183.2,600.4 L1183.9,599.1 L1184.6,590.3 L1185.3,597.3 L1186.0,600.2 L1186.7,599.5 L1187.4,598.1 L1188.1,599.6 L1188.8,597.1 L1189.5,596.5 L1190.2,598.5 L1190.9,599.0 L1191.6,597.9 L1192.3,598.5 L1193.0,598.9 L1193.7,599.3 L1194.4,602.1 L1195.1,596.5 L1195.8,599.8 L1196.5,600.0 L1197.2,600.5 L1197.9,600.0 L1198.6,597.8 L1199.3,598.7 L1200.0,597.2 L1200.7,597.4 L1201.4,600.2 L1202.1,597.7 L1202.8,599.2 L1203.5,597.2 L1204.2,599.9 L1204.9,598.7" fill="none" stroke="#7ad97a" stroke-width="1.0" stroke-linejoin="round"/>
<polyline points="726.3,494.6 786.2,494.6 846.3,385.1 906.5,494.6 966.6,385.1 1026.8,494.6 1086.9,385.1 1147.1,494.6 1206.0,494.6" fill="none" stroke="#6e6e6e" stroke-width="2.3" stroke-linejoin="miter"/>
</g>
<line x1="1206.0" y1="374.4" x2="1206.0" y2="604.1" stroke="#7c7c7c" stroke-width="2.3"/>
<line x1="1199.5" y1="604.1" x2="1206.0" y2="604.1" stroke="#7c7c7c" stroke-width="2.2"/>
<line x1="1199.5" y1="560.3" x2="1206.0" y2="560.3" stroke="#7c7c7c" stroke-width="2.2"/>
<line x1="1199.5" y1="516.5" x2="1206.0" y2="516.5" stroke="#7c7c7c" stroke-width="2.2"/>
<line x1="1199.5" y1="472.7" x2="1206.0" y2="472.7" stroke="#7c7c7c" stroke-width="2.2"/>
<line x1="1199.5" y1="428.9" x2="1206.0" y2="428.9" stroke="#7c7c7c" stroke-width="2.2"/>
<line x1="1199.5" y1="385.1" x2="1206.0" y2="385.1" stroke="#7c7c7c" stroke-width="2.2"/>
<line x1="1202.5" y1="582.2" x2="1206.0" y2="582.2" stroke="#7c7c7c" stroke-width="2.2"/>
<line x1="1202.5" y1="538.4" x2="1206.0" y2="538.4" stroke="#7c7c7c" stroke-width="2.2"/>
<line x1="1202.5" y1="494.6" x2="1206.0" y2="494.6" stroke="#7c7c7c" stroke-width="2.2"/>
<line x1="1202.5" y1="450.8" x2="1206.0" y2="450.8" stroke="#7c7c7c" stroke-width="2.2"/>
<line x1="1202.5" y1="407.0" x2="1206.0" y2="407.0" stroke="#7c7c7c" stroke-width="2.2"/>
<line x1="726.3" y1="373.15" x2="726.3" y2="605.35" stroke="#1c1c1c" stroke-width="2.9"/>
<line x1="719.3" y1="604.1" x2="726.3" y2="604.1" stroke="#1c1c1c" stroke-width="2.9"/>
<line x1="719.3" y1="542.1" x2="726.3" y2="542.1" stroke="#1c1c1c" stroke-width="2.9"/>
<line x1="719.3" y1="480.1" x2="726.3" y2="480.1" stroke="#1c1c1c" stroke-width="2.9"/>
<line x1="719.3" y1="418.1" x2="726.3" y2="418.1" stroke="#1c1c1c" stroke-width="2.9"/>
<line x1="722.8" y1="573.1" x2="726.3" y2="573.1" stroke="#1c1c1c" stroke-width="2.9"/>
<line x1="722.8" y1="511.1" x2="726.3" y2="511.1" stroke="#1c1c1c" stroke-width="2.9"/>
<line x1="722.8" y1="449.1" x2="726.3" y2="449.1" stroke="#1c1c1c" stroke-width="2.9"/>
<line x1="722.8" y1="387.1" x2="726.3" y2="387.1" stroke="#1c1c1c" stroke-width="2.9"/>
<line x1="726.3" y1="374.4" x2="1207.0" y2="374.4" stroke="#1c1c1c" stroke-width="2.9"/>
<line x1="726.3" y1="604.1" x2="1207.0" y2="604.1" stroke="#1c1c1c" stroke-width="2.9"/>
<line x1="829.8" y1="604.1" x2="829.8" y2="609.6" stroke="#1c1c1c" stroke-width="2.9"/>
<line x1="950.1" y1="604.1" x2="950.1" y2="609.6" stroke="#1c1c1c" stroke-width="2.9"/>
<line x1="1070.4" y1="604.1" x2="1070.4" y2="609.6" stroke="#1c1c1c" stroke-width="2.9"/>
<line x1="1190.7" y1="604.1" x2="1190.7" y2="609.6" stroke="#1c1c1c" stroke-width="2.9"/>
<line x1="769.6" y1="604.1" x2="769.6" y2="607.1" stroke="#1c1c1c" stroke-width="2.9"/>
<line x1="889.9" y1="604.1" x2="889.9" y2="607.1" stroke="#1c1c1c" stroke-width="2.9"/>
<line x1="1010.2" y1="604.1" x2="1010.2" y2="607.1" stroke="#1c1c1c" stroke-width="2.9"/>
<line x1="1130.5" y1="604.1" x2="1130.5" y2="607.1" stroke="#1c1c1c" stroke-width="2.9"/>
<text x="829.8" y="631.4" font-size="22" text-anchor="middle" fill="#0a0a0a" stroke="#0a0a0a" stroke-width="0.35" font-weight="normal" >600</text>
<text x="950.1" y="631.4" font-size="22" text-anchor="middle" fill="#0a0a0a" stroke="#0a0a0a" stroke-width="0.35" font-weight="normal" >800</text>
<text x="1070.4" y="631.4" font-size="22" text-anchor="middle" fill="#0a0a0a" stroke="#0a0a0a" stroke-width="0.35" font-weight="normal" >1000</text>
<text x="1190.7" y="631.4" font-size="22" text-anchor="middle" fill="#0a0a0a" stroke="#0a0a0a" stroke-width="0.35" font-weight="normal" >1200</text>
<text x="966.1" y="665.7" font-size="22" text-anchor="middle" fill="#0a0a0a" stroke="#0a0a0a" stroke-width="0.35" font-weight="normal" >Time / s</text>
<text x="1215.3" y="610.7" font-size="22" text-anchor="start" fill="#8e8e8e" stroke="#8e8e8e" stroke-width="0.35" font-weight="normal" >0.6</text>
<text x="1215.3" y="566.9" font-size="22" text-anchor="start" fill="#8e8e8e" stroke="#8e8e8e" stroke-width="0.35" font-weight="normal" >0.8</text>
<text x="1215.3" y="523.1" font-size="22" text-anchor="start" fill="#8e8e8e" stroke="#8e8e8e" stroke-width="0.35" font-weight="normal" >1.0</text>
<text x="1215.3" y="479.3" font-size="22" text-anchor="start" fill="#8e8e8e" stroke="#8e8e8e" stroke-width="0.35" font-weight="normal" >1.2</text>
<text x="1215.3" y="435.5" font-size="22" text-anchor="start" fill="#8e8e8e" stroke="#8e8e8e" stroke-width="0.35" font-weight="normal" >1.4</text>
<text x="1215.3" y="391.7" font-size="22" text-anchor="start" fill="#8e8e8e" stroke="#8e8e8e" stroke-width="0.35" font-weight="normal" >1.6</text>
<g clip-path="url(#clipbRb)">
<path d="M728.0,595.2 L728.8,595.5 L729.7,595.9 L730.9,596.3 L732.4,596.8 L734.3,597.2 L736.6,597.6 L739.5,597.9 L742.8,598.1 L746.6,598.3 L750.5,598.4 L754.6,598.6 L758.5,598.8 L762.5,599.0 L766.7,599.3 L771.0,599.6 L775.2,599.9 L779.2,600.0 L782.9,600.0 L786.2,599.9 L789.4,599.6 L792.3,599.3 L795.0,598.8 L797.6,598.3 L799.9,597.6 L801.9,596.9 L803.7,596.1 L805.2,595.2 L806.6,594.1 L808.1,592.9 L809.6,591.5 L811.2,589.8 L812.9,587.9 L814.5,585.8 L816.1,583.6 L817.8,581.4 L819.4,579.3 L821.0,577.2 L822.6,575.1 L824.3,573.0 L825.9,570.9 L827.5,569.0 L829.1,567.2 L830.7,565.6 L832.3,564.1 L833.9,562.7 L835.6,561.4 L837.2,560.3 L838.8,559.4 L840.4,558.7 L842.1,558.0 L843.7,557.6 L845.3,557.3 L847.0,557.3 L848.6,557.4 L850.2,557.8 L851.8,558.3 L853.5,559.1 L855.1,560.1 L856.7,561.1 L858.3,562.3 L859.9,563.6 L861.6,565.2 L863.2,566.8 L864.8,568.6 L866.5,570.3 L868.1,572.0 L869.7,573.7 L871.3,575.4 L873.0,577.0 L874.6,578.7 L876.2,580.3 L877.8,581.8 L879.4,583.2 L881.0,584.6 L882.6,585.9 L884.3,587.1 L885.9,588.2 L887.5,589.1 L889.1,589.9 L890.8,590.5 L892.4,591.0 L894.0,591.3 L895.7,591.5 L897.3,591.5 L898.9,591.2 L900.5,590.7 L902.2,590.1 L903.8,589.3 L905.4,588.5 L907.0,587.9 L908.6,587.3 L910.2,586.6 L911.8,586.0 L913.5,585.4 L915.1,584.9 L916.7,584.7 L918.3,584.7 L920.0,584.8 L921.6,585.0 L923.2,585.4 L924.9,586.0 L926.5,586.7 L928.1,587.6 L929.7,588.8 L931.4,590.2 L933.0,591.6 L934.6,592.9 L936.2,594.0 L937.7,595.0 L939.1,595.9 L940.5,596.8 L942.0,597.6 L943.8,598.2 L946.0,598.8 L948.7,599.2 L951.9,599.6 L955.3,599.8 L958.8,599.9 L962.2,600.0 L965.4,600.0 L968.3,599.9 L971.0,599.7 L973.6,599.4 L976.2,599.1 L978.8,598.9 L981.5,598.8 L984.3,598.9 L987.3,599.1 L990.2,599.3 L993.2,599.6 L995.9,599.8 L998.5,600.0 L1000.8,600.1 L1002.8,600.3 L1004.7,600.4 L1006.6,600.4 L1008.6,600.3 L1010.7,600.0 L1013.0,599.5 L1015.5,598.8 L1018.0,598.0 L1020.5,597.1 L1023.0,596.1 L1025.3,595.2 L1027.6,594.2 L1029.8,593.1 L1032.0,591.9 L1034.1,590.8 L1035.9,589.8 L1037.5,589.1 L1038.7,588.6 L1039.5,588.2 L1040.1,587.9 L1040.6,587.8 L1041.3,587.8 L1042.3,587.9 L1043.6,588.2 L1045.1,588.7 L1046.7,589.2 L1048.5,589.9 L1050.3,590.7 L1052.1,591.5 L1053.9,592.4 L1055.7,593.5 L1057.5,594.7 L1059.5,595.8 L1061.7,596.8 L1064.2,597.6 L1067.0,598.1 L1070.0,598.4 L1073.2,598.5 L1076.6,598.6 L1080.1,598.7 L1083.7,598.8 L1087.5,599.0 L1091.5,599.3 L1095.6,599.6 L1099.8,599.9 L1104.0,600.0 L1108.1,600.0 L1112.2,599.9 L1116.4,599.6 L1120.6,599.3 L1124.7,598.8 L1128.6,598.3 L1132.4,597.6 L1136.0,596.8 L1139.3,595.7 L1142.6,594.6 L1145.8,593.5 L1148.9,592.4 L1151.9,591.5 L1154.9,590.7 L1157.7,590.0 L1160.6,589.3 L1163.3,588.7 L1166.1,588.3 L1168.9,587.9 L1171.8,587.7 L1174.8,587.5 L1177.8,587.5 L1180.7,587.6 L1183.4,587.7 L1186.0,587.9 L1188.4,588.2 L1190.6,588.5 L1192.6,588.9 L1194.6,589.4 L1196.4,589.9 L1198.1,590.3 L1199.8,590.7 L1201.3,591.2 L1202.8,591.6 L1204.1,592.1 L1205.2,592.4 L1206.0,592.7" fill="none" stroke="#f28a26" stroke-width="2.6" stroke-linejoin="round" stroke-linecap="round"/>
<path d="M728.0,600.0 L732.7,600.2 L739.3,600.4 L747.1,600.7 L755.3,601.0 L763.4,601.2 L770.7,601.3 L777.3,601.4 L783.9,601.4 L790.2,601.3 L796.3,601.2 L802.0,601.1 L807.2,600.8 L811.8,600.4 L815.9,600.0 L819.7,599.5 L823.1,598.9 L826.2,598.3 L829.1,597.6 L831.7,596.9 L833.9,596.3 L835.8,595.6 L837.6,594.8 L839.4,593.8 L841.3,592.7 L843.3,591.3 L845.4,589.7 L847.5,587.9 L849.5,586.1 L851.5,584.5 L853.5,583.0 L855.4,581.7 L857.3,580.4 L859.2,579.2 L861.0,578.2 L862.7,577.4 L864.4,576.9 L865.9,576.8 L867.2,576.9 L868.4,577.3 L869.7,577.9 L871.2,578.6 L872.9,579.3 L875.0,580.1 L877.2,581.1 L879.7,582.2 L882.2,583.3 L884.9,584.4 L887.5,585.4 L890.3,586.3 L893.2,587.2 L896.2,588.1 L899.2,588.9 L902.0,589.6 L904.6,590.3 L906.9,590.8 L908.9,591.2 L910.8,591.6 L912.7,591.9 L914.6,592.3 L916.7,592.7 L919.0,593.3 L921.5,593.9 L924.0,594.6 L926.5,595.3 L929.0,595.9 L931.3,596.4 L933.5,596.8 L935.5,597.2 L937.5,597.5 L939.5,597.6 L941.5,597.7 L943.5,597.6 L945.6,597.3 L947.7,596.8 L949.8,596.3 L951.8,595.6 L953.8,594.8 L955.7,594.0 L957.5,593.1 L959.2,592.0 L960.9,590.9 L962.5,589.8 L964.0,588.7 L965.4,587.9 L966.6,587.3 L967.5,586.8 L968.3,586.4 L969.2,586.1 L970.3,585.8 L971.7,585.4 L973.5,584.9 L975.6,584.4 L978.0,583.8 L980.4,583.3 L982.8,583.0 L985.1,583.0 L987.3,583.3 L989.6,583.8 L991.9,584.5 L994.1,585.2 L996.3,586.0 L998.5,586.7 L1000.6,587.3 L1002.6,588.0 L1004.5,588.6 L1006.5,589.2 L1008.5,589.8 L1010.7,590.3 L1013.0,590.8 L1015.4,591.2 L1017.9,591.6 L1020.3,591.9 L1022.8,592.3 L1025.3,592.7 L1027.7,593.1 L1030.0,593.5 L1032.3,594.0 L1034.7,594.4 L1037.2,594.8 L1039.9,595.2 L1043.0,595.6 L1046.3,596.1 L1049.8,596.6 L1053.3,597.0 L1056.5,597.3 L1059.4,597.6 L1061.8,597.8 L1064.0,598.0 L1065.9,598.2 L1067.7,598.2 L1069.6,598.1 L1071.5,597.6 L1073.5,596.8 L1075.4,595.7 L1077.4,594.3 L1079.4,592.9 L1081.5,591.5 L1083.7,590.3 L1086.2,589.1 L1088.8,587.9 L1091.5,586.6 L1094.3,585.6 L1097.0,584.7 L1099.5,584.2 L1101.8,584.1 L1103.9,584.3 L1106.0,584.8 L1108.1,585.4 L1110.3,586.1 L1112.9,586.7 L1115.8,587.4 L1118.9,588.2 L1122.3,589.0 L1125.7,589.9 L1129.1,590.7 L1132.4,591.5 L1135.7,592.2 L1139.0,592.9 L1142.3,593.5 L1145.6,594.1 L1148.8,594.7 L1151.9,595.2 L1154.9,595.7 L1157.7,596.1 L1160.6,596.6 L1163.3,596.9 L1166.1,597.3 L1168.9,597.6 L1171.7,597.9 L1174.5,598.1 L1177.3,598.3 L1180.1,598.4 L1183.0,598.6 L1186.0,598.8 L1189.4,599.0 L1193.2,599.2 L1197.1,599.5 L1200.7,599.7 L1203.8,599.9 L1206.0,600.0" fill="none" stroke="#2bbf3f" stroke-width="2.8" stroke-linejoin="round" stroke-linecap="round"/>
</g>
<clipPath id="clipLc"><rect x="197.2" y="688.5" width="477.59999999999997" height="227.10000000000008"/></clipPath>
<clipPath id="clipbLc"><rect x="197.2" y="688.5" width="477.59999999999997" height="229.80000000000007"/></clipPath>
<g clip-path="url(#clipLc)">
<path d="M196.5,914.3 L197.5,912.9 L198.5,914.2 L199.5,913.6 L200.5,913.4 L201.5,913.7 L202.5,913.4 L203.5,913.7 L204.5,912.5 L205.5,913.3 L206.5,913.9 L207.5,913.8 L208.5,913.2 L209.5,914.3 L210.5,913.7 L211.5,913.4 L212.5,913.5 L213.5,913.6 L214.5,913.8 L215.5,914.7 L216.5,913.4 L217.5,914.0 L218.5,913.7 L219.5,913.2 L220.5,914.3 L221.5,913.6 L222.5,914.1 L223.5,914.7 L224.5,914.2 L225.5,913.6 L226.5,914.4 L227.5,913.4 L228.5,913.3 L229.5,913.2 L230.5,913.3 L231.5,914.1 L232.5,912.6 L233.5,914.2 L234.5,913.6 L235.5,913.4 L236.5,913.3 L237.5,913.7 L238.5,913.7 L239.5,913.5 L240.5,914.6 L241.5,914.5 L242.5,913.4 L243.5,914.5 L244.5,914.1 L245.5,914.1 L246.5,913.6 L247.5,914.0 L248.5,914.4 L249.5,914.7 L250.5,914.1 L251.5,913.9 L252.5,914.4 L253.5,913.4 L254.5,913.8 L255.5,913.1 L256.5,914.4 L257.5,913.8 L258.5,912.6 L259.5,913.7 L260.5,912.8 L261.5,913.3 L262.5,913.2 L263.5,913.0 L264.5,913.4 L265.5,913.2 L266.5,912.4 L267.5,913.5 L268.5,912.7 L269.5,912.8 L270.5,912.2 L271.5,912.2 L272.5,912.3 L273.5,912.6 L274.5,910.6 L275.5,910.3 L276.5,908.8 L277.5,910.1 L278.5,909.0 L279.5,909.2 L280.5,906.6 L281.5,907.7 L282.5,906.5 L283.5,906.4 L284.5,905.5 L285.5,906.0 L286.5,906.4 L287.5,904.8 L288.5,905.1 L289.5,905.6 L290.5,904.3 L291.5,904.6 L292.5,905.2 L293.5,904.9 L294.5,904.5 L295.5,905.3 L296.5,903.8 L297.5,905.0 L298.5,904.6 L299.5,904.2 L300.5,903.3 L301.5,904.2 L302.5,904.8 L303.5,903.7 L304.5,905.3 L305.5,904.6 L306.5,905.9 L307.5,906.7 L308.5,907.1 L309.5,907.8 L310.5,908.4 L311.5,909.0 L312.5,910.4 L313.5,909.3 L314.5,909.5 L315.5,909.6 L316.5,910.1 L317.5,910.9 L318.5,911.3 L319.5,911.5 L320.5,912.1 L321.5,912.0 L322.5,911.5 L323.5,910.8 L324.5,911.1 L325.5,912.0 L326.5,912.2 L327.5,911.1 L328.5,911.2 L329.5,911.1 L330.5,910.5 L331.5,911.2 L332.5,909.5 L333.5,911.0 L334.5,910.2 L335.5,909.9 L336.5,909.4 L337.5,910.5 L338.5,909.6 L339.5,908.8 L340.5,907.9 L341.5,908.0 L342.5,907.8 L343.5,906.2 L344.5,905.7 L345.5,904.6 L346.5,902.8 L347.5,900.2 L348.5,899.6 L349.5,896.0 L350.5,893.3 L351.5,890.0 L352.5,886.9 L353.5,880.6 L354.5,874.3 L355.5,869.0 L356.5,859.4 L357.5,853.9 L358.5,843.9 L359.5,836.6 L360.5,821.9 L361.5,810.6 L362.5,792.6 L363.5,776.1 L364.5,767.7 L365.5,755.4 L366.5,743.6 L367.5,729.1 L368.5,724.2 L369.5,732.6 L370.5,729.6 L371.5,743.9 L372.5,746.1 L373.5,751.8 L374.5,765.4 L375.5,780.7 L376.5,799.6 L377.5,805.4 L378.5,815.5 L379.5,830.8 L380.5,838.7 L381.5,847.5 L382.5,856.7 L383.5,863.8 L384.5,870.4 L385.5,874.0 L386.5,877.8 L387.5,882.6 L388.5,888.3 L389.5,891.5 L390.5,894.3 L391.5,896.4 L392.5,899.1 L393.5,900.4 L394.5,903.1 L395.5,904.4 L396.5,905.5 L397.5,907.5 L398.5,908.9 L399.5,909.5 L400.5,909.6 L401.5,910.8 L402.5,911.4 L403.5,910.5 L404.5,911.6 L405.5,911.6 L406.5,912.6 L407.5,911.4 L408.5,912.3 L409.5,912.4 L410.5,912.2 L411.5,913.9 L412.5,912.1 L413.5,913.2 L414.5,912.7 L415.5,913.2 L416.5,912.6 L417.5,911.7 L418.5,911.7 L419.5,912.1 L420.5,912.5 L421.5,911.4 L422.5,911.1 L423.5,912.3 L424.5,911.3 L425.5,911.5 L426.5,911.6 L427.5,911.8 L428.5,912.3 L429.5,912.7 L430.5,913.0 L431.5,912.6 L432.5,911.7 L433.5,911.8 L434.5,911.7 L435.5,910.6 L436.5,910.1 L437.5,910.1 L438.5,909.0 L439.5,908.8 L440.5,909.4 L441.5,909.0 L442.5,910.0 L443.5,909.8 L444.5,911.2 L445.5,911.0 L446.5,911.0 L447.5,911.7 L448.5,912.3 L449.5,910.6 L450.5,911.7 L451.5,910.9 L452.5,911.8 L453.5,912.7 L454.5,912.5 L455.5,912.2 L456.5,912.4 L457.5,912.8 L458.5,912.6 L459.5,913.1 L460.5,912.8 L461.5,913.4 L462.5,912.4 L463.5,914.0 L464.5,913.5 L465.5,913.0 L466.5,912.8 L467.5,912.3 L468.5,913.5 L469.5,912.5 L470.5,912.3 L471.5,911.4 L472.5,911.9 L473.5,911.2 L474.5,911.2 L475.5,911.2 L476.5,909.5 L477.5,909.7 L478.5,908.4 L479.5,907.6 L480.5,907.4 L481.5,907.6 L482.5,905.0 L483.5,902.9 L484.5,901.0 L485.5,899.8 L486.5,896.8 L487.5,893.2 L488.5,890.0 L489.5,887.4 L490.5,881.7 L491.5,878.4 L492.5,869.8 L493.5,862.3 L494.5,853.1 L495.5,843.6 L496.5,834.1 L497.5,820.3 L498.5,810.9 L499.5,798.4 L500.5,785.5 L501.5,780.7 L502.5,770.1 L503.5,769.1 L504.5,762.3 L505.5,762.8 L506.5,769.8 L507.5,773.4 L508.5,797.2 L509.5,801.5 L510.5,811.7 L511.5,822.8 L512.5,840.4 L513.5,849.1 L514.5,861.4 L515.5,871.0 L516.5,879.4 L517.5,884.7 L518.5,890.2 L519.5,892.1 L520.5,898.1 L521.5,898.9 L522.5,901.4 L523.5,903.5 L524.5,905.4 L525.5,907.0 L526.5,907.5 L527.5,907.4 L528.5,908.9 L529.5,908.5 L530.5,910.2 L531.5,910.8 L532.5,910.8 L533.5,911.3 L534.5,910.8 L535.5,911.4 L536.5,911.4 L537.5,911.5 L538.5,911.0 L539.5,911.8 L540.5,911.4 L541.5,912.2 L542.5,913.0 L543.5,912.0 L544.5,912.5 L545.5,912.4 L546.5,911.8 L547.5,913.0 L548.5,912.5 L549.5,912.4 L550.5,912.7 L551.5,913.5 L552.5,912.2 L553.5,912.9 L554.5,912.4 L555.5,913.2 L556.5,912.0 L557.5,912.9 L558.5,912.9 L559.5,912.0 L560.5,911.6 L561.5,911.2 L562.5,912.5 L563.5,912.3 L564.5,911.9 L565.5,912.2 L566.5,912.4 L567.5,912.2 L568.5,912.5 L569.5,910.8 L570.5,911.0 L571.5,911.3 L572.5,911.2 L573.5,910.9 L574.5,909.8 L575.5,910.1 L576.5,909.8 L577.5,909.7 L578.5,911.4 L579.5,911.0 L580.5,911.1 L581.5,911.9 L582.5,911.4 L583.5,912.0 L584.5,911.9 L585.5,911.9 L586.5,913.1 L587.5,911.6 L588.5,912.4 L589.5,912.0 L590.5,912.9 L591.5,913.3 L592.5,912.6 L593.5,912.7 L594.5,912.2 L595.5,912.9 L596.5,912.2 L597.5,913.7 L598.5,914.3 L599.5,912.9 L600.5,912.8 L601.5,913.2 L602.5,913.3 L603.5,913.1 L604.5,912.9 L605.5,913.0 L606.5,912.9 L607.5,912.2 L608.5,912.6 L609.5,912.3 L610.5,912.4 L611.5,911.9 L612.5,911.1 L613.5,912.4 L614.5,911.6 L615.5,911.0 L616.5,909.8 L617.5,910.8 L618.5,910.1 L619.5,910.1 L620.5,908.6 L621.5,909.3 L622.5,907.2 L623.5,907.3 L624.5,906.5 L625.5,906.5 L626.5,903.9 L627.5,902.4 L628.5,899.1 L629.5,896.2 L630.5,892.1 L631.5,887.3 L632.5,882.4 L633.5,875.6 L634.5,867.9 L635.5,860.3 L636.5,851.3 L637.5,839.0 L638.5,827.7 L639.5,812.7 L640.5,799.1 L641.5,792.4 L642.5,782.9 L643.5,776.4 L644.5,780.3 L645.5,790.5 L646.5,797.5 L647.5,812.1 L648.5,816.4 L649.5,833.4 L650.5,842.6 L651.5,850.6 L652.5,858.2 L653.5,868.3 L654.5,871.8 L655.5,881.4 L656.5,883.8 L657.5,887.8 L658.5,892.8 L659.5,896.5 L660.5,898.6 L661.5,901.2 L662.5,903.5 L663.5,904.1 L664.5,906.1 L665.5,907.1 L666.5,908.9 L667.5,908.9 L668.5,909.4 L669.5,911.2 L670.5,911.5 L671.5,912.1 L672.5,912.5 L673.5,912.2 L674.5,912.8" fill="none" stroke="#fcbf86" stroke-width="1.0" stroke-linejoin="round"/>
<path d="M196.5,913.7 L197.5,913.7 L198.5,913.2 L199.5,913.1 L200.5,914.0 L201.5,914.4 L202.5,914.9 L203.5,914.2 L204.5,914.7 L205.5,914.3 L206.5,914.7 L207.5,914.7 L208.5,914.6 L209.5,914.2 L210.5,914.4 L211.5,914.8 L212.5,915.0 L213.5,914.3 L214.5,914.6 L215.5,915.0 L216.5,914.8 L217.5,914.8 L218.5,914.7 L219.5,914.8 L220.5,914.8 L221.5,914.8 L222.5,915.1 L223.5,914.7 L224.5,915.0 L225.5,915.1 L226.5,914.9 L227.5,915.0 L228.5,914.5 L229.5,914.5 L230.5,914.3 L231.5,914.6 L232.5,914.9 L233.5,915.0 L234.5,914.5 L235.5,915.0 L236.5,914.8 L237.5,915.0 L238.5,914.8 L239.5,914.7 L240.5,914.5 L241.5,914.9 L242.5,914.4 L243.5,914.9 L244.5,914.9 L245.5,915.0 L246.5,915.1 L247.5,914.5 L248.5,914.9 L249.5,914.9 L250.5,914.8 L251.5,914.9 L252.5,914.8 L253.5,914.7 L254.5,914.9 L255.5,914.5 L256.5,914.4 L257.5,914.8 L258.5,915.1 L259.5,914.5 L260.5,915.1 L261.5,914.9 L262.5,914.7 L263.5,914.9 L264.5,914.3 L265.5,914.9 L266.5,915.0 L267.5,914.4 L268.5,914.8 L269.5,913.9 L270.5,915.0 L271.5,914.9 L272.5,915.0 L273.5,915.0 L274.5,914.4 L275.5,915.0 L276.5,914.3 L277.5,914.8 L278.5,914.7 L279.5,914.9 L280.5,913.8 L281.5,914.3 L282.5,913.6 L283.5,914.6 L284.5,913.8 L285.5,914.4 L286.5,914.4 L287.5,914.8 L288.5,913.5 L289.5,913.9 L290.5,913.3 L291.5,913.4 L292.5,914.0 L293.5,914.6 L294.5,914.3 L295.5,913.9 L296.5,913.7 L297.5,913.6 L298.5,903.2 L299.5,896.3 L300.5,888.4 L301.5,880.9 L302.5,880.5 L303.5,880.7 L304.5,885.7 L305.5,887.5 L306.5,892.8 L307.5,895.4 L308.5,898.9 L309.5,900.8 L310.5,902.1 L311.5,903.7 L312.5,905.2 L313.5,906.0 L314.5,906.6 L315.5,907.0 L316.5,907.2 L317.5,908.5 L318.5,908.7 L319.5,908.5 L320.5,909.1 L321.5,909.1 L322.5,909.5 L323.5,910.1 L324.5,910.6 L325.5,911.0 L326.5,910.9 L327.5,911.0 L328.5,911.0 L329.5,911.3 L330.5,911.2 L331.5,910.6 L332.5,910.9 L333.5,910.7 L334.5,911.5 L335.5,910.8 L336.5,910.9 L337.5,909.8 L338.5,910.4 L339.5,910.6 L340.5,910.1 L341.5,910.0 L342.5,910.7 L343.5,909.3 L344.5,909.7 L345.5,909.3 L346.5,910.4 L347.5,909.8 L348.5,910.6 L349.5,911.0 L350.5,910.6 L351.5,910.4 L352.5,910.5 L353.5,910.2 L354.5,909.9 L355.5,909.6 L356.5,910.2 L357.5,909.6 L358.5,909.9 L359.5,911.6 L360.5,910.7 L361.5,910.0 L362.5,910.0 L363.5,909.5 L364.5,907.8 L365.5,906.7 L366.5,905.7 L367.5,904.1 L368.5,902.0 L369.5,898.2 L370.5,892.6 L371.5,891.0 L372.5,883.4 L373.5,882.3 L374.5,878.9 L375.5,873.4 L376.5,871.1 L377.5,867.1 L378.5,865.2 L379.5,864.0 L380.5,863.8 L381.5,868.6 L382.5,872.0 L383.5,876.9 L384.5,882.0 L385.5,885.9 L386.5,889.2 L387.5,892.2 L388.5,896.3 L389.5,900.4 L390.5,902.0 L391.5,905.4 L392.5,906.8 L393.5,908.0 L394.5,909.5 L395.5,909.0 L396.5,910.8 L397.5,910.6 L398.5,911.8 L399.5,911.1 L400.5,912.2 L401.5,911.8 L402.5,912.5 L403.5,911.8 L404.5,911.6 L405.5,911.9 L406.5,913.5 L407.5,912.4 L408.5,912.8 L409.5,912.7 L410.5,912.5 L411.5,911.9 L412.5,913.1 L413.5,913.2 L414.5,913.6 L415.5,913.6 L416.5,913.8 L417.5,912.8 L418.5,914.5 L419.5,913.8 L420.5,914.0 L421.5,912.2 L422.5,913.5 L423.5,914.1 L424.5,913.7 L425.5,914.0 L426.5,914.5 L427.5,914.6 L428.5,913.4 L429.5,913.5 L430.5,913.4 L431.5,913.3 L432.5,913.8 L433.5,912.1 L434.5,911.1 L435.5,907.6 L436.5,905.1 L437.5,901.3 L438.5,897.6 L439.5,897.4 L440.5,896.6 L441.5,897.6 L442.5,899.7 L443.5,901.1 L444.5,903.5 L445.5,905.5 L446.5,907.5 L447.5,908.7 L448.5,909.5 L449.5,911.8 L450.5,911.5 L451.5,910.1 L452.5,911.2 L453.5,911.5 L454.5,912.1 L455.5,911.8 L456.5,911.6 L457.5,911.5 L458.5,911.4 L459.5,912.4 L460.5,911.8 L461.5,911.5 L462.5,911.7 L463.5,912.0 L464.5,912.3 L465.5,912.5 L466.5,911.8 L467.5,912.2 L468.5,912.4 L469.5,911.3 L470.5,912.7 L471.5,911.8 L472.5,911.9 L473.5,913.2 L474.5,911.9 L475.5,912.2 L476.5,911.6 L477.5,912.8 L478.5,911.9 L479.5,912.2 L480.5,912.1 L481.5,912.1 L482.5,912.4 L483.5,912.4 L484.5,911.4 L485.5,911.9 L486.5,911.8 L487.5,912.4 L488.5,911.7 L489.5,911.5 L490.5,911.7 L491.5,910.8 L492.5,910.9 L493.5,911.4 L494.5,911.4 L495.5,909.9 L496.5,909.9 L497.5,908.5 L498.5,908.7 L499.5,908.3 L500.5,906.8 L501.5,906.4 L502.5,904.7 L503.5,903.4 L504.5,901.6 L505.5,899.4 L506.5,895.8 L507.5,892.8 L508.5,888.4 L509.5,885.9 L510.5,881.4 L511.5,877.2 L512.5,874.5 L513.5,875.4 L514.5,873.3 L515.5,873.6 L516.5,873.7 L517.5,875.4 L518.5,880.0 L519.5,879.4 L520.5,883.9 L521.5,886.4 L522.5,890.4 L523.5,892.0 L524.5,893.8 L525.5,896.9 L526.5,898.6 L527.5,902.1 L528.5,903.2 L529.5,905.7 L530.5,905.7 L531.5,907.2 L532.5,909.1 L533.5,909.7 L534.5,909.1 L535.5,910.6 L536.5,910.5 L537.5,911.0 L538.5,912.1 L539.5,912.0 L540.5,911.6 L541.5,912.5 L542.5,913.4 L543.5,912.8 L544.5,912.8 L545.5,912.2 L546.5,913.4 L547.5,912.8 L548.5,913.1 L549.5,912.7 L550.5,913.4 L551.5,913.2 L552.5,913.4 L553.5,913.2 L554.5,913.6 L555.5,913.1 L556.5,913.6 L557.5,912.6 L558.5,913.0 L559.5,914.4 L560.5,912.9 L561.5,913.3 L562.5,913.8 L563.5,913.7 L564.5,912.6 L565.5,913.3 L566.5,913.1 L567.5,913.4 L568.5,912.6 L569.5,912.4 L570.5,912.4 L571.5,913.2 L572.5,912.8 L573.5,911.2 L574.5,909.1 L575.5,904.2 L576.5,902.2 L577.5,902.0 L578.5,902.7 L579.5,906.5 L580.5,906.0 L581.5,907.1 L582.5,909.3 L583.5,909.6 L584.5,910.1 L585.5,910.3 L586.5,911.3 L587.5,911.5 L588.5,911.3 L589.5,911.4 L590.5,911.9 L591.5,911.4 L592.5,911.6 L593.5,912.1 L594.5,912.1 L595.5,912.2 L596.5,912.3 L597.5,912.1 L598.5,912.0 L599.5,912.9 L600.5,912.1 L601.5,912.5 L602.5,912.5 L603.5,912.2 L604.5,912.4 L605.5,912.4 L606.5,912.4 L607.5,912.0 L608.5,912.9 L609.5,912.8 L610.5,913.2 L611.5,912.8 L612.5,912.4 L613.5,912.4 L614.5,912.3 L615.5,912.9 L616.5,912.4 L617.5,912.7 L618.5,911.9 L619.5,912.0 L620.5,912.8 L621.5,912.5 L622.5,911.9 L623.5,913.1 L624.5,912.2 L625.5,912.5 L626.5,911.6 L627.5,912.1 L628.5,912.1 L629.5,911.7 L630.5,911.9 L631.5,911.5 L632.5,911.4 L633.5,910.3 L634.5,909.6 L635.5,909.7 L636.5,909.4 L637.5,906.5 L638.5,904.3 L639.5,905.3 L640.5,904.3 L641.5,901.5 L642.5,898.7 L643.5,898.1 L644.5,894.3 L645.5,892.7 L646.5,890.5 L647.5,887.0 L648.5,888.5 L649.5,881.7 L650.5,879.5 L651.5,877.5 L652.5,876.1 L653.5,873.8 L654.5,872.7 L655.5,871.6 L656.5,873.3 L657.5,873.6 L658.5,875.9 L659.5,877.3 L660.5,878.9 L661.5,878.3 L662.5,879.7 L663.5,882.7 L664.5,884.4 L665.5,887.4 L666.5,887.0 L667.5,887.3 L668.5,891.9 L669.5,891.7 L670.5,892.6 L671.5,895.0 L672.5,893.9 L673.5,896.9 L674.5,896.7" fill="none" stroke="#7ad97a" stroke-width="1.0" stroke-linejoin="round"/>
<path d="M368.0,733.6 L368.9,721.6 L369.2,715.6 L369.6,723.6 L370.4,733.6" fill="none" stroke="#fcbf86" stroke-width="1.2"/>
<path d="M503.0,767.9 L503.9,758.2 L504.2,752.2 L504.6,760.2 L505.4,767.9" fill="none" stroke="#fcbf86" stroke-width="1.2"/>
<path d="M641.8,784.9 L642.7,770.0 L643.0,764.0 L643.4,772.0 L644.2,784.9" fill="none" stroke="#fcbf86" stroke-width="1.2"/>
<polyline points="196.0,833.1 235.7,833.1 304.3,694.9 372.9,833.1 441.6,694.9 510.2,833.1 578.9,694.9 647.5,833.1 675.8,833.1" fill="none" stroke="#6e6e6e" stroke-width="2.3" stroke-linejoin="miter"/>
</g>
<line x1="675.8" y1="687.3" x2="675.8" y2="916.6" stroke="#7c7c7c" stroke-width="2.3"/>
<line x1="669.3" y1="916.0" x2="675.8" y2="916.0" stroke="#7c7c7c" stroke-width="2.2"/>
<line x1="669.3" y1="860.7" x2="675.8" y2="860.7" stroke="#7c7c7c" stroke-width="2.2"/>
<line x1="669.3" y1="805.4" x2="675.8" y2="805.4" stroke="#7c7c7c" stroke-width="2.2"/>
<line x1="669.3" y1="750.2" x2="675.8" y2="750.2" stroke="#7c7c7c" stroke-width="2.2"/>
<line x1="669.3" y1="694.9" x2="675.8" y2="694.9" stroke="#7c7c7c" stroke-width="2.2"/>
<line x1="672.3" y1="888.4" x2="675.8" y2="888.4" stroke="#7c7c7c" stroke-width="2.2"/>
<line x1="672.3" y1="833.1" x2="675.8" y2="833.1" stroke="#7c7c7c" stroke-width="2.2"/>
<line x1="672.3" y1="777.8" x2="675.8" y2="777.8" stroke="#7c7c7c" stroke-width="2.2"/>
<line x1="672.3" y1="722.5" x2="675.8" y2="722.5" stroke="#7c7c7c" stroke-width="2.2"/>
<line x1="196.0" y1="686.05" x2="196.0" y2="917.85" stroke="#1c1c1c" stroke-width="2.9"/>
<line x1="189.0" y1="916.6" x2="196.0" y2="916.6" stroke="#1c1c1c" stroke-width="2.9"/>
<line x1="189.0" y1="868.2" x2="196.0" y2="868.2" stroke="#1c1c1c" stroke-width="2.9"/>
<line x1="189.0" y1="819.8" x2="196.0" y2="819.8" stroke="#1c1c1c" stroke-width="2.9"/>
<line x1="189.0" y1="771.4" x2="196.0" y2="771.4" stroke="#1c1c1c" stroke-width="2.9"/>
<line x1="189.0" y1="723.0" x2="196.0" y2="723.0" stroke="#1c1c1c" stroke-width="2.9"/>
<line x1="192.5" y1="892.4" x2="196.0" y2="892.4" stroke="#1c1c1c" stroke-width="2.9"/>
<line x1="192.5" y1="844.0" x2="196.0" y2="844.0" stroke="#1c1c1c" stroke-width="2.9"/>
<line x1="192.5" y1="795.6" x2="196.0" y2="795.6" stroke="#1c1c1c" stroke-width="2.9"/>
<line x1="192.5" y1="747.2" x2="196.0" y2="747.2" stroke="#1c1c1c" stroke-width="2.9"/>
<line x1="192.5" y1="698.8" x2="196.0" y2="698.8" stroke="#1c1c1c" stroke-width="2.9"/>
<line x1="196.0" y1="687.3" x2="676.8" y2="687.3" stroke="#1c1c1c" stroke-width="2.9"/>
<line x1="196.0" y1="916.6" x2="676.8" y2="916.6" stroke="#1c1c1c" stroke-width="2.9"/>
<line x1="220.9" y1="916.6" x2="220.9" y2="922.1" stroke="#1c1c1c" stroke-width="2.9"/>
<line x1="392.5" y1="916.6" x2="392.5" y2="922.1" stroke="#1c1c1c" stroke-width="2.9"/>
<line x1="564.1" y1="916.6" x2="564.1" y2="922.1" stroke="#1c1c1c" stroke-width="2.9"/>
<line x1="306.7" y1="916.6" x2="306.7" y2="919.6" stroke="#1c1c1c" stroke-width="2.9"/>
<line x1="478.3" y1="916.6" x2="478.3" y2="919.6" stroke="#1c1c1c" stroke-width="2.9"/>
<line x1="649.9" y1="916.6" x2="649.9" y2="919.6" stroke="#1c1c1c" stroke-width="2.9"/>
<text x="220.9" y="943.9" font-size="22" text-anchor="middle" fill="#0a0a0a" stroke="#0a0a0a" stroke-width="0.35" font-weight="normal" >500</text>
<text x="392.5" y="943.9" font-size="22" text-anchor="middle" fill="#0a0a0a" stroke="#0a0a0a" stroke-width="0.35" font-weight="normal" >1000</text>
<text x="564.1" y="943.9" font-size="22" text-anchor="middle" fill="#0a0a0a" stroke="#0a0a0a" stroke-width="0.35" font-weight="normal" >1500</text>
<text x="435.9" y="978.2" font-size="22" text-anchor="middle" fill="#0a0a0a" stroke="#0a0a0a" stroke-width="0.35" font-weight="normal" >Time / s</text>
<text x="183.5" y="923.5" font-size="22" text-anchor="end" fill="#0a0a0a" stroke="#0a0a0a" stroke-width="0.35" font-weight="normal" >0.0</text>
<text x="183.5" y="875.1" font-size="22" text-anchor="end" fill="#0a0a0a" stroke="#0a0a0a" stroke-width="0.35" font-weight="normal" >0.2</text>
<text x="183.5" y="826.7" font-size="22" text-anchor="end" fill="#0a0a0a" stroke="#0a0a0a" stroke-width="0.35" font-weight="normal" >0.4</text>
<text x="183.5" y="778.3" font-size="22" text-anchor="end" fill="#0a0a0a" stroke="#0a0a0a" stroke-width="0.35" font-weight="normal" >0.6</text>
<text x="183.5" y="729.9" font-size="22" text-anchor="end" fill="#0a0a0a" stroke="#0a0a0a" stroke-width="0.35" font-weight="normal" >0.8</text>
<g clip-path="url(#clipbLc)">
<path d="M197.3,913.3 L201.9,913.4 L208.5,913.6 L216.2,913.7 L224.3,913.9 L232.0,914.0 L238.7,914.0 L244.5,913.9 L250.1,913.8 L255.3,913.7 L260.1,913.4 L264.3,913.2 L267.9,912.8 L270.6,912.3 L272.6,911.8 L274.0,911.2 L275.1,910.5 L276.2,909.9 L277.6,909.2 L279.2,908.5 L280.9,907.7 L282.5,906.9 L284.1,906.1 L285.8,905.5 L287.4,905.0 L289.1,904.8 L290.7,904.7 L292.4,904.8 L294.0,904.9 L295.6,905.0 L297.1,905.0 L298.5,904.9 L299.7,904.6 L300.9,904.3 L302.1,904.1 L303.2,904.1 L304.4,904.3 L305.6,904.8 L306.7,905.6 L307.9,906.6 L309.1,907.5 L310.3,908.5 L311.7,909.2 L313.1,909.8 L314.6,910.3 L316.1,910.8 L317.8,911.2 L319.6,911.4 L321.5,911.6 L323.8,911.6 L326.4,911.5 L329.1,911.3 L331.8,911.0 L334.2,910.7 L336.1,910.4 L337.5,910.2 L338.4,909.9 L339.1,909.7 L339.7,909.4 L340.3,909.0 L341.0,908.5 L341.8,908.0 L342.6,907.5 L343.5,906.9 L344.3,906.2 L345.2,905.1 L346.1,903.6 L347.1,901.7 L348.1,899.6 L349.2,897.1 L350.2,894.3 L351.2,891.1 L352.2,887.4 L353.1,883.2 L354.0,878.3 L354.9,873.1 L355.7,867.7 L356.5,862.2 L357.2,857.0 L357.8,851.9 L358.4,846.8 L358.9,841.8 L359.4,836.7 L359.9,831.6 L360.3,826.5 L360.7,821.5 L361.0,816.7 L361.3,811.9 L361.6,807.0 L361.9,801.8 L362.3,796.1 L362.7,789.8 L363.2,782.9 L363.7,775.7 L364.3,768.6 L364.8,761.8 L365.4,755.6 L366.0,749.5 L366.7,743.1 L367.3,737.1 L368.0,732.0 L368.7,728.5 L369.4,727.2 L370.1,728.5 L370.8,732.0 L371.5,737.1 L372.2,743.1 L372.9,749.5 L373.5,755.6 L374.1,761.8 L374.6,768.6 L375.1,775.7 L375.5,782.9 L376.0,789.8 L376.5,796.1 L377.0,801.8 L377.5,807.0 L378.1,811.9 L378.6,816.7 L379.1,821.5 L379.6,826.5 L380.1,831.6 L380.5,836.7 L380.9,841.8 L381.4,846.8 L381.9,851.9 L382.6,857.0 L383.4,862.2 L384.4,867.7 L385.5,873.1 L386.6,878.3 L387.6,883.2 L388.7,887.4 L389.7,891.0 L390.7,894.2 L391.7,897.0 L392.8,899.4 L393.8,901.6 L394.8,903.6 L395.7,905.3 L396.6,906.7 L397.5,907.9 L398.4,908.8 L399.6,909.6 L401.0,910.4 L402.8,911.1 L405.0,911.7 L407.3,912.1 L409.7,912.4 L411.9,912.7 L414.0,912.8 L415.8,912.8 L417.5,912.6 L419.1,912.3 L420.6,912.0 L422.1,911.7 L423.7,911.6 L425.4,911.7 L427.1,911.8 L428.8,912.1 L430.4,912.3 L432.0,912.4 L433.4,912.3 L434.6,911.9 L435.7,911.3 L436.7,910.6 L437.7,910.0 L438.6,909.4 L439.7,909.2 L440.7,909.3 L441.6,909.6 L442.5,910.1 L443.6,910.7 L445.1,911.2 L447.0,911.6 L449.6,911.9 L452.9,912.3 L456.4,912.6 L460.1,912.8 L463.5,912.9 L466.5,912.8 L469.0,912.6 L471.3,912.2 L473.4,911.8 L475.3,911.1 L477.0,910.3 L478.7,909.2 L480.2,907.9 L481.5,906.6 L482.7,905.0 L483.8,903.1 L484.9,900.9 L486.0,898.2 L487.1,895.1 L488.2,891.8 L489.2,888.1 L490.2,883.9 L491.2,879.2 L492.1,873.9 L493.0,867.8 L493.8,860.9 L494.6,853.5 L495.4,845.7 L496.1,837.8 L496.9,830.0 L497.6,821.8 L498.4,813.1 L499.1,804.2 L499.8,795.6 L500.5,787.9 L501.1,781.4 L501.7,776.0 L502.2,771.3 L502.7,767.4 L503.2,764.4 L503.7,762.6 L504.2,761.9 L504.8,762.6 L505.4,764.6 L506.0,767.7 L506.7,771.7 L507.3,776.3 L507.9,781.4 L508.5,787.3 L509.1,794.2 L509.7,801.8 L510.3,809.7 L510.9,817.6 L511.5,825.2 L512.1,832.7 L512.7,840.4 L513.3,848.2 L513.9,855.7 L514.5,862.7 L515.2,869.0 L515.9,874.6 L516.7,879.7 L517.4,884.4 L518.2,888.6 L519.1,892.4 L520.1,895.8 L521.1,898.8 L522.2,901.2 L523.3,903.3 L524.5,905.1 L525.9,906.6 L527.4,908.0 L529.0,909.2 L530.6,910.1 L532.4,910.8 L534.4,911.3 L536.7,911.7 L539.5,912.1 L543.0,912.4 L547.2,912.5 L551.7,912.5 L556.2,912.4 L560.4,912.2 L563.9,912.1 L566.6,911.9 L568.9,911.5 L570.8,911.1 L572.5,910.7 L574.2,910.5 L576.1,910.4 L578.0,910.6 L579.9,911.0 L581.7,911.5 L583.6,912.0 L585.8,912.5 L588.2,912.8 L591.1,913.0 L594.3,913.2 L597.8,913.2 L601.3,913.2 L604.6,913.1 L607.7,912.8 L610.5,912.4 L613.2,911.8 L615.8,911.2 L618.2,910.3 L620.3,909.3 L622.3,908.0 L624.0,906.7 L625.3,905.4 L626.5,903.9 L627.5,901.9 L628.5,899.3 L629.6,895.8 L630.7,891.3 L631.8,885.9 L632.9,879.8 L633.9,873.3 L634.8,866.4 L635.7,859.3 L636.5,851.7 L637.2,843.3 L637.9,834.6 L638.6,826.0 L639.2,817.9 L639.8,810.6 L640.4,803.7 L640.9,796.8 L641.4,790.3 L641.9,784.9 L642.5,780.9 L643.0,778.9 L643.6,779.3 L644.2,781.6 L644.8,785.4 L645.4,790.2 L646.0,795.5 L646.6,800.8 L647.2,806.3 L647.8,812.5 L648.4,819.2 L649.0,826.2 L649.6,833.1 L650.3,839.8 L651.0,846.5 L651.8,853.4 L652.6,860.3 L653.4,867.0 L654.3,873.2 L655.2,878.7 L656.1,883.5 L657.1,887.7 L658.1,891.5 L659.1,894.9 L660.2,897.9 L661.3,900.7 L662.5,903.1 L663.7,905.1 L665.0,906.8 L666.2,908.2 L667.5,909.3 L668.6,910.4 L669.7,911.3 L670.9,911.8 L672.0,912.2 L673.0,912.4 L673.8,912.6 L674.4,912.8" fill="none" stroke="#f28a26" stroke-width="2.6" stroke-linejoin="round" stroke-linecap="round"/>
<path d="M197.3,914.0 L201.7,914.2 L207.6,914.4 L214.7,914.7 L222.5,915.0 L230.6,915.2 L238.7,915.3 L247.5,915.2 L257.4,915.1 L267.7,914.9 L277.5,914.6 L286.0,914.3 L292.2,914.0 L295.9,913.9 L297.5,914.0 L297.8,914.0 L297.4,913.8 L297.0,913.1 L297.1,911.6 L297.7,909.1 L298.2,905.7 L298.7,901.8 L299.1,897.8 L299.6,894.0 L300.0,890.9 L300.4,888.3 L300.8,885.8 L301.2,883.6 L301.6,881.8 L302.1,880.6 L302.5,880.0 L303.0,880.3 L303.5,881.3 L304.0,882.8 L304.5,884.7 L305.0,886.6 L305.6,888.5 L306.1,890.4 L306.7,892.5 L307.2,894.7 L307.8,896.9 L308.5,898.9 L309.3,900.7 L310.3,902.3 L311.3,903.7 L312.4,904.9 L313.7,906.1 L315.1,907.1 L316.6,908.0 L318.4,908.8 L320.3,909.4 L322.4,910.0 L324.6,910.4 L326.7,910.7 L328.8,910.9 L330.8,910.9 L332.7,910.8 L334.7,910.5 L336.7,910.3 L338.7,910.0 L340.9,909.9 L343.3,909.9 L345.9,910.0 L348.5,910.1 L351.1,910.3 L353.5,910.4 L355.5,910.4 L357.1,910.4 L358.4,910.5 L359.4,910.6 L360.4,910.5 L361.3,910.3 L362.3,909.7 L363.4,909.0 L364.4,908.1 L365.4,907.1 L366.4,905.8 L367.4,904.0 L368.4,901.6 L369.4,898.3 L370.5,894.3 L371.5,889.7 L372.5,885.1 L373.5,880.8 L374.5,877.3 L375.4,874.3 L376.3,871.4 L377.2,868.9 L378.0,866.9 L378.8,865.6 L379.6,865.1 L380.3,865.6 L381.0,867.1 L381.6,869.2 L382.2,871.7 L382.9,874.5 L383.6,877.3 L384.4,880.3 L385.2,883.8 L386.0,887.5 L386.9,891.1 L387.8,894.6 L388.7,897.6 L389.6,900.2 L390.4,902.6 L391.2,904.7 L392.1,906.6 L393.3,908.3 L394.8,909.7 L396.7,910.8 L398.9,911.5 L401.4,911.9 L404.0,912.2 L406.6,912.5 L409.1,912.8 L411.6,913.1 L414.3,913.4 L416.9,913.6 L419.4,913.8 L421.7,913.9 L423.7,914.0 L425.2,914.1 L426.5,914.2 L427.5,914.3 L428.3,914.3 L429.1,914.2 L430.0,914.0 L430.9,913.7 L431.8,913.4 L432.6,913.0 L433.4,912.4 L434.2,911.5 L434.9,910.4 L435.6,908.7 L436.2,906.6 L436.8,904.2 L437.4,901.8 L438.0,899.7 L438.5,898.2 L439.0,897.3 L439.4,896.7 L439.7,896.5 L440.1,896.5 L440.5,896.7 L441.0,897.0 L441.5,897.6 L442.1,898.4 L442.6,899.5 L443.3,900.7 L443.9,901.9 L444.6,903.1 L445.2,904.3 L445.7,905.6 L446.2,907.0 L446.9,908.3 L448.0,909.5 L449.5,910.4 L451.5,911.1 L454.0,911.5 L456.8,911.8 L459.8,912.1 L463.1,912.2 L466.5,912.3 L470.3,912.4 L474.5,912.5 L479.0,912.5 L483.4,912.4 L487.5,912.1 L490.9,911.6 L493.7,910.9 L496.1,910.1 L498.1,909.1 L499.9,907.8 L501.5,906.2 L503.0,904.3 L504.4,901.8 L505.5,898.8 L506.5,895.5 L507.4,892.1 L508.2,888.9 L509.1,886.0 L510.0,883.3 L510.8,880.5 L511.6,877.8 L512.4,875.5 L513.2,873.7 L514.0,872.7 L514.8,872.5 L515.6,872.9 L516.4,873.8 L517.2,875.2 L518.0,876.8 L518.9,878.7 L519.8,881.0 L520.8,883.8 L521.8,886.9 L522.8,890.1 L523.8,893.1 L524.9,895.8 L526.0,898.2 L527.1,900.5 L528.2,902.7 L529.4,904.7 L530.7,906.5 L532.2,908.0 L533.8,909.3 L535.4,910.3 L537.1,911.2 L539.1,911.8 L541.5,912.4 L544.4,912.8 L548.3,913.2 L553.1,913.4 L558.3,913.6 L563.4,913.5 L567.9,913.3 L571.2,912.8 L573.2,912.0 L574.2,910.8 L574.5,909.4 L574.5,907.9 L574.5,906.6 L574.8,905.5 L575.3,904.6 L575.7,903.7 L576.0,902.9 L576.4,902.3 L576.8,902.0 L577.3,901.9 L577.8,902.2 L578.3,902.9 L578.8,903.8 L579.4,904.8 L580.1,905.8 L580.9,906.7 L581.7,907.6 L582.4,908.5 L583.2,909.4 L584.4,910.2 L586.0,911.0 L588.2,911.6 L591.3,912.1 L595.2,912.4 L599.5,912.7 L604.0,912.8 L608.5,912.9 L612.6,912.8 L616.5,912.7 L620.5,912.7 L624.5,912.6 L628.2,912.2 L631.6,911.5 L634.5,910.4 L636.9,908.7 L638.7,906.5 L640.3,904.0 L641.6,901.3 L642.9,898.5 L644.2,895.8 L645.6,893.0 L646.9,889.9 L648.2,886.7 L649.4,883.7 L650.5,880.9 L651.5,878.7 L652.3,876.9 L652.9,875.4 L653.4,874.3 L653.9,873.4 L654.5,872.9 L655.2,872.7 L656.1,872.9 L657.0,873.6 L658.0,874.6 L659.1,875.8 L660.2,877.2 L661.3,878.7 L662.5,880.4 L663.7,882.5 L665.0,884.8 L666.2,887.1 L667.5,889.1 L668.6,890.9 L669.7,892.3 L670.9,893.6 L672.0,894.7 L673.0,895.6 L673.8,896.4 L674.4,897.0" fill="none" stroke="#2bbf3f" stroke-width="2.8" stroke-linejoin="round" stroke-linecap="round"/>
</g>
<clipPath id="clipRc"><rect x="725.3000000000001" y="688.4000000000001" width="476.99999999999994" height="227.2"/></clipPath>
<clipPath id="clipbRc"><rect x="725.3000000000001" y="688.4000000000001" width="476.99999999999994" height="229.89999999999998"/></clipPath>
<g clip-path="url(#clipRc)">
<path d="M724.6,914.6 L725.6,913.9 L726.6,914.0 L727.6,914.8 L728.6,913.8 L729.6,913.9 L730.6,913.8 L731.6,913.3 L732.6,913.7 L733.6,913.2 L734.6,913.7 L735.6,913.8 L736.6,913.0 L737.6,913.7 L738.6,914.4 L739.6,913.6 L740.6,913.7 L741.6,914.2 L742.6,915.0 L743.6,913.5 L744.6,914.1 L745.6,914.5 L746.6,913.6 L747.6,914.4 L748.6,914.9 L749.6,914.0 L750.6,913.0 L751.6,914.5 L752.6,914.9 L753.6,913.9 L754.6,913.2 L755.6,913.9 L756.6,914.4 L757.6,913.6 L758.6,914.4 L759.6,913.6 L760.6,914.9 L761.6,914.8 L762.6,914.7 L763.6,914.6 L764.6,914.6 L765.6,914.7 L766.6,914.7 L767.6,913.7 L768.6,914.3 L769.6,914.4 L770.6,915.0 L771.6,914.9 L772.6,914.4 L773.6,914.2 L774.6,914.2 L775.6,914.8 L776.6,914.8 L777.6,914.8 L778.6,914.2 L779.6,914.6 L780.6,914.4 L781.6,914.8 L782.6,914.8 L783.6,914.5 L784.6,914.3 L785.6,914.6 L786.6,915.0 L787.6,914.4 L788.6,914.2 L789.6,913.6 L790.6,914.2 L791.6,913.7 L792.6,913.5 L793.6,913.7 L794.6,913.6 L795.6,912.7 L796.6,913.7 L797.6,911.8 L798.6,911.9 L799.6,912.3 L800.6,911.5 L801.6,911.0 L802.6,910.5 L803.6,910.4 L804.6,909.5 L805.6,909.2 L806.6,908.5 L807.6,907.1 L808.6,906.1 L809.6,905.9 L810.6,907.4 L811.6,907.8 L812.6,906.6 L813.6,906.3 L814.6,905.9 L815.6,904.3 L816.6,905.3 L817.6,904.1 L818.6,904.2 L819.6,905.3 L820.6,904.5 L821.6,902.7 L822.6,904.1 L823.6,904.0 L824.6,903.9 L825.6,903.6 L826.6,904.6 L827.6,905.9 L828.6,904.7 L829.6,905.7 L830.6,906.0 L831.6,905.9 L832.6,906.2 L833.6,907.3 L834.6,906.5 L835.6,907.1 L836.6,907.0 L837.6,908.4 L838.6,908.0 L839.6,908.8 L840.6,909.0 L841.6,909.8 L842.6,910.2 L843.6,909.8 L844.6,910.6 L845.6,909.7 L846.6,910.7 L847.6,911.3 L848.6,912.0 L849.6,911.4 L850.6,912.2 L851.6,912.3 L852.6,912.2 L853.6,911.4 L854.6,911.4 L855.6,912.6 L856.6,911.6 L857.6,912.8 L858.6,912.7 L859.6,911.7 L860.6,912.2 L861.6,911.7 L862.6,911.5 L863.6,910.4 L864.6,910.8 L865.6,910.1 L866.6,909.7 L867.6,908.8 L868.6,907.3 L869.6,906.2 L870.6,904.2 L871.6,903.7 L872.6,901.4 L873.6,899.5 L874.6,895.3 L875.6,890.9 L876.6,888.7 L877.6,882.6 L878.6,875.6 L879.6,868.3 L880.6,860.5 L881.6,847.9 L882.6,836.6 L883.6,822.8 L884.6,811.8 L885.6,799.2 L886.6,778.9 L887.6,772.9 L888.6,761.7 L889.6,746.2 L890.6,748.6 L891.6,722.3 L892.6,721.2 L893.6,725.9 L894.6,716.2 L895.6,722.4 L896.6,721.9 L897.6,736.4 L898.6,750.5 L899.6,761.6 L900.6,773.0 L901.6,787.3 L902.6,802.1 L903.6,808.4 L904.6,822.7 L905.6,829.8 L906.6,845.9 L907.6,849.2 L908.6,860.7 L909.6,865.6 L910.6,874.8 L911.6,878.4 L912.6,882.6 L913.6,886.7 L914.6,891.1 L915.6,893.8 L916.6,895.3 L917.6,897.7 L918.6,900.1 L919.6,901.8 L920.6,902.7 L921.6,903.9 L922.6,903.0 L923.6,904.7 L924.6,905.2 L925.6,906.5 L926.6,907.0 L927.6,907.1 L928.6,906.6 L929.6,906.5 L930.6,908.5 L931.6,907.2 L932.6,906.9 L933.6,906.9 L934.6,906.8 L935.6,907.4 L936.6,906.9 L937.6,908.2 L938.6,907.7 L939.6,905.4 L940.6,907.5 L941.6,908.3 L942.6,908.2 L943.6,908.7 L944.6,908.5 L945.6,908.5 L946.6,906.0 L947.6,908.8 L948.6,907.4 L949.6,908.0 L950.6,907.6 L951.6,907.8 L952.6,908.3 L953.6,907.5 L954.6,907.3 L955.6,908.2 L956.6,908.8 L957.6,907.7 L958.6,908.4 L959.6,907.8 L960.6,907.3 L961.6,908.7 L962.6,906.8 L963.6,908.2 L964.6,908.1 L965.6,909.3 L966.6,908.4 L967.6,909.1 L968.6,908.9 L969.6,909.2 L970.6,908.6 L971.6,909.3 L972.6,908.9 L973.6,910.1 L974.6,909.8 L975.6,908.8 L976.6,909.8 L977.6,909.8 L978.6,909.6 L979.6,909.2 L980.6,909.9 L981.6,910.4 L982.6,910.9 L983.6,910.3 L984.6,911.0 L985.6,910.2 L986.6,911.0 L987.6,910.9 L988.6,911.2 L989.6,911.7 L990.6,911.7 L991.6,911.5 L992.6,912.2 L993.6,911.7 L994.6,911.0 L995.6,912.2 L996.6,911.6 L997.6,912.5 L998.6,912.1 L999.6,910.1 L1000.6,908.6 L1001.6,907.8 L1002.6,910.2 L1003.6,909.1 L1004.6,909.5 L1005.6,909.2 L1006.6,907.8 L1007.6,907.8 L1008.6,904.6 L1009.6,903.5 L1010.6,901.1 L1011.6,898.1 L1012.6,895.1 L1013.6,892.3 L1014.6,885.5 L1015.6,881.1 L1016.6,876.3 L1017.6,865.1 L1018.6,855.3 L1019.6,847.7 L1020.6,832.1 L1021.6,827.4 L1022.6,815.7 L1023.6,800.5 L1024.6,785.5 L1025.6,780.2 L1026.6,770.7 L1027.6,754.1 L1028.6,753.7 L1029.6,744.4 L1030.6,751.2 L1031.6,744.7 L1032.6,747.6 L1033.6,749.3 L1034.6,755.5 L1035.6,767.7 L1036.6,778.4 L1037.6,790.9 L1038.6,806.4 L1039.6,816.9 L1040.6,824.8 L1041.6,837.0 L1042.6,847.1 L1043.6,852.3 L1044.6,861.7 L1045.6,868.7 L1046.6,872.9 L1047.6,874.7 L1048.6,880.4 L1049.6,881.3 L1050.6,888.5 L1051.6,890.8 L1052.6,893.6 L1053.6,895.5 L1054.6,895.0 L1055.6,899.9 L1056.6,900.0 L1057.6,901.0 L1058.6,903.0 L1059.6,903.6 L1060.6,902.5 L1061.6,905.2 L1062.6,904.6 L1063.6,905.7 L1064.6,905.0 L1065.6,905.7 L1066.6,906.1 L1067.6,905.6 L1068.6,906.8 L1069.6,907.4 L1070.6,907.1 L1071.6,907.0 L1072.6,906.1 L1073.6,907.4 L1074.6,907.8 L1075.6,907.8 L1076.6,907.7 L1077.6,908.5 L1078.6,907.6 L1079.6,908.0 L1080.6,907.0 L1081.6,908.2 L1082.6,907.2 L1083.6,907.4 L1084.6,908.6 L1085.6,907.2 L1086.6,907.5 L1087.6,907.9 L1088.6,909.0 L1089.6,908.3 L1090.6,909.1 L1091.6,909.0 L1092.6,907.8 L1093.6,908.4 L1094.6,908.8 L1095.6,908.5 L1096.6,909.1 L1097.6,909.2 L1098.6,909.2 L1099.6,909.0 L1100.6,908.9 L1101.6,909.3 L1102.6,910.5 L1103.6,910.1 L1104.6,910.3 L1105.6,910.2 L1106.6,910.5 L1107.6,911.3 L1108.6,909.9 L1109.6,910.8 L1110.6,910.6 L1111.6,910.7 L1112.6,911.5 L1113.6,911.0 L1114.6,911.7 L1115.6,910.4 L1116.6,911.6 L1117.6,908.8 L1118.6,911.6 L1119.6,911.9 L1120.6,911.0 L1121.6,911.5 L1122.6,911.7 L1123.6,911.8 L1124.6,911.7 L1125.6,911.7 L1126.6,911.8 L1127.6,911.7 L1128.6,911.8 L1129.6,911.2 L1130.6,912.2 L1131.6,912.4 L1132.6,912.3 L1133.6,911.5 L1134.6,911.3 L1135.6,911.5 L1136.6,911.3 L1137.6,911.7 L1138.6,910.8 L1139.6,909.8 L1140.6,910.1 L1141.6,909.9 L1142.6,907.7 L1143.6,907.1 L1144.6,907.0 L1145.6,906.4 L1146.6,903.8 L1147.6,902.7 L1148.6,899.1 L1149.6,897.8 L1150.6,894.3 L1151.6,891.5 L1152.6,884.5 L1153.6,880.7 L1154.6,874.9 L1155.6,863.7 L1156.6,850.7 L1157.6,843.4 L1158.6,832.0 L1159.6,822.0 L1160.6,810.5 L1161.6,800.1 L1162.6,789.4 L1163.6,791.4 L1164.6,780.1 L1165.6,765.3 L1166.6,759.0 L1167.6,762.0 L1168.6,764.6 L1169.6,762.5 L1170.6,769.0 L1171.6,773.2 L1172.6,776.3 L1173.6,791.2 L1174.6,800.0 L1175.6,810.4 L1176.6,821.6 L1177.6,831.2 L1178.6,837.5 L1179.6,848.1 L1180.6,854.9 L1181.6,857.2 L1182.6,864.3 L1183.6,869.1 L1184.6,874.4 L1185.6,876.8 L1186.6,879.5 L1187.6,885.0 L1188.6,887.8 L1189.6,889.6 L1190.6,893.1 L1191.6,894.0 L1192.6,894.8 L1193.6,896.6 L1194.6,899.3 L1195.6,898.5 L1196.6,900.0 L1197.6,902.5 L1198.6,904.4 L1199.6,904.8 L1200.6,906.3 L1201.6,906.5 L1202.6,907.7" fill="none" stroke="#fcbf86" stroke-width="1.0" stroke-linejoin="round"/>
<path d="M724.6,914.8 L725.6,914.6 L726.6,914.9 L727.6,915.0 L728.6,914.7 L729.6,914.8 L730.6,914.9 L731.6,914.6 L732.6,914.7 L733.6,914.5 L734.6,914.9 L735.6,914.6 L736.6,914.9 L737.6,914.5 L738.6,914.8 L739.6,914.1 L740.6,914.4 L741.6,914.8 L742.6,914.8 L743.6,914.8 L744.6,914.7 L745.6,914.4 L746.6,914.9 L747.6,914.9 L748.6,914.1 L749.6,914.7 L750.6,915.0 L751.6,915.0 L752.6,914.6 L753.6,914.9 L754.6,914.6 L755.6,914.8 L756.6,915.0 L757.6,914.8 L758.6,914.8 L759.6,915.1 L760.6,914.9 L761.6,914.5 L762.6,914.8 L763.6,914.8 L764.6,915.0 L765.6,914.6 L766.6,914.3 L767.6,915.0 L768.6,914.7 L769.6,914.7 L770.6,915.0 L771.6,915.0 L772.6,914.8 L773.6,914.5 L774.6,915.1 L775.6,914.3 L776.6,914.7 L777.6,915.0 L778.6,913.3 L779.6,915.1 L780.6,914.7 L781.6,915.1 L782.6,914.8 L783.6,914.3 L784.6,914.8 L785.6,914.8 L786.6,914.6 L787.6,914.3 L788.6,914.7 L789.6,914.7 L790.6,915.0 L791.6,914.5 L792.6,914.7 L793.6,914.8 L794.6,914.7 L795.6,914.6 L796.6,914.9 L797.6,914.5 L798.6,914.9 L799.6,914.8 L800.6,914.8 L801.6,915.0 L802.6,914.2 L803.6,914.9 L804.6,914.4 L805.6,914.6 L806.6,914.6 L807.6,914.9 L808.6,914.9 L809.6,915.1 L810.6,914.8 L811.6,914.7 L812.6,914.9 L813.6,914.8 L814.6,914.4 L815.6,914.8 L816.6,915.0 L817.6,915.0 L818.6,914.7 L819.6,914.4 L820.6,911.8 L821.6,914.1 L822.6,914.0 L823.6,914.5 L824.6,914.8 L825.6,913.3 L826.6,914.3 L827.6,913.7 L828.6,914.0 L829.6,910.6 L830.6,910.8 L831.6,910.3 L832.6,909.6 L833.6,909.4 L834.6,910.3 L835.6,910.1 L836.6,909.6 L837.6,910.6 L838.6,912.2 L839.6,911.9 L840.6,912.6 L841.6,913.1 L842.6,912.6 L843.6,913.3 L844.6,914.1 L845.6,913.7 L846.6,913.2 L847.6,913.9 L848.6,913.9 L849.6,913.0 L850.6,914.5 L851.6,914.1 L852.6,915.1 L853.6,914.8 L854.6,914.4 L855.6,914.5 L856.6,915.1 L857.6,915.0 L858.6,914.3 L859.6,914.8 L860.6,914.6 L861.6,914.8 L862.6,914.8 L863.6,914.9 L864.6,914.7 L865.6,914.8 L866.6,914.0 L867.6,914.5 L868.6,913.7 L869.6,914.9 L870.6,914.7 L871.6,915.1 L872.6,914.9 L873.6,914.5 L874.6,914.8 L875.6,914.0 L876.6,914.9 L877.6,914.4 L878.6,914.6 L879.6,914.7 L880.6,914.4 L881.6,914.2 L882.6,914.5 L883.6,914.2 L884.6,914.0 L885.6,914.6 L886.6,914.7 L887.6,914.2 L888.6,914.9 L889.6,913.5 L890.6,913.9 L891.6,913.4 L892.6,914.4 L893.6,912.9 L894.6,912.7 L895.6,910.6 L896.6,909.8 L897.6,909.6 L898.6,908.8 L899.6,908.3 L900.6,908.0 L901.6,907.4 L902.6,908.0 L903.6,908.4 L904.6,908.7 L905.6,909.4 L906.6,909.9 L907.6,910.8 L908.6,910.5 L909.6,912.1 L910.6,913.3 L911.6,913.6 L912.6,913.9 L913.6,914.6 L914.6,911.7 L915.6,914.2 L916.6,914.4 L917.6,914.7 L918.6,914.7 L919.6,914.8 L920.6,915.0 L921.6,914.2 L922.6,913.4 L923.6,915.0 L924.6,914.7 L925.6,914.8 L926.6,914.9 L927.6,914.9 L928.6,914.7 L929.6,914.8 L930.6,914.5 L931.6,914.6 L932.6,915.0 L933.6,914.7 L934.6,914.5 L935.6,915.0 L936.6,914.7 L937.6,914.3 L938.6,914.5 L939.6,914.5 L940.6,914.8 L941.6,915.0 L942.6,915.1 L943.6,914.1 L944.6,915.0 L945.6,914.9 L946.6,914.9 L947.6,914.9 L948.6,914.8 L949.6,914.9 L950.6,914.9 L951.6,915.0 L952.6,914.9 L953.6,914.5 L954.6,915.1 L955.6,915.0 L956.6,914.4 L957.6,914.7 L958.6,913.9 L959.6,914.4 L960.6,915.0 L961.6,914.9 L962.6,914.9 L963.6,914.3 L964.6,914.4 L965.6,912.2 L966.6,911.6 L967.6,910.9 L968.6,911.8 L969.6,912.5 L970.6,912.3 L971.6,911.7 L972.6,912.5 L973.6,912.9 L974.6,914.0 L975.6,913.7 L976.6,914.2 L977.6,914.1 L978.6,914.2 L979.6,915.0 L980.6,914.4 L981.6,914.0 L982.6,915.0 L983.6,914.4 L984.6,914.0 L985.6,914.7 L986.6,914.8 L987.6,914.6 L988.6,914.5 L989.6,914.5 L990.6,915.1 L991.6,915.0 L992.6,914.7 L993.6,914.6 L994.6,914.6 L995.6,914.7 L996.6,915.0 L997.6,915.0 L998.6,914.9 L999.6,915.0 L1000.6,914.8 L1001.6,914.7 L1002.6,914.5 L1003.6,915.1 L1004.6,915.1 L1005.6,914.6 L1006.6,914.9 L1007.6,915.1 L1008.6,914.3 L1009.6,914.8 L1010.6,914.9 L1011.6,914.7 L1012.6,914.6 L1013.6,915.1 L1014.6,914.7 L1015.6,914.3 L1016.6,915.0 L1017.6,915.0 L1018.6,914.7 L1019.6,914.9 L1020.6,914.3 L1021.6,914.5 L1022.6,914.0 L1023.6,914.4 L1024.6,915.0 L1025.6,915.0 L1026.6,914.5 L1027.6,914.0 L1028.6,914.3 L1029.6,913.9 L1030.6,913.9 L1031.6,912.5 L1032.6,912.3 L1033.6,910.8 L1034.6,910.9 L1035.6,909.6 L1036.6,909.6 L1037.6,908.5 L1038.6,908.2 L1039.6,908.3 L1040.6,907.7 L1041.6,909.1 L1042.6,909.3 L1043.6,908.8 L1044.6,910.3 L1045.6,910.3 L1046.6,911.4 L1047.6,911.3 L1048.6,913.8 L1049.6,914.2 L1050.6,914.0 L1051.6,913.8 L1052.6,914.5 L1053.6,915.0 L1054.6,914.5 L1055.6,914.0 L1056.6,914.9 L1057.6,914.7 L1058.6,914.9 L1059.6,915.0 L1060.6,914.8 L1061.6,913.9 L1062.6,915.0 L1063.6,914.9 L1064.6,914.4 L1065.6,914.8 L1066.6,914.8 L1067.6,914.1 L1068.6,915.0 L1069.6,915.0 L1070.6,914.8 L1071.6,914.6 L1072.6,914.2 L1073.6,914.3 L1074.6,914.6 L1075.6,915.0 L1076.6,914.4 L1077.6,914.5 L1078.6,915.0 L1079.6,914.0 L1080.6,912.0 L1081.6,914.3 L1082.6,914.7 L1083.6,914.8 L1084.6,914.1 L1085.6,913.7 L1086.6,914.8 L1087.6,914.4 L1088.6,914.9 L1089.6,914.0 L1090.6,913.8 L1091.6,914.4 L1092.6,914.7 L1093.6,913.7 L1094.6,914.8 L1095.6,914.4 L1096.6,914.6 L1097.6,914.3 L1098.6,914.4 L1099.6,914.5 L1100.6,913.4 L1101.6,913.6 L1102.6,913.9 L1103.6,914.1 L1104.6,914.1 L1105.6,914.1 L1106.6,913.7 L1107.6,913.6 L1108.6,914.4 L1109.6,913.8 L1110.6,913.8 L1111.6,913.4 L1112.6,913.6 L1113.6,914.7 L1114.6,914.7 L1115.6,915.1 L1116.6,914.6 L1117.6,914.5 L1118.6,914.6 L1119.6,914.7 L1120.6,914.4 L1121.6,914.8 L1122.6,914.5 L1123.6,914.9 L1124.6,915.1 L1125.6,915.0 L1126.6,914.7 L1127.6,914.1 L1128.6,914.5 L1129.6,914.4 L1130.6,914.9 L1131.6,914.8 L1132.6,914.4 L1133.6,914.9 L1134.6,915.0 L1135.6,914.7 L1136.6,914.8 L1137.6,915.1 L1138.6,914.1 L1139.6,914.6 L1140.6,914.2 L1141.6,914.7 L1142.6,914.9 L1143.6,914.5 L1144.6,914.3 L1145.6,915.1 L1146.6,914.9 L1147.6,914.9 L1148.6,914.3 L1149.6,914.2 L1150.6,913.9 L1151.6,914.1 L1152.6,914.1 L1153.6,914.1 L1154.6,914.5 L1155.6,914.2 L1156.6,914.7 L1157.6,914.1 L1158.6,913.9 L1159.6,914.3 L1160.6,914.8 L1161.6,914.1 L1162.6,914.1 L1163.6,913.3 L1164.6,914.0 L1165.6,914.3 L1166.6,914.2 L1167.6,913.9 L1168.6,914.1 L1169.6,914.8 L1170.6,912.9 L1171.6,913.6 L1172.6,913.5 L1173.6,911.4 L1174.6,911.3 L1175.6,909.5 L1176.6,909.9 L1177.6,910.4 L1178.6,909.1 L1179.6,909.9 L1180.6,910.3 L1181.6,910.5 L1182.6,907.5 L1183.6,911.0 L1184.6,911.3 L1185.6,911.8 L1186.6,911.6 L1187.6,911.9 L1188.6,912.0 L1189.6,913.1 L1190.6,912.2 L1191.6,911.4 L1192.6,911.5 L1193.6,912.4 L1194.6,912.3 L1195.6,913.5 L1196.6,912.3 L1197.6,912.0 L1198.6,913.6 L1199.6,913.4 L1200.6,912.5 L1201.6,913.3 L1202.6,914.2" fill="none" stroke="#7ad97a" stroke-width="1.0" stroke-linejoin="round"/>
<path d="M893.1,724.1 L894.0,712.0 L894.3,706.0 L894.7,714.0 L895.5,724.1" fill="none" stroke="#fcbf86" stroke-width="1.2"/>
<path d="M1031.3,755.6 L1032.2,714.0 L1032.5,708.0 L1032.9,716.0 L1033.7,755.6" fill="none" stroke="#fcbf86" stroke-width="1.2"/>
<path d="M1166.6,767.8 L1167.5,754.5 L1167.8,748.5 L1168.2,756.5 L1169.0,767.8" fill="none" stroke="#fcbf86" stroke-width="1.2"/>
<polyline points="724.1,833.1 758.4,833.1 827.0,694.9 895.7,833.1 964.3,694.9 1033.0,833.1 1101.6,694.9 1170.2,833.1 1203.3,833.1" fill="none" stroke="#6e6e6e" stroke-width="2.3" stroke-linejoin="miter"/>
</g>
<line x1="1203.3" y1="687.2" x2="1203.3" y2="916.6" stroke="#7c7c7c" stroke-width="2.3"/>
<line x1="1196.8" y1="916.0" x2="1203.3" y2="916.0" stroke="#7c7c7c" stroke-width="2.2"/>
<line x1="1196.8" y1="860.7" x2="1203.3" y2="860.7" stroke="#7c7c7c" stroke-width="2.2"/>
<line x1="1196.8" y1="805.4" x2="1203.3" y2="805.4" stroke="#7c7c7c" stroke-width="2.2"/>
<line x1="1196.8" y1="750.2" x2="1203.3" y2="750.2" stroke="#7c7c7c" stroke-width="2.2"/>
<line x1="1196.8" y1="694.9" x2="1203.3" y2="694.9" stroke="#7c7c7c" stroke-width="2.2"/>
<line x1="1199.8" y1="888.4" x2="1203.3" y2="888.4" stroke="#7c7c7c" stroke-width="2.2"/>
<line x1="1199.8" y1="833.1" x2="1203.3" y2="833.1" stroke="#7c7c7c" stroke-width="2.2"/>
<line x1="1199.8" y1="777.8" x2="1203.3" y2="777.8" stroke="#7c7c7c" stroke-width="2.2"/>
<line x1="1199.8" y1="722.5" x2="1203.3" y2="722.5" stroke="#7c7c7c" stroke-width="2.2"/>
<line x1="724.1" y1="685.95" x2="724.1" y2="917.85" stroke="#1c1c1c" stroke-width="2.9"/>
<line x1="717.1" y1="916.6" x2="724.1" y2="916.6" stroke="#1c1c1c" stroke-width="2.9"/>
<line x1="717.1" y1="868.2" x2="724.1" y2="868.2" stroke="#1c1c1c" stroke-width="2.9"/>
<line x1="717.1" y1="819.8" x2="724.1" y2="819.8" stroke="#1c1c1c" stroke-width="2.9"/>
<line x1="717.1" y1="771.4" x2="724.1" y2="771.4" stroke="#1c1c1c" stroke-width="2.9"/>
<line x1="717.1" y1="723.0" x2="724.1" y2="723.0" stroke="#1c1c1c" stroke-width="2.9"/>
<line x1="720.6" y1="892.4" x2="724.1" y2="892.4" stroke="#1c1c1c" stroke-width="2.9"/>
<line x1="720.6" y1="844.0" x2="724.1" y2="844.0" stroke="#1c1c1c" stroke-width="2.9"/>
<line x1="720.6" y1="795.6" x2="724.1" y2="795.6" stroke="#1c1c1c" stroke-width="2.9"/>
<line x1="720.6" y1="747.2" x2="724.1" y2="747.2" stroke="#1c1c1c" stroke-width="2.9"/>
<line x1="720.6" y1="698.8" x2="724.1" y2="698.8" stroke="#1c1c1c" stroke-width="2.9"/>
<line x1="724.1" y1="687.2" x2="1204.3" y2="687.2" stroke="#1c1c1c" stroke-width="2.9"/>
<line x1="724.1" y1="916.6" x2="1204.3" y2="916.6" stroke="#1c1c1c" stroke-width="2.9"/>
<line x1="748.8" y1="916.6" x2="748.8" y2="922.1" stroke="#1c1c1c" stroke-width="2.9"/>
<line x1="920.4" y1="916.6" x2="920.4" y2="922.1" stroke="#1c1c1c" stroke-width="2.9"/>
<line x1="1092.0" y1="916.6" x2="1092.0" y2="922.1" stroke="#1c1c1c" stroke-width="2.9"/>
<line x1="834.6" y1="916.6" x2="834.6" y2="919.6" stroke="#1c1c1c" stroke-width="2.9"/>
<line x1="1006.2" y1="916.6" x2="1006.2" y2="919.6" stroke="#1c1c1c" stroke-width="2.9"/>
<line x1="1177.8" y1="916.6" x2="1177.8" y2="919.6" stroke="#1c1c1c" stroke-width="2.9"/>
<text x="748.8" y="943.9" font-size="22" text-anchor="middle" fill="#0a0a0a" stroke="#0a0a0a" stroke-width="0.35" font-weight="normal" >500</text>
<text x="920.4" y="943.9" font-size="22" text-anchor="middle" fill="#0a0a0a" stroke="#0a0a0a" stroke-width="0.35" font-weight="normal" >1000</text>
<text x="1092.0" y="943.9" font-size="22" text-anchor="middle" fill="#0a0a0a" stroke="#0a0a0a" stroke-width="0.35" font-weight="normal" >1500</text>
<text x="963.7" y="978.2" font-size="22" text-anchor="middle" fill="#0a0a0a" stroke="#0a0a0a" stroke-width="0.35" font-weight="normal" >Time / s</text>
<text x="1212.6" y="922.6" font-size="22" text-anchor="start" fill="#8e8e8e" stroke="#8e8e8e" stroke-width="0.35" font-weight="normal" >0.0</text>
<text x="1212.6" y="867.3" font-size="22" text-anchor="start" fill="#8e8e8e" stroke="#8e8e8e" stroke-width="0.35" font-weight="normal" >0.4</text>
<text x="1212.6" y="812.0" font-size="22" text-anchor="start" fill="#8e8e8e" stroke="#8e8e8e" stroke-width="0.35" font-weight="normal" >0.8</text>
<text x="1212.6" y="756.8" font-size="22" text-anchor="start" fill="#8e8e8e" stroke="#8e8e8e" stroke-width="0.35" font-weight="normal" >1.2</text>
<text x="1212.6" y="701.5" font-size="22" text-anchor="start" fill="#8e8e8e" stroke="#8e8e8e" stroke-width="0.35" font-weight="normal" >1.6</text>
<g clip-path="url(#clipbRc)">
<path d="M728.5,914.0 L730.2,914.0 L732.4,914.0 L735.1,913.9 L738.3,913.9 L742.0,914.0 L746.3,914.0 L751.6,914.1 L757.9,914.3 L764.8,914.5 L771.6,914.7 L777.9,914.8 L782.9,914.8 L786.7,914.7 L789.6,914.4 L791.9,914.1 L793.8,913.8 L795.6,913.3 L797.5,912.8 L799.4,912.1 L801.1,911.3 L802.7,910.5 L804.1,909.6 L805.6,908.7 L807.2,908.0 L808.8,907.4 L810.5,906.8 L812.2,906.2 L813.8,905.8 L815.4,905.3 L816.9,905.0 L818.2,904.7 L819.4,904.5 L820.5,904.3 L821.7,904.2 L822.9,904.2 L824.2,904.3 L825.7,904.5 L827.3,904.8 L829.0,905.2 L830.6,905.7 L832.3,906.2 L834.0,906.7 L835.6,907.3 L837.1,907.9 L838.7,908.6 L840.3,909.3 L841.9,909.9 L843.7,910.4 L845.6,910.8 L847.7,911.2 L849.8,911.6 L851.9,911.9 L854.0,912.0 L855.9,912.1 L857.7,912.1 L859.4,912.1 L861.1,912.0 L862.6,911.7 L864.2,911.2 L865.6,910.4 L867.0,909.4 L868.3,908.4 L869.5,907.1 L870.6,905.5 L871.8,903.4 L872.9,900.7 L874.0,897.6 L875.1,894.1 L876.1,890.2 L877.1,885.6 L878.1,880.3 L879.0,873.9 L879.9,866.3 L880.7,857.6 L881.5,848.0 L882.3,838.0 L883.1,827.9 L883.9,817.9 L884.7,807.7 L885.5,796.9 L886.4,785.9 L887.2,775.3 L888.0,765.5 L888.7,757.0 L889.4,749.8 L890.1,743.4 L890.7,737.9 L891.3,733.0 L891.9,728.9 L892.4,725.4 L892.8,722.5 L893.1,720.4 L893.4,718.9 L893.7,718.0 L893.9,717.8 L894.3,718.1 L894.7,718.9 L895.2,720.3 L895.7,722.2 L896.2,724.9 L896.8,728.3 L897.3,732.7 L897.9,738.1 L898.4,744.6 L899.0,751.9 L899.6,759.7 L900.2,768.0 L900.9,776.5 L901.6,785.6 L902.4,795.6 L903.3,806.0 L904.1,816.3 L905.0,826.1 L905.8,834.9 L906.6,842.7 L907.4,850.0 L908.2,856.7 L909.0,862.9 L909.8,868.6 L910.7,873.9 L911.6,878.7 L912.6,882.9 L913.6,886.7 L914.6,890.0 L915.6,893.1 L916.7,895.8 L917.8,898.2 L918.9,900.2 L920.0,901.9 L921.2,903.3 L922.5,904.5 L924.0,905.5 L925.7,906.3 L927.5,906.8 L929.5,907.1 L931.6,907.2 L933.8,907.3 L936.2,907.5 L938.9,907.7 L941.8,907.8 L945.0,907.9 L948.0,907.9 L950.9,908.0 L953.3,908.0 L955.2,908.0 L956.6,908.0 L957.8,907.9 L959.0,907.9 L960.3,907.9 L962.0,908.0 L964.1,908.2 L966.4,908.5 L968.9,908.8 L971.5,909.2 L974.1,909.6 L976.6,909.9 L979.1,910.2 L981.6,910.6 L984.1,910.9 L986.5,911.3 L988.9,911.5 L991.2,911.6 L993.4,911.7 L995.6,911.7 L997.8,911.7 L999.8,911.5 L1001.7,911.1 L1003.4,910.4 L1004.9,909.5 L1006.2,908.4 L1007.4,907.1 L1008.5,905.5 L1009.6,903.4 L1010.7,900.7 L1011.8,897.5 L1012.9,893.8 L1013.9,889.7 L1014.9,885.1 L1015.9,879.8 L1016.8,873.9 L1017.7,867.1 L1018.5,859.6 L1019.3,851.4 L1020.0,842.8 L1020.8,834.0 L1021.6,825.2 L1022.4,815.9 L1023.3,805.8 L1024.1,795.5 L1025.0,785.6 L1025.8,776.6 L1026.5,769.2 L1027.2,763.3 L1027.9,758.6 L1028.6,754.8 L1029.2,751.8 L1029.7,749.4 L1030.2,747.3 L1030.5,745.7 L1030.8,744.6 L1030.9,744.2 L1031.1,744.3 L1031.3,744.9 L1031.6,746.1 L1032.0,747.7 L1032.6,749.9 L1033.2,752.5 L1033.8,755.8 L1034.4,759.7 L1035.0,764.3 L1035.6,769.8 L1036.2,776.1 L1036.8,783.1 L1037.4,790.5 L1038.0,798.1 L1038.7,805.7 L1039.4,813.6 L1040.2,822.1 L1041.0,830.8 L1041.8,839.3 L1042.6,847.3 L1043.5,854.4 L1044.4,860.5 L1045.4,866.0 L1046.4,871.0 L1047.4,875.5 L1048.5,879.7 L1049.6,883.6 L1050.7,887.3 L1051.9,890.6 L1053.0,893.6 L1054.2,896.3 L1055.5,898.6 L1056.9,900.7 L1058.3,902.4 L1059.7,903.7 L1061.2,904.7 L1062.8,905.5 L1064.6,906.1 L1066.7,906.7 L1069.1,907.2 L1071.7,907.5 L1074.6,907.6 L1077.6,907.7 L1080.6,907.8 L1083.7,908.0 L1086.8,908.3 L1090.1,908.6 L1093.5,908.9 L1096.8,909.3 L1100.1,909.6 L1103.2,909.9 L1106.2,910.2 L1109.0,910.5 L1111.8,910.9 L1114.6,911.2 L1117.4,911.4 L1120.2,911.6 L1123.1,911.8 L1126.2,912.0 L1129.2,912.2 L1132.1,912.3 L1134.9,912.1 L1137.3,911.6 L1139.4,910.8 L1141.2,909.8 L1142.8,908.6 L1144.3,907.1 L1145.7,905.3 L1147.0,903.1 L1148.2,900.8 L1149.3,898.3 L1150.4,895.6 L1151.3,892.3 L1152.2,888.4 L1153.1,883.6 L1154.0,877.8 L1154.8,871.1 L1155.6,863.7 L1156.4,855.8 L1157.2,847.8 L1158.0,839.8 L1158.8,831.4 L1159.6,822.4 L1160.4,813.2 L1161.2,804.2 L1162.0,795.9 L1162.8,788.7 L1163.6,782.4 L1164.5,776.6 L1165.3,771.5 L1166.2,767.2 L1167.0,764.0 L1167.7,761.9 L1168.4,761.1 L1169.0,761.5 L1169.6,762.9 L1170.1,765.2 L1170.7,768.1 L1171.3,771.6 L1171.9,775.8 L1172.5,780.8 L1173.1,786.5 L1173.7,792.7 L1174.3,799.2 L1175.0,805.7 L1175.7,812.6 L1176.5,820.1 L1177.3,827.9 L1178.1,835.6 L1179.0,842.9 L1179.9,849.5 L1180.8,855.4 L1181.8,860.8 L1182.7,865.8 L1183.8,870.4 L1184.8,874.7 L1185.9,878.7 L1187.0,882.3 L1188.2,885.5 L1189.4,888.3 L1190.6,890.9 L1191.9,893.4 L1193.3,895.8 L1194.9,898.2 L1196.6,900.6 L1198.4,902.8 L1200.1,904.9 L1201.7,906.6 L1203.0,908.0 L1204.0,908.9 L1204.8,909.5 L1205.4,909.8 L1205.8,909.9 L1206.2,909.9 L1206.5,910.0" fill="none" stroke="#f28a26" stroke-width="2.6" stroke-linejoin="round" stroke-linecap="round"/>
<path d="M728.5,914.8 L739.3,914.8 L755.1,914.9 L773.3,915.0 L791.7,915.0 L807.9,915.0 L819.4,914.8 L825.8,914.4 L828.8,913.9 L829.5,913.3 L829.1,912.7 L828.6,912.1 L829.1,911.6 L830.3,911.2 L831.3,910.7 L832.2,910.3 L833.1,910.0 L834.1,909.9 L835.2,909.9 L836.4,910.2 L837.7,910.7 L839.1,911.4 L840.5,912.1 L842.0,912.8 L843.7,913.3 L845.3,913.7 L846.7,914.0 L848.2,914.3 L850.1,914.5 L852.6,914.7 L855.9,914.8 L860.6,914.8 L866.7,914.8 L873.3,914.7 L879.9,914.6 L885.7,914.3 L890.0,914.0 L892.6,913.5 L894.1,913.0 L894.8,912.3 L895.0,911.6 L895.3,911.0 L896.0,910.4 L897.0,909.9 L898.0,909.3 L899.0,908.7 L900.0,908.3 L901.0,908.0 L902.1,908.0 L903.2,908.3 L904.4,908.8 L905.7,909.5 L906.9,910.2 L908.2,911.0 L909.4,911.6 L910.2,912.2 L910.5,912.8 L910.8,913.4 L911.6,914.0 L913.4,914.5 L916.7,914.8 L922.4,915.0 L930.1,915.1 L938.8,915.1 L947.5,915.1 L955.1,915.0 L960.6,914.8 L963.6,914.5 L964.9,914.2 L965.1,913.7 L964.8,913.2 L964.6,912.8 L965.0,912.5 L965.9,912.2 L966.9,911.9 L968.0,911.7 L969.2,911.5 L970.4,911.5 L971.7,911.6 L972.8,911.9 L973.5,912.5 L974.3,913.1 L975.6,913.8 L977.9,914.4 L981.5,914.8 L987.2,915.0 L994.9,915.2 L1003.5,915.3 L1012.1,915.2 L1019.6,915.1 L1025.3,914.8 L1028.8,914.3 L1030.8,913.6 L1031.9,912.7 L1032.5,911.9 L1032.9,911.1 L1033.8,910.4 L1034.9,909.8 L1036.0,909.2 L1036.9,908.7 L1037.9,908.3 L1038.8,908.0 L1039.9,908.0 L1041.0,908.3 L1042.2,908.8 L1043.5,909.5 L1044.7,910.2 L1046.0,911.0 L1047.2,911.6 L1047.9,912.2 L1048.0,912.8 L1048.1,913.5 L1048.8,914.0 L1050.7,914.5 L1054.5,914.8 L1061.0,914.9 L1070.0,914.8 L1080.2,914.7 L1090.4,914.4 L1099.2,914.2 L1105.6,914.0 L1109.1,913.8 L1110.6,913.5 L1110.8,913.2 L1110.4,913.0 L1110.1,912.8 L1110.5,912.8 L1111.1,913.0 L1111.2,913.3 L1111.4,913.8 L1112.2,914.2 L1114.2,914.6 L1117.8,914.8 L1124.0,914.9 L1132.4,914.9 L1142.0,914.8 L1151.6,914.6 L1160.2,914.4 L1166.5,914.0 L1170.4,913.4 L1172.6,912.7 L1173.8,911.8 L1174.4,911.0 L1175.0,910.3 L1176.2,909.9 L1177.7,909.8 L1179.1,910.0 L1180.4,910.3 L1181.9,910.8 L1183.7,911.2 L1186.0,911.6 L1189.0,912.0 L1192.8,912.4 L1196.9,912.9 L1200.8,913.4 L1204.1,913.7 L1206.5,914.0" fill="none" stroke="#2bbf3f" stroke-width="2.8" stroke-linejoin="round" stroke-linecap="round"/>
</g>
<text x="2.2" y="17.2" font-size="20" text-anchor="start" fill="#000" stroke="#000" stroke-width="0.2" font-weight="bold" >(a) 0.6 - 1.1 V</text>
<text x="1.0" y="358.5" font-size="20" text-anchor="start" fill="#000" stroke="#000" stroke-width="0.2" font-weight="bold" >(b) 1.1 - 1.6 V</text>
<text x="4.6" y="673.5" font-size="20" text-anchor="start" fill="#000" stroke="#000" stroke-width="0.2" font-weight="bold" >(c) 0.6 - 1.6 V</text>
<text x="401.5" y="38" font-size="22" font-weight="bold" fill="#000" stroke="#000" stroke-width="0.2">Pt/IrO<tspan font-size="14" dy="5.5">x</tspan></text>
<text x="959.5" y="42" font-size="22" font-weight="bold" fill="#000" stroke="#000" stroke-width="0.2">Pt/IrO<tspan font-size="14" dy="5.5">2</tspan></text>
<text transform="translate(117.6,222.8) rotate(-90)" font-size="22" fill="#0a0a0a" stroke-width="0.35" stroke="#0a0a0a"><tspan fill="#f28a26" stroke="#f28a26">Pt</tspan>, <tspan fill="#33c24a" stroke="#33c24a">Ir</tspan> / µg L<tspan font-size="14" dy="-9">-1</tspan></text>
<text transform="translate(123.5,536.8) rotate(-90)" font-size="22" fill="#0a0a0a" stroke-width="0.35" stroke="#0a0a0a"><tspan fill="#f28a26" stroke="#f28a26">Pt</tspan>, <tspan fill="#33c24a" stroke="#33c24a">Ir</tspan> / µg L<tspan font-size="14" dy="-9">-1</tspan></text>
<text transform="translate(128.1,851.3) rotate(-90)" font-size="22" fill="#0a0a0a" stroke-width="0.35" stroke="#0a0a0a"><tspan fill="#f28a26" stroke="#f28a26">Pt</tspan>, <tspan fill="#33c24a" stroke="#33c24a">Ir</tspan> / µg L<tspan font-size="14" dy="-9">-1</tspan></text>
<text transform="translate(1270.6,174.6) rotate(-90)" font-size="22" fill="#8e8e8e" stroke="#8e8e8e" stroke-width="0.3" text-anchor="middle">E / V vs. RHE</text>
<text transform="translate(1270.8,489.9) rotate(-90)" font-size="22" fill="#8e8e8e" stroke="#8e8e8e" stroke-width="0.3" text-anchor="middle">E / V vs. RHE</text>
<text transform="translate(1271.3,802.2) rotate(-90)" font-size="22" fill="#8e8e8e" stroke="#8e8e8e" stroke-width="0.3" text-anchor="middle">E / V vs. RHE</text>
</g></svg></body></html>
